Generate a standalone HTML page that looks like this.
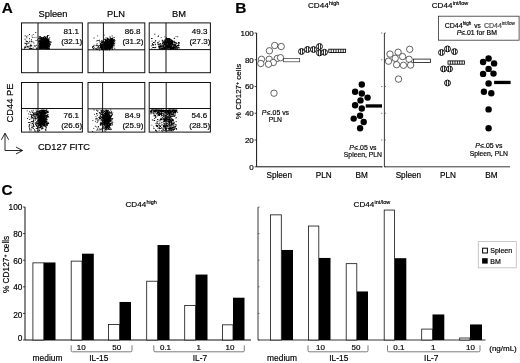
<!DOCTYPE html>
<html><head><meta charset="utf-8"><title>Figure</title>
<style>html,body{margin:0;padding:0;background:#fff;}body{width:520px;height:363px;overflow:hidden;font-family:"Liberation Sans",sans-serif;}svg text{font-family:"Liberation Sans",sans-serif;stroke:#000;stroke-width:0.18px;}</style>
</head><body><svg width="520" height="363" viewBox="0 0 520 363" font-family="Liberation Sans, sans-serif" style="display:block;filter:blur(0.3px)"><text x="1.80" y="12.70" font-size="15.3" text-anchor="start" font-weight="bold" fill="#000" >A</text>
<text x="53.00" y="17.00" font-size="9.3" text-anchor="middle" font-weight="normal" fill="#000" >Spleen</text>
<text x="116.00" y="17.00" font-size="9.3" text-anchor="middle" font-weight="normal" fill="#000" >PLN</text>
<text x="179.00" y="17.00" font-size="9.3" text-anchor="middle" font-weight="normal" fill="#000" >BM</text>
<path d="M42.9 44.7h0.9v0.9h-0.9zM43.0 42.3h0.9v0.9h-0.9zM41.2 42.6h0.9v0.9h-0.9zM46.5 44.5h0.9v0.9h-0.9zM46.3 43.9h0.9v0.9h-0.9zM44.6 43.8h0.9v0.9h-0.9zM39.3 45.8h0.9v0.9h-0.9zM44.9 44.7h0.9v0.9h-0.9zM39.2 38.0h0.9v0.9h-0.9zM41.3 41.8h0.9v0.9h-0.9zM44.4 43.1h0.9v0.9h-0.9zM45.0 41.3h0.9v0.9h-0.9zM44.4 44.4h0.9v0.9h-0.9zM41.9 48.4h0.9v0.9h-0.9zM45.0 46.8h0.9v0.9h-0.9zM42.0 41.0h0.9v0.9h-0.9zM42.7 42.9h0.9v0.9h-0.9zM45.2 43.9h0.9v0.9h-0.9zM42.4 40.3h0.9v0.9h-0.9zM42.2 46.9h0.9v0.9h-0.9zM41.5 43.9h0.9v0.9h-0.9zM44.7 38.7h0.9v0.9h-0.9zM43.7 47.1h0.9v0.9h-0.9zM43.3 40.7h0.9v0.9h-0.9zM44.9 43.0h0.9v0.9h-0.9zM39.8 45.7h0.9v0.9h-0.9zM45.3 46.0h0.9v0.9h-0.9zM47.3 44.3h0.9v0.9h-0.9zM43.9 39.3h0.9v0.9h-0.9zM45.2 41.4h0.9v0.9h-0.9zM42.4 39.4h0.9v0.9h-0.9zM41.1 41.6h0.9v0.9h-0.9zM47.0 37.1h0.9v0.9h-0.9zM39.8 43.9h0.9v0.9h-0.9zM47.4 44.9h0.9v0.9h-0.9zM44.5 41.0h0.9v0.9h-0.9zM40.7 46.1h0.9v0.9h-0.9zM46.5 43.7h0.9v0.9h-0.9zM44.2 44.5h0.9v0.9h-0.9zM47.7 45.1h0.9v0.9h-0.9zM44.9 44.8h0.9v0.9h-0.9zM39.5 47.0h0.9v0.9h-0.9zM46.1 44.8h0.9v0.9h-0.9zM45.8 37.8h0.9v0.9h-0.9zM43.1 46.3h0.9v0.9h-0.9zM40.2 48.0h0.9v0.9h-0.9zM45.0 42.7h0.9v0.9h-0.9zM44.4 45.1h0.9v0.9h-0.9zM43.9 46.6h0.9v0.9h-0.9zM41.9 42.0h0.9v0.9h-0.9zM46.3 43.3h0.9v0.9h-0.9zM41.3 46.0h0.9v0.9h-0.9zM47.4 41.9h0.9v0.9h-0.9zM40.0 42.8h0.9v0.9h-0.9zM43.2 42.3h0.9v0.9h-0.9zM47.3 40.1h0.9v0.9h-0.9zM46.9 39.4h0.9v0.9h-0.9zM41.6 45.1h0.9v0.9h-0.9zM46.5 45.8h0.9v0.9h-0.9zM44.5 43.6h0.9v0.9h-0.9zM44.0 44.9h0.9v0.9h-0.9zM43.1 44.0h0.9v0.9h-0.9zM45.1 43.2h0.9v0.9h-0.9zM45.6 44.9h0.9v0.9h-0.9zM48.8 44.2h0.9v0.9h-0.9zM42.5 42.1h0.9v0.9h-0.9zM43.6 46.0h0.9v0.9h-0.9zM42.7 44.4h0.9v0.9h-0.9zM40.7 43.9h0.9v0.9h-0.9zM44.6 43.9h0.9v0.9h-0.9zM42.5 45.2h0.9v0.9h-0.9zM44.3 41.6h0.9v0.9h-0.9zM49.9 44.3h0.9v0.9h-0.9zM42.2 42.9h0.9v0.9h-0.9zM43.0 43.0h0.9v0.9h-0.9zM46.2 39.7h0.9v0.9h-0.9zM43.4 46.1h0.9v0.9h-0.9zM45.8 47.7h0.9v0.9h-0.9zM39.2 42.1h0.9v0.9h-0.9zM42.7 45.1h0.9v0.9h-0.9zM46.4 38.9h0.9v0.9h-0.9zM45.4 38.7h0.9v0.9h-0.9zM44.1 46.8h0.9v0.9h-0.9zM43.2 43.8h0.9v0.9h-0.9zM45.7 43.6h0.9v0.9h-0.9zM43.4 47.8h0.9v0.9h-0.9zM46.3 42.3h0.9v0.9h-0.9zM46.0 42.4h0.9v0.9h-0.9zM43.9 45.3h0.9v0.9h-0.9zM44.2 45.1h0.9v0.9h-0.9zM39.6 38.7h0.9v0.9h-0.9zM45.2 40.3h0.9v0.9h-0.9zM40.9 38.8h0.9v0.9h-0.9zM46.9 45.4h0.9v0.9h-0.9zM47.4 40.4h0.9v0.9h-0.9zM43.6 39.8h0.9v0.9h-0.9zM45.6 48.0h0.9v0.9h-0.9zM41.3 47.9h0.9v0.9h-0.9zM46.2 42.7h0.9v0.9h-0.9zM43.3 41.4h0.9v0.9h-0.9zM44.6 44.4h0.9v0.9h-0.9zM47.5 40.1h0.9v0.9h-0.9zM46.6 47.7h0.9v0.9h-0.9zM47.4 42.7h0.9v0.9h-0.9zM41.7 46.3h0.9v0.9h-0.9zM43.9 43.6h0.9v0.9h-0.9zM47.3 42.4h0.9v0.9h-0.9zM38.8 45.7h0.9v0.9h-0.9zM44.4 41.4h0.9v0.9h-0.9zM43.6 45.7h0.9v0.9h-0.9zM43.8 47.2h0.9v0.9h-0.9zM43.4 46.3h0.9v0.9h-0.9zM47.5 48.0h0.9v0.9h-0.9zM41.9 45.8h0.9v0.9h-0.9zM38.7 39.9h0.9v0.9h-0.9zM40.4 43.2h0.9v0.9h-0.9zM43.1 43.1h0.9v0.9h-0.9zM42.1 43.9h0.9v0.9h-0.9zM48.3 43.3h0.9v0.9h-0.9zM45.0 46.2h0.9v0.9h-0.9zM43.1 39.4h0.9v0.9h-0.9zM42.2 46.4h0.9v0.9h-0.9zM39.3 41.4h0.9v0.9h-0.9zM46.2 45.6h0.9v0.9h-0.9zM43.6 45.6h0.9v0.9h-0.9zM44.0 39.7h0.9v0.9h-0.9zM39.5 41.3h0.9v0.9h-0.9zM46.0 41.5h0.9v0.9h-0.9zM41.3 40.9h0.9v0.9h-0.9zM39.6 42.8h0.9v0.9h-0.9zM40.5 44.3h0.9v0.9h-0.9zM41.9 37.4h0.9v0.9h-0.9zM45.5 42.4h0.9v0.9h-0.9zM44.4 41.8h0.9v0.9h-0.9zM45.6 45.4h0.9v0.9h-0.9zM45.3 44.2h0.9v0.9h-0.9zM47.1 45.2h0.9v0.9h-0.9zM44.8 36.9h0.9v0.9h-0.9zM45.9 47.1h0.9v0.9h-0.9zM42.8 41.8h0.9v0.9h-0.9zM48.6 37.9h0.9v0.9h-0.9zM41.2 45.3h0.9v0.9h-0.9zM48.5 42.8h0.9v0.9h-0.9zM45.1 45.9h0.9v0.9h-0.9zM41.2 42.9h0.9v0.9h-0.9zM44.4 45.7h0.9v0.9h-0.9zM43.5 42.6h0.9v0.9h-0.9zM41.0 42.1h0.9v0.9h-0.9zM45.9 43.5h0.9v0.9h-0.9zM41.4 40.7h0.9v0.9h-0.9zM45.2 44.6h0.9v0.9h-0.9zM48.0 44.5h0.9v0.9h-0.9zM43.4 44.8h0.9v0.9h-0.9zM44.4 41.1h0.9v0.9h-0.9zM47.0 48.6h0.9v0.9h-0.9zM40.0 41.2h0.9v0.9h-0.9zM44.4 43.8h0.9v0.9h-0.9zM42.6 40.3h0.9v0.9h-0.9zM49.1 46.3h0.9v0.9h-0.9zM40.5 39.2h0.9v0.9h-0.9zM48.0 46.2h0.9v0.9h-0.9zM48.3 45.6h0.9v0.9h-0.9zM41.3 44.0h0.9v0.9h-0.9zM43.4 44.8h0.9v0.9h-0.9zM41.7 42.8h0.9v0.9h-0.9zM44.8 44.3h0.9v0.9h-0.9zM45.3 43.8h0.9v0.9h-0.9zM42.8 45.6h0.9v0.9h-0.9zM43.7 40.7h0.9v0.9h-0.9zM42.0 43.2h0.9v0.9h-0.9zM43.3 43.7h0.9v0.9h-0.9zM43.6 43.7h0.9v0.9h-0.9zM43.3 39.4h0.9v0.9h-0.9zM44.7 46.4h0.9v0.9h-0.9zM44.7 42.6h0.9v0.9h-0.9zM44.8 40.3h0.9v0.9h-0.9zM38.7 43.4h0.9v0.9h-0.9zM41.2 45.4h0.9v0.9h-0.9zM40.9 47.9h0.9v0.9h-0.9zM42.6 39.1h0.9v0.9h-0.9zM41.6 44.8h0.9v0.9h-0.9zM44.9 43.7h0.9v0.9h-0.9zM47.5 45.3h0.9v0.9h-0.9zM43.5 45.0h0.9v0.9h-0.9zM47.9 46.1h0.9v0.9h-0.9zM46.3 40.0h0.9v0.9h-0.9zM43.2 45.4h0.9v0.9h-0.9zM42.8 46.4h0.9v0.9h-0.9zM45.2 45.9h0.9v0.9h-0.9zM46.8 42.6h0.9v0.9h-0.9zM42.7 45.8h0.9v0.9h-0.9zM46.1 43.2h0.9v0.9h-0.9zM40.6 43.8h0.9v0.9h-0.9zM44.5 46.6h0.9v0.9h-0.9zM45.6 43.3h0.9v0.9h-0.9zM45.8 44.8h0.9v0.9h-0.9zM44.1 43.4h0.9v0.9h-0.9zM43.0 45.3h0.9v0.9h-0.9zM40.9 41.3h0.9v0.9h-0.9zM43.6 38.8h0.9v0.9h-0.9zM42.5 37.2h0.9v0.9h-0.9zM41.8 44.9h0.9v0.9h-0.9zM45.1 43.0h0.9v0.9h-0.9zM43.0 38.9h0.9v0.9h-0.9zM48.4 44.7h0.9v0.9h-0.9zM46.4 40.6h0.9v0.9h-0.9zM43.1 37.7h0.9v0.9h-0.9zM45.6 46.0h0.9v0.9h-0.9zM38.7 43.0h0.9v0.9h-0.9zM45.2 37.9h0.9v0.9h-0.9zM38.9 40.0h0.9v0.9h-0.9zM42.0 39.0h0.9v0.9h-0.9zM43.7 43.9h0.9v0.9h-0.9zM45.2 45.3h0.9v0.9h-0.9zM47.5 46.7h0.9v0.9h-0.9zM40.2 41.7h0.9v0.9h-0.9zM40.8 40.0h0.9v0.9h-0.9zM43.4 43.2h0.9v0.9h-0.9zM44.9 38.4h0.9v0.9h-0.9zM40.4 43.1h0.9v0.9h-0.9zM43.1 42.3h0.9v0.9h-0.9zM43.4 40.9h0.9v0.9h-0.9zM45.4 44.3h0.9v0.9h-0.9zM43.4 41.2h0.9v0.9h-0.9zM41.0 43.3h0.9v0.9h-0.9zM39.7 43.8h0.9v0.9h-0.9zM44.0 39.1h0.9v0.9h-0.9zM42.9 42.3h0.9v0.9h-0.9zM44.8 45.0h0.9v0.9h-0.9zM43.5 40.6h0.9v0.9h-0.9zM43.2 43.0h0.9v0.9h-0.9zM45.5 44.1h0.9v0.9h-0.9zM41.7 39.1h0.9v0.9h-0.9zM42.6 41.0h0.9v0.9h-0.9zM40.7 42.9h0.9v0.9h-0.9zM42.3 43.5h0.9v0.9h-0.9zM45.0 42.0h0.9v0.9h-0.9zM49.6 42.2h0.9v0.9h-0.9zM46.5 43.6h0.9v0.9h-0.9zM46.5 36.1h0.9v0.9h-0.9zM41.6 43.9h0.9v0.9h-0.9zM44.4 47.0h0.9v0.9h-0.9zM45.6 46.0h0.9v0.9h-0.9zM44.9 42.7h0.9v0.9h-0.9zM44.9 40.0h0.9v0.9h-0.9zM46.7 40.1h0.9v0.9h-0.9zM43.0 43.3h0.9v0.9h-0.9zM46.6 43.3h0.9v0.9h-0.9zM41.5 44.0h0.9v0.9h-0.9zM45.1 45.3h0.9v0.9h-0.9zM41.6 48.5h0.9v0.9h-0.9zM47.9 43.3h0.9v0.9h-0.9zM44.3 41.9h0.9v0.9h-0.9zM47.3 41.1h0.9v0.9h-0.9zM45.4 41.8h0.9v0.9h-0.9zM41.8 45.4h0.9v0.9h-0.9zM47.1 43.2h0.9v0.9h-0.9zM41.8 45.6h0.9v0.9h-0.9zM43.5 44.1h0.9v0.9h-0.9zM47.6 46.6h0.9v0.9h-0.9zM43.6 45.6h0.9v0.9h-0.9zM41.9 43.1h0.9v0.9h-0.9zM39.1 48.6h0.9v0.9h-0.9zM47.2 39.6h0.9v0.9h-0.9zM39.7 38.3h0.9v0.9h-0.9zM46.7 41.8h0.9v0.9h-0.9zM43.4 42.3h0.9v0.9h-0.9zM43.3 39.9h0.9v0.9h-0.9zM43.7 38.9h0.9v0.9h-0.9zM43.4 44.1h0.9v0.9h-0.9zM44.8 42.5h0.9v0.9h-0.9zM41.3 43.7h0.9v0.9h-0.9zM42.3 47.9h0.9v0.9h-0.9zM45.6 42.9h0.9v0.9h-0.9zM42.4 41.1h0.9v0.9h-0.9zM41.2 42.1h0.9v0.9h-0.9zM44.4 44.7h0.9v0.9h-0.9zM41.8 43.2h0.9v0.9h-0.9zM42.2 43.7h0.9v0.9h-0.9zM44.0 44.4h0.9v0.9h-0.9zM43.0 44.3h0.9v0.9h-0.9zM43.7 45.5h0.9v0.9h-0.9zM38.7 40.5h0.9v0.9h-0.9zM43.6 40.1h0.9v0.9h-0.9zM40.9 45.1h0.9v0.9h-0.9zM41.9 45.1h0.9v0.9h-0.9zM45.5 44.1h0.9v0.9h-0.9zM44.9 42.9h0.9v0.9h-0.9zM39.9 43.1h0.9v0.9h-0.9zM44.8 41.6h0.9v0.9h-0.9zM43.3 45.4h0.9v0.9h-0.9zM41.3 45.1h0.9v0.9h-0.9zM48.4 41.5h0.9v0.9h-0.9zM44.0 42.7h0.9v0.9h-0.9zM47.6 44.1h0.9v0.9h-0.9zM45.9 41.1h0.9v0.9h-0.9zM43.6 43.2h0.9v0.9h-0.9zM39.0 47.5h0.9v0.9h-0.9zM45.9 38.0h0.9v0.9h-0.9zM45.5 42.8h0.9v0.9h-0.9zM44.8 44.3h0.9v0.9h-0.9zM39.7 42.6h0.9v0.9h-0.9zM47.5 41.5h0.9v0.9h-0.9zM40.9 39.1h0.9v0.9h-0.9zM40.4 44.2h0.9v0.9h-0.9zM48.0 44.5h0.9v0.9h-0.9zM42.2 41.2h0.9v0.9h-0.9zM45.0 44.8h0.9v0.9h-0.9zM41.0 39.7h0.9v0.9h-0.9zM44.4 43.9h0.9v0.9h-0.9zM40.2 42.6h0.9v0.9h-0.9zM42.2 44.6h0.9v0.9h-0.9zM43.3 42.9h0.9v0.9h-0.9zM42.7 46.4h0.9v0.9h-0.9zM47.2 42.1h0.9v0.9h-0.9zM45.8 40.9h0.9v0.9h-0.9zM43.8 45.4h0.9v0.9h-0.9zM47.5 42.1h0.9v0.9h-0.9zM43.4 43.8h0.9v0.9h-0.9zM39.7 43.2h0.9v0.9h-0.9zM41.8 44.3h0.9v0.9h-0.9zM40.7 37.3h0.9v0.9h-0.9zM43.7 44.0h0.9v0.9h-0.9zM42.2 45.9h0.9v0.9h-0.9zM42.9 41.4h0.9v0.9h-0.9zM44.8 38.5h0.9v0.9h-0.9zM41.8 43.1h0.9v0.9h-0.9zM45.8 42.7h0.9v0.9h-0.9zM44.4 41.2h0.9v0.9h-0.9zM44.4 48.2h0.9v0.9h-0.9zM41.9 43.3h0.9v0.9h-0.9zM44.1 46.3h0.9v0.9h-0.9zM40.4 36.9h0.9v0.9h-0.9zM45.2 45.6h0.9v0.9h-0.9zM44.1 44.0h0.9v0.9h-0.9zM46.0 44.3h0.9v0.9h-0.9zM47.9 39.5h0.9v0.9h-0.9zM45.7 42.1h0.9v0.9h-0.9zM43.6 42.4h0.9v0.9h-0.9zM42.3 40.7h0.9v0.9h-0.9zM42.0 45.1h0.9v0.9h-0.9zM43.7 43.4h0.9v0.9h-0.9zM43.1 45.9h0.9v0.9h-0.9zM44.9 42.8h0.9v0.9h-0.9zM45.3 42.7h0.9v0.9h-0.9zM40.6 47.6h0.9v0.9h-0.9zM44.8 40.3h0.9v0.9h-0.9zM46.4 44.2h0.9v0.9h-0.9zM39.5 48.0h0.9v0.9h-0.9zM44.5 45.9h0.9v0.9h-0.9zM44.1 42.8h0.9v0.9h-0.9zM39.6 46.1h0.9v0.9h-0.9zM43.7 42.3h0.9v0.9h-0.9zM44.5 43.4h0.9v0.9h-0.9zM45.4 42.1h0.9v0.9h-0.9zM43.5 36.8h0.9v0.9h-0.9zM42.5 45.2h0.9v0.9h-0.9zM47.1 42.1h0.9v0.9h-0.9zM43.3 48.0h0.9v0.9h-0.9zM42.8 45.4h0.9v0.9h-0.9zM48.0 43.3h0.9v0.9h-0.9zM46.8 41.1h0.9v0.9h-0.9zM44.1 43.0h0.9v0.9h-0.9zM43.9 46.6h0.9v0.9h-0.9zM49.8 41.2h0.9v0.9h-0.9zM42.1 44.7h0.9v0.9h-0.9zM40.9 44.7h0.9v0.9h-0.9zM45.1 42.4h0.9v0.9h-0.9zM45.0 38.6h0.9v0.9h-0.9zM45.6 38.6h0.9v0.9h-0.9zM41.8 41.5h0.9v0.9h-0.9zM42.6 45.8h0.9v0.9h-0.9zM43.8 42.0h0.9v0.9h-0.9zM45.0 47.9h0.9v0.9h-0.9zM43.6 44.3h0.9v0.9h-0.9zM46.8 44.0h0.9v0.9h-0.9zM49.3 37.2h0.9v0.9h-0.9zM43.5 44.5h0.9v0.9h-0.9zM46.1 45.2h0.9v0.9h-0.9zM42.9 40.0h0.9v0.9h-0.9zM43.9 46.3h0.9v0.9h-0.9zM40.8 40.1h0.9v0.9h-0.9zM43.5 37.4h0.9v0.9h-0.9zM42.9 41.9h0.9v0.9h-0.9zM44.8 41.1h0.9v0.9h-0.9zM41.3 42.0h0.9v0.9h-0.9zM43.5 41.2h0.9v0.9h-0.9zM43.6 45.5h0.9v0.9h-0.9zM46.7 48.3h0.9v0.9h-0.9zM41.6 41.9h0.9v0.9h-0.9zM41.7 43.1h0.9v0.9h-0.9zM45.0 39.1h0.9v0.9h-0.9zM44.8 43.1h0.9v0.9h-0.9zM38.9 44.1h0.9v0.9h-0.9zM46.7 37.6h0.9v0.9h-0.9zM45.7 43.8h0.9v0.9h-0.9zM44.8 44.5h0.9v0.9h-0.9zM47.0 42.5h0.9v0.9h-0.9zM45.9 42.0h0.9v0.9h-0.9zM45.5 40.8h0.9v0.9h-0.9zM43.3 48.4h0.9v0.9h-0.9zM44.8 42.7h0.9v0.9h-0.9zM40.6 40.8h0.9v0.9h-0.9zM44.1 46.0h0.9v0.9h-0.9zM44.7 44.8h0.9v0.9h-0.9zM43.5 47.3h0.9v0.9h-0.9zM42.6 41.6h0.9v0.9h-0.9zM45.9 43.4h0.9v0.9h-0.9zM42.9 41.5h0.9v0.9h-0.9zM42.9 45.1h0.9v0.9h-0.9zM44.5 39.6h0.9v0.9h-0.9zM44.7 43.7h0.9v0.9h-0.9zM41.0 45.5h0.9v0.9h-0.9zM42.9 42.2h0.9v0.9h-0.9zM45.7 47.2h0.9v0.9h-0.9zM41.8 44.5h0.9v0.9h-0.9zM42.3 46.8h0.9v0.9h-0.9zM41.9 45.6h0.9v0.9h-0.9zM42.5 44.7h0.9v0.9h-0.9zM43.4 41.2h0.9v0.9h-0.9zM49.2 43.4h0.9v0.9h-0.9zM39.3 45.8h0.9v0.9h-0.9zM39.1 46.7h0.9v0.9h-0.9zM42.1 43.6h0.9v0.9h-0.9zM46.9 43.6h0.9v0.9h-0.9zM40.0 38.1h0.9v0.9h-0.9zM46.7 45.4h0.9v0.9h-0.9zM41.5 45.8h0.9v0.9h-0.9zM44.9 45.1h0.9v0.9h-0.9zM45.9 45.4h0.9v0.9h-0.9zM44.0 44.7h0.9v0.9h-0.9zM42.7 43.3h0.9v0.9h-0.9zM45.9 41.9h0.9v0.9h-0.9zM46.6 40.8h0.9v0.9h-0.9zM44.3 41.6h0.9v0.9h-0.9zM44.0 41.1h0.9v0.9h-0.9zM39.4 46.5h0.9v0.9h-0.9zM44.4 41.5h0.9v0.9h-0.9zM44.1 46.2h0.9v0.9h-0.9zM41.1 42.9h0.9v0.9h-0.9zM45.0 44.8h0.9v0.9h-0.9zM42.7 36.9h0.9v0.9h-0.9zM46.8 44.2h0.9v0.9h-0.9zM43.6 42.4h0.9v0.9h-0.9zM44.3 41.9h0.9v0.9h-0.9zM40.9 41.0h0.9v0.9h-0.9zM42.0 41.4h0.9v0.9h-0.9zM40.6 45.1h0.9v0.9h-0.9zM40.2 45.2h0.9v0.9h-0.9zM41.0 44.3h0.9v0.9h-0.9zM47.2 43.8h0.9v0.9h-0.9zM41.7 43.3h0.9v0.9h-0.9zM44.0 38.0h0.9v0.9h-0.9zM42.0 43.7h0.9v0.9h-0.9zM42.4 43.4h0.9v0.9h-0.9zM45.5 45.5h0.9v0.9h-0.9zM46.0 45.0h0.9v0.9h-0.9zM42.9 43.1h0.9v0.9h-0.9zM42.9 42.3h0.9v0.9h-0.9zM43.1 38.0h0.9v0.9h-0.9zM42.7 43.1h0.9v0.9h-0.9zM41.1 43.1h0.9v0.9h-0.9zM44.9 42.7h0.9v0.9h-0.9zM43.1 37.7h0.9v0.9h-0.9zM44.9 42.3h0.9v0.9h-0.9zM45.0 36.5h0.9v0.9h-0.9zM45.8 44.3h0.9v0.9h-0.9zM43.7 41.4h0.9v0.9h-0.9zM45.3 41.7h0.9v0.9h-0.9zM44.2 41.7h0.9v0.9h-0.9zM44.1 45.5h0.9v0.9h-0.9zM41.3 43.1h0.9v0.9h-0.9zM45.2 43.6h0.9v0.9h-0.9zM41.2 37.4h0.9v0.9h-0.9zM45.8 47.8h0.9v0.9h-0.9zM46.0 45.6h0.9v0.9h-0.9zM42.0 41.1h0.9v0.9h-0.9zM45.9 40.5h0.9v0.9h-0.9zM38.9 40.2h0.9v0.9h-0.9zM41.8 41.0h0.9v0.9h-0.9zM44.2 41.0h0.9v0.9h-0.9zM47.0 43.0h0.9v0.9h-0.9zM40.8 47.1h0.9v0.9h-0.9zM42.1 43.9h0.9v0.9h-0.9zM43.6 42.3h0.9v0.9h-0.9zM44.4 41.1h0.9v0.9h-0.9zM38.8 36.6h0.9v0.9h-0.9zM40.3 40.9h0.9v0.9h-0.9zM43.5 43.4h0.9v0.9h-0.9zM45.0 43.6h0.9v0.9h-0.9zM41.5 41.1h0.9v0.9h-0.9zM44.9 44.8h0.9v0.9h-0.9zM43.3 42.7h0.9v0.9h-0.9zM46.0 43.2h0.9v0.9h-0.9zM45.5 44.9h0.9v0.9h-0.9zM44.2 47.1h0.9v0.9h-0.9zM42.1 42.1h0.9v0.9h-0.9zM41.5 40.8h0.9v0.9h-0.9zM47.6 48.5h0.9v0.9h-0.9zM43.7 44.9h0.9v0.9h-0.9zM46.7 45.6h0.9v0.9h-0.9zM46.7 39.4h0.9v0.9h-0.9zM41.9 44.6h0.9v0.9h-0.9zM47.3 43.5h0.9v0.9h-0.9zM41.4 42.1h0.9v0.9h-0.9zM41.9 40.6h0.9v0.9h-0.9zM47.5 41.3h0.9v0.9h-0.9zM46.7 44.2h0.9v0.9h-0.9zM42.0 44.4h0.9v0.9h-0.9zM47.8 45.1h0.9v0.9h-0.9zM46.9 43.5h0.9v0.9h-0.9zM44.9 42.6h0.9v0.9h-0.9zM44.7 47.1h0.9v0.9h-0.9zM39.9 43.0h0.9v0.9h-0.9zM44.2 41.5h0.9v0.9h-0.9zM42.8 45.6h0.9v0.9h-0.9zM48.8 45.1h0.9v0.9h-0.9zM44.4 38.5h0.9v0.9h-0.9zM48.6 43.4h0.9v0.9h-0.9zM43.5 39.8h0.9v0.9h-0.9zM43.5 39.9h0.9v0.9h-0.9zM43.8 44.6h0.9v0.9h-0.9zM43.7 44.0h0.9v0.9h-0.9zM41.4 47.5h0.9v0.9h-0.9zM41.9 37.7h0.9v0.9h-0.9zM43.1 40.9h0.9v0.9h-0.9zM41.0 42.1h0.9v0.9h-0.9zM44.4 39.7h0.9v0.9h-0.9zM43.2 47.5h0.9v0.9h-0.9zM45.4 42.7h0.9v0.9h-0.9zM43.9 42.8h0.9v0.9h-0.9zM43.5 45.4h0.9v0.9h-0.9zM43.5 40.5h0.9v0.9h-0.9zM45.3 41.4h0.9v0.9h-0.9zM40.9 39.8h0.9v0.9h-0.9zM39.9 36.0h0.9v0.9h-0.9zM38.7 44.3h0.9v0.9h-0.9zM41.9 37.6h0.9v0.9h-0.9zM39.7 45.1h0.9v0.9h-0.9zM41.6 42.1h0.9v0.9h-0.9zM44.5 47.3h0.9v0.9h-0.9zM48.6 46.3h0.9v0.9h-0.9zM44.0 43.8h0.9v0.9h-0.9zM48.3 47.5h0.9v0.9h-0.9zM42.8 44.6h0.9v0.9h-0.9zM44.3 43.4h0.9v0.9h-0.9zM42.3 39.2h0.9v0.9h-0.9zM42.2 38.6h0.9v0.9h-0.9zM46.8 44.8h0.9v0.9h-0.9zM40.5 47.4h0.9v0.9h-0.9zM45.9 37.5h0.9v0.9h-0.9zM48.4 45.6h0.9v0.9h-0.9zM49.0 39.5h0.9v0.9h-0.9zM45.0 44.5h0.9v0.9h-0.9zM44.1 43.7h0.9v0.9h-0.9zM46.3 38.7h0.9v0.9h-0.9zM40.4 39.0h0.9v0.9h-0.9zM42.2 41.4h0.9v0.9h-0.9zM44.6 44.0h0.9v0.9h-0.9zM43.7 41.2h0.9v0.9h-0.9zM42.5 46.1h0.9v0.9h-0.9zM45.6 43.5h0.9v0.9h-0.9zM42.8 47.9h0.9v0.9h-0.9zM42.1 45.1h0.9v0.9h-0.9zM46.6 42.4h0.9v0.9h-0.9zM45.7 39.9h0.9v0.9h-0.9zM46.2 43.8h0.9v0.9h-0.9zM39.5 45.2h0.9v0.9h-0.9zM41.3 47.0h0.9v0.9h-0.9zM41.8 42.7h0.9v0.9h-0.9zM44.3 42.2h0.9v0.9h-0.9zM44.3 41.5h0.9v0.9h-0.9zM45.3 43.2h0.9v0.9h-0.9zM46.6 43.3h0.9v0.9h-0.9zM39.0 43.5h0.9v0.9h-0.9zM44.8 46.4h0.9v0.9h-0.9zM40.8 47.8h0.9v0.9h-0.9zM43.2 45.2h0.9v0.9h-0.9zM42.6 39.9h0.9v0.9h-0.9zM46.5 45.9h0.9v0.9h-0.9zM47.6 45.8h0.9v0.9h-0.9zM42.1 38.2h0.9v0.9h-0.9zM41.9 41.2h0.9v0.9h-0.9zM41.5 44.9h0.9v0.9h-0.9zM44.5 42.4h0.9v0.9h-0.9zM44.0 42.8h0.9v0.9h-0.9zM44.2 45.5h0.9v0.9h-0.9zM46.1 41.1h0.9v0.9h-0.9zM39.7 47.5h0.9v0.9h-0.9zM43.9 46.5h0.9v0.9h-0.9zM39.3 42.2h0.9v0.9h-0.9zM43.7 38.9h0.9v0.9h-0.9zM42.3 45.4h0.9v0.9h-0.9zM46.4 48.0h0.9v0.9h-0.9zM41.4 39.0h0.9v0.9h-0.9zM45.0 46.0h0.9v0.9h-0.9zM44.1 39.3h0.9v0.9h-0.9zM45.6 45.6h0.9v0.9h-0.9zM45.0 41.7h0.9v0.9h-0.9zM44.4 45.6h0.9v0.9h-0.9zM42.1 37.7h0.9v0.9h-0.9zM44.5 44.6h0.9v0.9h-0.9zM43.6 45.9h0.9v0.9h-0.9zM42.1 43.0h0.9v0.9h-0.9zM42.8 44.9h0.9v0.9h-0.9zM47.7 42.4h0.9v0.9h-0.9zM48.9 47.8h0.9v0.9h-0.9zM45.7 45.0h0.9v0.9h-0.9zM48.2 42.7h0.9v0.9h-0.9zM43.3 40.0h0.9v0.9h-0.9zM44.8 47.2h0.9v0.9h-0.9zM45.0 44.5h0.9v0.9h-0.9zM43.1 43.7h0.9v0.9h-0.9zM39.9 46.3h0.9v0.9h-0.9zM42.5 39.9h0.9v0.9h-0.9zM41.6 40.7h0.9v0.9h-0.9zM45.8 46.4h0.9v0.9h-0.9zM40.1 46.0h0.9v0.9h-0.9zM45.9 41.5h0.9v0.9h-0.9zM39.7 41.0h0.9v0.9h-0.9zM42.0 44.2h0.9v0.9h-0.9zM42.7 37.1h0.9v0.9h-0.9zM44.2 38.6h0.9v0.9h-0.9zM46.0 39.6h0.9v0.9h-0.9zM41.8 40.6h0.9v0.9h-0.9zM42.2 47.1h0.9v0.9h-0.9zM45.8 45.0h0.9v0.9h-0.9zM44.4 38.6h0.9v0.9h-0.9zM42.2 41.5h0.9v0.9h-0.9zM41.1 44.7h0.9v0.9h-0.9zM41.7 41.1h0.9v0.9h-0.9zM40.9 37.0h0.9v0.9h-0.9zM45.1 47.2h0.9v0.9h-0.9zM44.1 40.3h0.9v0.9h-0.9zM46.8 44.1h0.9v0.9h-0.9zM46.0 47.6h0.9v0.9h-0.9zM46.5 41.9h0.9v0.9h-0.9zM46.3 45.5h0.9v0.9h-0.9zM39.6 42.0h0.9v0.9h-0.9zM39.9 42.9h0.9v0.9h-0.9zM45.1 40.0h0.9v0.9h-0.9zM44.6 47.6h0.9v0.9h-0.9zM40.2 46.4h0.9v0.9h-0.9zM43.1 44.0h0.9v0.9h-0.9zM43.2 46.2h0.9v0.9h-0.9zM46.3 43.5h0.9v0.9h-0.9zM40.1 45.4h0.9v0.9h-0.9zM42.4 45.1h0.9v0.9h-0.9zM44.3 48.1h0.9v0.9h-0.9zM46.6 41.8h0.9v0.9h-0.9zM44.5 48.5h0.9v0.9h-0.9zM42.2 44.5h0.9v0.9h-0.9zM46.7 47.0h0.9v0.9h-0.9zM44.9 39.2h0.9v0.9h-0.9zM40.3 43.9h0.9v0.9h-0.9zM41.4 46.6h0.9v0.9h-0.9zM45.6 38.2h0.9v0.9h-0.9zM41.5 43.7h0.9v0.9h-0.9zM42.3 42.7h0.9v0.9h-0.9zM44.8 40.8h0.9v0.9h-0.9zM44.8 41.3h0.9v0.9h-0.9zM42.2 44.8h0.9v0.9h-0.9zM42.1 44.1h0.9v0.9h-0.9zM47.8 43.3h0.9v0.9h-0.9zM43.2 45.4h0.9v0.9h-0.9zM42.6 46.4h0.9v0.9h-0.9zM40.3 45.1h0.9v0.9h-0.9zM42.3 40.8h0.9v0.9h-0.9zM48.2 40.6h0.9v0.9h-0.9zM48.2 45.2h0.9v0.9h-0.9zM47.4 40.3h0.9v0.9h-0.9zM46.7 47.6h0.9v0.9h-0.9zM43.3 42.8h0.9v0.9h-0.9zM50.0 43.7h0.9v0.9h-0.9zM42.5 41.3h0.9v0.9h-0.9zM44.8 44.2h0.9v0.9h-0.9zM44.1 48.4h0.9v0.9h-0.9zM42.7 44.6h0.9v0.9h-0.9zM47.4 40.2h0.9v0.9h-0.9zM46.3 48.7h0.9v0.9h-0.9zM40.1 39.9h0.9v0.9h-0.9zM40.9 37.7h0.9v0.9h-0.9zM44.8 37.6h0.9v0.9h-0.9zM44.9 47.6h0.9v0.9h-0.9zM39.4 42.3h0.9v0.9h-0.9zM38.6 45.5h0.9v0.9h-0.9zM41.7 42.4h0.9v0.9h-0.9zM43.7 44.8h0.9v0.9h-0.9zM42.7 43.2h0.9v0.9h-0.9zM42.2 43.5h0.9v0.9h-0.9zM40.6 43.4h0.9v0.9h-0.9zM48.6 43.4h0.9v0.9h-0.9zM40.3 44.0h0.9v0.9h-0.9zM41.1 38.2h0.9v0.9h-0.9zM41.7 45.4h0.9v0.9h-0.9zM44.6 42.9h0.9v0.9h-0.9zM41.2 40.0h0.9v0.9h-0.9zM47.1 43.9h0.9v0.9h-0.9zM41.1 36.9h0.9v0.9h-0.9zM40.6 43.0h0.9v0.9h-0.9zM44.1 42.7h0.9v0.9h-0.9zM42.9 39.1h0.9v0.9h-0.9zM40.9 48.3h0.9v0.9h-0.9zM41.6 45.7h0.9v0.9h-0.9zM39.2 42.4h0.9v0.9h-0.9zM44.3 46.3h0.9v0.9h-0.9zM40.7 45.0h0.9v0.9h-0.9zM44.6 41.0h0.9v0.9h-0.9zM44.8 40.5h0.9v0.9h-0.9zM41.5 43.1h0.9v0.9h-0.9zM41.0 38.8h0.9v0.9h-0.9zM42.5 45.5h0.9v0.9h-0.9zM42.5 47.0h0.9v0.9h-0.9zM40.6 39.3h0.9v0.9h-0.9zM47.6 44.4h0.9v0.9h-0.9zM46.1 40.7h0.9v0.9h-0.9zM45.7 44.0h0.9v0.9h-0.9zM45.3 43.3h0.9v0.9h-0.9zM46.7 41.3h0.9v0.9h-0.9zM41.1 38.8h0.9v0.9h-0.9zM46.6 41.0h0.9v0.9h-0.9zM40.9 40.4h0.9v0.9h-0.9zM42.4 39.4h0.9v0.9h-0.9zM42.8 41.3h0.9v0.9h-0.9zM42.2 40.3h0.9v0.9h-0.9zM43.7 41.8h0.9v0.9h-0.9zM43.9 43.9h0.9v0.9h-0.9zM44.5 36.6h0.9v0.9h-0.9zM42.2 40.8h0.9v0.9h-0.9zM45.6 38.5h0.9v0.9h-0.9zM41.7 42.3h0.9v0.9h-0.9zM42.7 46.2h0.9v0.9h-0.9zM42.4 46.1h0.9v0.9h-0.9zM39.8 37.8h0.9v0.9h-0.9zM46.8 44.5h0.9v0.9h-0.9zM44.9 43.6h0.9v0.9h-0.9zM44.9 39.6h0.9v0.9h-0.9zM46.1 41.6h0.9v0.9h-0.9zM46.2 43.5h0.9v0.9h-0.9zM46.5 42.8h0.9v0.9h-0.9zM42.6 43.9h0.9v0.9h-0.9zM42.5 41.6h0.9v0.9h-0.9zM43.9 43.6h0.9v0.9h-0.9zM47.5 43.3h0.9v0.9h-0.9zM48.5 48.6h0.9v0.9h-0.9zM48.1 46.4h0.9v0.9h-0.9zM43.9 43.6h0.9v0.9h-0.9zM43.2 41.0h0.9v0.9h-0.9zM43.4 41.3h0.9v0.9h-0.9zM47.9 44.8h0.9v0.9h-0.9zM42.4 37.5h0.9v0.9h-0.9zM43.5 42.0h0.9v0.9h-0.9zM40.8 39.8h0.9v0.9h-0.9zM43.5 42.8h0.9v0.9h-0.9zM47.4 43.6h0.9v0.9h-0.9zM44.0 42.1h0.9v0.9h-0.9zM42.0 47.7h0.9v0.9h-0.9zM46.2 48.3h0.9v0.9h-0.9zM42.7 43.3h0.9v0.9h-0.9zM41.3 46.1h0.9v0.9h-0.9zM40.0 44.9h0.9v0.9h-0.9zM46.4 47.4h0.9v0.9h-0.9zM41.2 46.5h0.9v0.9h-0.9zM41.7 40.9h0.9v0.9h-0.9zM40.2 46.7h0.9v0.9h-0.9zM47.9 41.4h0.9v0.9h-0.9zM41.6 42.2h0.9v0.9h-0.9zM42.2 37.8h0.9v0.9h-0.9zM41.9 46.8h0.9v0.9h-0.9zM48.5 42.4h0.9v0.9h-0.9zM41.8 41.7h0.9v0.9h-0.9zM38.7 45.9h0.9v0.9h-0.9zM40.8 46.4h0.9v0.9h-0.9zM39.2 39.4h0.9v0.9h-0.9zM44.3 40.9h0.9v0.9h-0.9zM45.6 43.2h0.9v0.9h-0.9zM40.5 45.1h0.9v0.9h-0.9zM45.8 37.5h0.9v0.9h-0.9zM48.3 44.7h0.9v0.9h-0.9zM45.6 37.6h0.9v0.9h-0.9zM41.7 42.2h0.9v0.9h-0.9zM46.4 38.8h0.9v0.9h-0.9zM41.3 37.1h0.9v0.9h-0.9zM43.0 44.2h0.9v0.9h-0.9zM39.2 41.4h0.9v0.9h-0.9zM44.9 48.0h0.9v0.9h-0.9zM45.3 42.3h0.9v0.9h-0.9zM40.5 40.4h0.9v0.9h-0.9zM41.9 43.6h0.9v0.9h-0.9zM43.5 48.2h0.9v0.9h-0.9zM44.3 40.0h0.9v0.9h-0.9zM47.6 46.0h0.9v0.9h-0.9zM43.9 41.0h0.9v0.9h-0.9zM38.7 40.1h0.9v0.9h-0.9zM46.0 40.8h0.9v0.9h-0.9zM40.2 43.8h0.9v0.9h-0.9zM44.2 45.0h0.9v0.9h-0.9zM45.3 47.4h0.9v0.9h-0.9zM41.4 46.1h0.9v0.9h-0.9zM41.0 45.3h0.9v0.9h-0.9zM44.1 43.9h0.9v0.9h-0.9zM46.1 43.1h0.9v0.9h-0.9zM46.5 45.8h0.9v0.9h-0.9zM44.0 41.5h0.9v0.9h-0.9zM41.6 41.6h0.9v0.9h-0.9zM43.1 43.1h0.9v0.9h-0.9zM45.6 40.6h0.9v0.9h-0.9zM41.8 42.2h0.9v0.9h-0.9zM44.1 40.1h0.9v0.9h-0.9zM47.8 41.5h0.9v0.9h-0.9zM46.4 36.2h0.9v0.9h-0.9zM43.6 44.0h0.9v0.9h-0.9zM44.1 45.0h0.9v0.9h-0.9zM44.3 43.7h0.9v0.9h-0.9zM38.7 41.1h0.9v0.9h-0.9zM44.4 42.6h0.9v0.9h-0.9zM41.5 41.5h0.9v0.9h-0.9zM48.4 48.4h0.9v0.9h-0.9zM43.4 47.1h0.9v0.9h-0.9zM39.5 37.4h0.9v0.9h-0.9zM42.3 40.6h0.9v0.9h-0.9zM42.1 43.8h0.9v0.9h-0.9zM43.7 44.0h0.9v0.9h-0.9zM43.5 46.0h0.9v0.9h-0.9zM48.2 39.5h0.9v0.9h-0.9zM44.0 42.4h0.9v0.9h-0.9zM44.5 38.6h0.9v0.9h-0.9zM39.0 36.3h0.9v0.9h-0.9zM45.0 43.8h0.9v0.9h-0.9zM43.8 36.1h0.9v0.9h-0.9zM42.6 40.9h0.9v0.9h-0.9zM39.9 40.5h0.9v0.9h-0.9zM45.4 44.8h0.9v0.9h-0.9zM43.5 44.7h0.9v0.9h-0.9zM42.0 43.4h0.9v0.9h-0.9zM43.7 44.9h0.9v0.9h-0.9zM43.4 42.8h0.9v0.9h-0.9zM43.2 41.3h0.9v0.9h-0.9zM49.4 44.7h0.9v0.9h-0.9zM47.2 38.5h0.9v0.9h-0.9zM45.4 45.7h0.9v0.9h-0.9zM48.5 47.1h0.9v0.9h-0.9zM45.6 39.7h0.9v0.9h-0.9zM41.3 44.0h0.9v0.9h-0.9zM44.9 40.1h0.9v0.9h-0.9zM42.6 42.0h0.9v0.9h-0.9zM43.8 44.2h0.9v0.9h-0.9zM42.9 39.5h0.9v0.9h-0.9zM46.8 48.0h0.9v0.9h-0.9zM43.3 46.3h0.9v0.9h-0.9zM44.8 45.2h0.9v0.9h-0.9zM44.9 40.9h0.9v0.9h-0.9zM45.1 46.2h0.9v0.9h-0.9zM49.0 48.7h0.9v0.9h-0.9zM48.8 45.4h0.9v0.9h-0.9zM42.7 41.4h0.9v0.9h-0.9zM41.5 43.5h0.9v0.9h-0.9zM43.5 45.2h0.9v0.9h-0.9zM49.5 43.1h0.9v0.9h-0.9zM45.4 44.6h0.9v0.9h-0.9zM44.3 42.6h0.9v0.9h-0.9zM43.3 40.7h0.9v0.9h-0.9zM44.1 43.1h0.9v0.9h-0.9zM44.4 40.6h0.9v0.9h-0.9zM43.7 43.3h0.9v0.9h-0.9zM45.2 40.0h0.9v0.9h-0.9zM44.7 46.1h0.9v0.9h-0.9zM45.2 42.1h0.9v0.9h-0.9zM42.3 42.5h0.9v0.9h-0.9zM45.5 47.9h0.9v0.9h-0.9zM43.2 41.3h0.9v0.9h-0.9zM44.6 43.8h0.9v0.9h-0.9zM41.2 41.0h0.9v0.9h-0.9zM43.3 45.2h0.9v0.9h-0.9zM40.5 40.1h0.9v0.9h-0.9zM44.9 39.5h0.9v0.9h-0.9zM43.9 44.3h0.9v0.9h-0.9zM43.3 40.1h0.9v0.9h-0.9zM43.4 42.2h0.9v0.9h-0.9zM44.5 40.7h0.9v0.9h-0.9zM46.4 38.2h0.9v0.9h-0.9zM43.1 43.2h0.9v0.9h-0.9zM46.1 41.4h0.9v0.9h-0.9zM45.0 41.5h0.9v0.9h-0.9zM45.5 48.4h0.9v0.9h-0.9zM42.6 44.5h0.9v0.9h-0.9zM41.2 46.1h0.9v0.9h-0.9zM46.7 43.3h0.9v0.9h-0.9zM40.6 44.4h0.9v0.9h-0.9zM46.6 46.5h0.9v0.9h-0.9zM45.7 37.7h0.9v0.9h-0.9zM41.8 47.5h0.9v0.9h-0.9zM40.4 46.6h0.9v0.9h-0.9zM48.5 45.5h0.9v0.9h-0.9zM46.5 42.2h0.9v0.9h-0.9zM40.4 42.9h0.9v0.9h-0.9zM43.1 43.1h0.9v0.9h-0.9zM45.4 42.8h0.9v0.9h-0.9zM44.1 44.5h0.9v0.9h-0.9zM44.8 43.5h0.9v0.9h-0.9zM43.2 40.6h0.9v0.9h-0.9zM49.4 43.6h0.9v0.9h-0.9zM39.7 40.9h0.9v0.9h-0.9zM43.5 41.3h0.9v0.9h-0.9zM48.3 38.6h0.9v0.9h-0.9zM46.0 43.5h0.9v0.9h-0.9zM39.3 43.2h0.9v0.9h-0.9zM43.6 44.9h0.9v0.9h-0.9zM42.2 44.2h0.9v0.9h-0.9zM37.3 38.9h0.9v0.9h-0.9zM47.1 47.0h0.9v0.9h-0.9zM43.9 40.7h0.9v0.9h-0.9zM48.3 35.1h0.9v0.9h-0.9zM40.8 45.6h0.9v0.9h-0.9zM46.6 39.1h0.9v0.9h-0.9zM36.5 48.5h0.9v0.9h-0.9zM44.6 39.6h0.9v0.9h-0.9zM44.2 46.4h0.9v0.9h-0.9zM47.0 35.1h0.9v0.9h-0.9zM47.1 36.2h0.9v0.9h-0.9zM48.6 44.5h0.9v0.9h-0.9zM44.0 47.0h0.9v0.9h-0.9zM41.4 40.3h0.9v0.9h-0.9zM42.5 42.7h0.9v0.9h-0.9zM39.7 44.8h0.9v0.9h-0.9zM46.2 43.3h0.9v0.9h-0.9zM50.8 41.8h0.9v0.9h-0.9zM49.2 40.9h0.9v0.9h-0.9zM47.0 35.6h0.9v0.9h-0.9zM44.8 42.3h0.9v0.9h-0.9zM42.0 40.7h0.9v0.9h-0.9zM42.6 40.3h0.9v0.9h-0.9zM41.8 41.0h0.9v0.9h-0.9zM39.8 42.5h0.9v0.9h-0.9zM47.1 42.0h0.9v0.9h-0.9zM42.0 48.2h0.9v0.9h-0.9zM47.9 46.5h0.9v0.9h-0.9zM48.6 41.8h0.9v0.9h-0.9zM43.5 47.2h0.9v0.9h-0.9zM41.8 42.5h0.9v0.9h-0.9zM45.5 44.4h0.9v0.9h-0.9zM42.9 46.7h0.9v0.9h-0.9zM43.3 45.8h0.9v0.9h-0.9zM48.3 45.5h0.9v0.9h-0.9zM46.9 38.6h0.9v0.9h-0.9zM38.8 40.6h0.9v0.9h-0.9zM39.1 44.2h0.9v0.9h-0.9zM40.6 40.2h0.9v0.9h-0.9zM42.9 45.6h0.9v0.9h-0.9zM44.9 47.5h0.9v0.9h-0.9zM40.1 46.4h0.9v0.9h-0.9zM47.7 43.3h0.9v0.9h-0.9zM45.9 40.9h0.9v0.9h-0.9zM39.6 41.5h0.9v0.9h-0.9zM44.8 44.2h0.9v0.9h-0.9zM47.0 40.0h0.9v0.9h-0.9zM47.7 44.4h0.9v0.9h-0.9zM37.9 45.3h0.9v0.9h-0.9zM46.2 44.7h0.9v0.9h-0.9zM50.3 41.4h0.9v0.9h-0.9zM46.0 45.8h0.9v0.9h-0.9zM40.4 47.6h0.9v0.9h-0.9zM38.2 38.1h0.9v0.9h-0.9zM46.1 38.9h0.9v0.9h-0.9zM43.5 36.7h0.9v0.9h-0.9zM44.3 38.7h0.9v0.9h-0.9zM45.4 37.2h0.9v0.9h-0.9zM45.8 42.0h0.9v0.9h-0.9zM44.3 42.7h0.9v0.9h-0.9zM44.5 38.0h0.9v0.9h-0.9zM31.0 48.0h0.9v0.9h-0.9zM30.4 43.8h0.9v0.9h-0.9zM29.5 40.8h0.9v0.9h-0.9zM31.0 38.9h0.9v0.9h-0.9zM28.9 47.8h0.9v0.9h-0.9zM36.3 48.1h0.9v0.9h-0.9zM35.6 40.1h0.9v0.9h-0.9zM37.9 46.7h0.9v0.9h-0.9zM32.8 41.7h0.9v0.9h-0.9zM37.9 42.3h0.9v0.9h-0.9zM29.8 44.9h0.9v0.9h-0.9zM27.7 42.4h0.9v0.9h-0.9zM38.0 41.2h0.9v0.9h-0.9zM31.3 45.6h0.9v0.9h-0.9zM35.3 32.1h0.9v0.9h-0.9zM25.4 47.0h0.9v0.9h-0.9zM24.8 46.8h0.9v0.9h-0.9zM30.8 45.0h0.9v0.9h-0.9zM26.4 37.3h0.9v0.9h-0.9zM25.6 40.4h0.9v0.9h-0.9zM35.6 37.2h0.9v0.9h-0.9zM24.5 42.8h0.9v0.9h-0.9zM26.2 43.5h0.9v0.9h-0.9zM27.8 45.8h0.9v0.9h-0.9zM30.2 45.8h0.9v0.9h-0.9zM29.3 48.0h0.9v0.9h-0.9zM37.3 39.9h0.9v0.9h-0.9zM27.7 46.9h0.9v0.9h-0.9zM27.0 46.4h0.9v0.9h-0.9zM31.2 40.6h0.9v0.9h-0.9zM28.5 42.7h0.9v0.9h-0.9zM25.9 35.9h0.9v0.9h-0.9zM33.5 42.7h0.9v0.9h-0.9zM27.5 46.0h0.9v0.9h-0.9zM32.8 34.2h0.9v0.9h-0.9zM26.5 45.9h0.9v0.9h-0.9zM33.6 37.2h0.9v0.9h-0.9zM35.7 44.7h0.9v0.9h-0.9zM24.6 46.1h0.9v0.9h-0.9zM24.7 35.3h0.9v0.9h-0.9zM29.9 47.5h0.9v0.9h-0.9zM34.3 45.7h0.9v0.9h-0.9zM25.8 44.5h0.9v0.9h-0.9zM33.8 45.3h0.9v0.9h-0.9zM31.6 48.2h0.9v0.9h-0.9zM31.6 35.4h0.9v0.9h-0.9zM29.0 38.3h0.9v0.9h-0.9zM26.0 41.0h0.9v0.9h-0.9zM26.4 42.8h0.9v0.9h-0.9zM26.8 43.4h0.9v0.9h-0.9zM29.1 34.0h0.9v0.9h-0.9zM24.2 48.6h0.9v0.9h-0.9zM24.1 47.3h0.9v0.9h-0.9zM32.8 47.6h0.9v0.9h-0.9zM27.5 35.4h0.9v0.9h-0.9zM35.8 47.4h0.9v0.9h-0.9zM35.0 45.7h0.9v0.9h-0.9zM29.2 45.7h0.9v0.9h-0.9zM25.1 43.2h0.9v0.9h-0.9zM30.2 48.2h0.9v0.9h-0.9zM24.6 38.8h0.9v0.9h-0.9zM36.0 44.9h0.9v0.9h-0.9zM28.0 42.7h0.9v0.9h-0.9zM31.9 37.2h0.9v0.9h-0.9zM37.6 47.1h0.9v0.9h-0.9zM37.6 48.0h0.9v0.9h-0.9zM29.2 41.3h0.9v0.9h-0.9zM31.4 41.0h0.9v0.9h-0.9zM27.2 41.1h0.9v0.9h-0.9zM31.2 41.4h0.9v0.9h-0.9z" fill="#000" fill-opacity="1"/>
<path d="M106.3 45.7h0.9v0.9h-0.9zM101.7 47.6h0.9v0.9h-0.9zM106.3 43.6h0.9v0.9h-0.9zM111.7 40.1h0.9v0.9h-0.9zM113.2 42.5h0.9v0.9h-0.9zM106.1 46.4h0.9v0.9h-0.9zM110.3 40.7h0.9v0.9h-0.9zM106.4 43.3h0.9v0.9h-0.9zM106.7 43.8h0.9v0.9h-0.9zM108.7 46.0h0.9v0.9h-0.9zM111.2 41.2h0.9v0.9h-0.9zM108.8 45.4h0.9v0.9h-0.9zM104.6 43.5h0.9v0.9h-0.9zM108.8 40.1h0.9v0.9h-0.9zM108.3 40.5h0.9v0.9h-0.9zM110.8 38.1h0.9v0.9h-0.9zM111.6 44.8h0.9v0.9h-0.9zM106.4 49.4h0.9v0.9h-0.9zM102.1 43.7h0.9v0.9h-0.9zM110.1 43.8h0.9v0.9h-0.9zM102.7 40.8h0.9v0.9h-0.9zM106.4 44.1h0.9v0.9h-0.9zM105.5 45.0h0.9v0.9h-0.9zM101.0 48.1h0.9v0.9h-0.9zM114.4 42.5h0.9v0.9h-0.9zM104.9 44.2h0.9v0.9h-0.9zM109.7 45.3h0.9v0.9h-0.9zM107.4 40.7h0.9v0.9h-0.9zM107.7 44.3h0.9v0.9h-0.9zM112.9 42.8h0.9v0.9h-0.9zM110.3 45.2h0.9v0.9h-0.9zM108.1 48.1h0.9v0.9h-0.9zM106.3 46.2h0.9v0.9h-0.9zM108.3 40.7h0.9v0.9h-0.9zM102.4 43.4h0.9v0.9h-0.9zM107.4 44.0h0.9v0.9h-0.9zM106.8 46.2h0.9v0.9h-0.9zM106.9 43.8h0.9v0.9h-0.9zM111.8 45.4h0.9v0.9h-0.9zM104.3 44.1h0.9v0.9h-0.9zM105.4 46.2h0.9v0.9h-0.9zM107.4 41.6h0.9v0.9h-0.9zM108.4 40.3h0.9v0.9h-0.9zM110.0 43.1h0.9v0.9h-0.9zM111.5 46.9h0.9v0.9h-0.9zM106.0 44.9h0.9v0.9h-0.9zM109.6 44.7h0.9v0.9h-0.9zM103.5 48.3h0.9v0.9h-0.9zM105.8 47.4h0.9v0.9h-0.9zM111.0 41.1h0.9v0.9h-0.9zM107.0 45.1h0.9v0.9h-0.9zM108.9 43.4h0.9v0.9h-0.9zM104.8 44.3h0.9v0.9h-0.9zM108.2 47.0h0.9v0.9h-0.9zM108.7 47.0h0.9v0.9h-0.9zM107.8 43.8h0.9v0.9h-0.9zM101.2 47.6h0.9v0.9h-0.9zM108.7 39.2h0.9v0.9h-0.9zM102.5 45.2h0.9v0.9h-0.9zM106.3 47.0h0.9v0.9h-0.9zM105.8 39.6h0.9v0.9h-0.9zM110.4 39.8h0.9v0.9h-0.9zM107.7 48.8h0.9v0.9h-0.9zM105.0 42.6h0.9v0.9h-0.9zM104.1 44.9h0.9v0.9h-0.9zM103.6 46.5h0.9v0.9h-0.9zM110.0 42.9h0.9v0.9h-0.9zM104.3 47.2h0.9v0.9h-0.9zM108.2 45.7h0.9v0.9h-0.9zM106.7 46.1h0.9v0.9h-0.9zM113.2 39.3h0.9v0.9h-0.9zM104.4 47.8h0.9v0.9h-0.9zM104.1 45.9h0.9v0.9h-0.9zM108.0 44.6h0.9v0.9h-0.9zM107.4 46.6h0.9v0.9h-0.9zM104.5 42.8h0.9v0.9h-0.9zM109.0 41.7h0.9v0.9h-0.9zM109.5 40.3h0.9v0.9h-0.9zM109.1 43.6h0.9v0.9h-0.9zM110.9 42.6h0.9v0.9h-0.9zM108.2 42.0h0.9v0.9h-0.9zM107.3 44.9h0.9v0.9h-0.9zM109.2 44.6h0.9v0.9h-0.9zM105.4 43.9h0.9v0.9h-0.9zM106.0 46.6h0.9v0.9h-0.9zM100.4 46.6h0.9v0.9h-0.9zM105.0 44.6h0.9v0.9h-0.9zM102.3 40.8h0.9v0.9h-0.9zM105.7 44.9h0.9v0.9h-0.9zM106.4 39.2h0.9v0.9h-0.9zM106.8 46.1h0.9v0.9h-0.9zM110.2 45.2h0.9v0.9h-0.9zM108.5 40.1h0.9v0.9h-0.9zM108.4 42.3h0.9v0.9h-0.9zM106.9 49.1h0.9v0.9h-0.9zM103.9 44.7h0.9v0.9h-0.9zM104.6 44.1h0.9v0.9h-0.9zM110.5 42.6h0.9v0.9h-0.9zM111.6 41.6h0.9v0.9h-0.9zM106.7 47.8h0.9v0.9h-0.9zM104.4 45.4h0.9v0.9h-0.9zM106.6 45.0h0.9v0.9h-0.9zM109.6 40.5h0.9v0.9h-0.9zM108.0 43.6h0.9v0.9h-0.9zM101.8 45.9h0.9v0.9h-0.9zM107.0 45.7h0.9v0.9h-0.9zM108.6 44.5h0.9v0.9h-0.9zM106.5 43.6h0.9v0.9h-0.9zM106.8 41.7h0.9v0.9h-0.9zM102.6 47.4h0.9v0.9h-0.9zM102.1 47.3h0.9v0.9h-0.9zM104.0 45.5h0.9v0.9h-0.9zM105.7 43.3h0.9v0.9h-0.9zM103.3 42.7h0.9v0.9h-0.9zM106.1 42.7h0.9v0.9h-0.9zM104.0 38.8h0.9v0.9h-0.9zM105.0 46.9h0.9v0.9h-0.9zM107.4 44.4h0.9v0.9h-0.9zM103.0 48.7h0.9v0.9h-0.9zM106.0 42.5h0.9v0.9h-0.9zM109.1 42.5h0.9v0.9h-0.9zM106.4 43.7h0.9v0.9h-0.9zM108.7 43.3h0.9v0.9h-0.9zM111.0 42.4h0.9v0.9h-0.9zM104.9 45.7h0.9v0.9h-0.9zM109.1 41.6h0.9v0.9h-0.9zM108.9 44.4h0.9v0.9h-0.9zM103.1 41.1h0.9v0.9h-0.9zM107.7 44.5h0.9v0.9h-0.9zM106.3 42.9h0.9v0.9h-0.9zM110.3 41.2h0.9v0.9h-0.9zM104.1 44.9h0.9v0.9h-0.9zM106.4 41.8h0.9v0.9h-0.9zM112.4 42.9h0.9v0.9h-0.9zM111.8 42.0h0.9v0.9h-0.9zM111.3 42.2h0.9v0.9h-0.9zM110.3 40.2h0.9v0.9h-0.9zM108.5 45.5h0.9v0.9h-0.9zM108.4 46.6h0.9v0.9h-0.9zM108.3 45.5h0.9v0.9h-0.9zM105.1 41.8h0.9v0.9h-0.9zM109.7 46.0h0.9v0.9h-0.9zM112.8 44.5h0.9v0.9h-0.9zM107.7 42.1h0.9v0.9h-0.9zM104.2 41.2h0.9v0.9h-0.9zM107.8 46.5h0.9v0.9h-0.9zM111.4 44.6h0.9v0.9h-0.9zM103.3 45.8h0.9v0.9h-0.9zM100.0 47.6h0.9v0.9h-0.9zM111.6 46.6h0.9v0.9h-0.9zM107.5 42.6h0.9v0.9h-0.9zM107.1 45.0h0.9v0.9h-0.9zM113.8 38.9h0.9v0.9h-0.9zM111.9 44.3h0.9v0.9h-0.9zM109.0 43.8h0.9v0.9h-0.9zM105.9 44.3h0.9v0.9h-0.9zM102.6 42.1h0.9v0.9h-0.9zM107.7 43.8h0.9v0.9h-0.9zM110.2 47.1h0.9v0.9h-0.9zM106.3 44.3h0.9v0.9h-0.9zM104.8 46.4h0.9v0.9h-0.9zM106.0 46.0h0.9v0.9h-0.9zM110.7 43.7h0.9v0.9h-0.9zM110.3 44.0h0.9v0.9h-0.9zM111.1 45.1h0.9v0.9h-0.9zM111.9 44.2h0.9v0.9h-0.9zM105.5 45.8h0.9v0.9h-0.9zM106.3 48.0h0.9v0.9h-0.9zM108.7 41.6h0.9v0.9h-0.9zM112.6 47.4h0.9v0.9h-0.9zM109.0 39.4h0.9v0.9h-0.9zM107.7 45.8h0.9v0.9h-0.9zM107.5 45.2h0.9v0.9h-0.9zM110.9 42.0h0.9v0.9h-0.9zM104.8 48.5h0.9v0.9h-0.9zM106.9 44.9h0.9v0.9h-0.9zM103.3 43.6h0.9v0.9h-0.9zM102.8 47.1h0.9v0.9h-0.9zM99.9 42.7h0.9v0.9h-0.9zM108.6 39.6h0.9v0.9h-0.9zM105.7 47.3h0.9v0.9h-0.9zM105.7 47.6h0.9v0.9h-0.9zM106.0 46.3h0.9v0.9h-0.9zM107.3 44.2h0.9v0.9h-0.9zM99.5 46.7h0.9v0.9h-0.9zM109.0 47.0h0.9v0.9h-0.9zM106.2 46.8h0.9v0.9h-0.9zM108.2 44.9h0.9v0.9h-0.9zM107.7 39.4h0.9v0.9h-0.9zM107.5 43.5h0.9v0.9h-0.9zM104.8 43.9h0.9v0.9h-0.9zM103.2 44.8h0.9v0.9h-0.9zM112.0 40.1h0.9v0.9h-0.9zM107.7 40.9h0.9v0.9h-0.9zM109.5 46.6h0.9v0.9h-0.9zM105.4 42.9h0.9v0.9h-0.9zM104.8 43.4h0.9v0.9h-0.9zM102.6 47.7h0.9v0.9h-0.9zM104.6 44.2h0.9v0.9h-0.9zM103.0 45.2h0.9v0.9h-0.9zM109.8 46.2h0.9v0.9h-0.9zM109.7 48.8h0.9v0.9h-0.9zM102.7 49.1h0.9v0.9h-0.9zM103.4 47.2h0.9v0.9h-0.9zM108.1 45.2h0.9v0.9h-0.9zM109.5 40.7h0.9v0.9h-0.9zM103.1 47.4h0.9v0.9h-0.9zM106.8 42.6h0.9v0.9h-0.9zM112.1 45.0h0.9v0.9h-0.9zM103.4 48.8h0.9v0.9h-0.9zM107.1 38.6h0.9v0.9h-0.9zM107.3 43.6h0.9v0.9h-0.9zM106.9 43.1h0.9v0.9h-0.9zM109.3 44.4h0.9v0.9h-0.9zM110.1 43.5h0.9v0.9h-0.9zM106.5 41.5h0.9v0.9h-0.9zM106.0 45.8h0.9v0.9h-0.9zM104.3 43.7h0.9v0.9h-0.9zM106.2 43.4h0.9v0.9h-0.9zM104.5 44.1h0.9v0.9h-0.9zM104.7 46.3h0.9v0.9h-0.9zM106.1 47.3h0.9v0.9h-0.9zM106.8 45.1h0.9v0.9h-0.9zM110.1 45.6h0.9v0.9h-0.9zM109.1 43.3h0.9v0.9h-0.9zM105.3 43.6h0.9v0.9h-0.9zM107.0 46.5h0.9v0.9h-0.9zM107.1 43.3h0.9v0.9h-0.9zM100.8 45.3h0.9v0.9h-0.9zM109.5 45.4h0.9v0.9h-0.9zM106.1 41.2h0.9v0.9h-0.9zM106.7 45.4h0.9v0.9h-0.9zM104.8 47.4h0.9v0.9h-0.9zM105.2 43.6h0.9v0.9h-0.9zM104.6 49.1h0.9v0.9h-0.9zM106.7 42.1h0.9v0.9h-0.9zM105.3 48.6h0.9v0.9h-0.9zM108.3 42.5h0.9v0.9h-0.9zM111.2 39.9h0.9v0.9h-0.9zM105.5 49.1h0.9v0.9h-0.9zM107.0 45.6h0.9v0.9h-0.9zM105.6 42.7h0.9v0.9h-0.9zM103.2 47.2h0.9v0.9h-0.9zM109.6 39.2h0.9v0.9h-0.9zM111.3 41.4h0.9v0.9h-0.9zM104.1 47.8h0.9v0.9h-0.9zM107.3 41.5h0.9v0.9h-0.9zM104.4 48.1h0.9v0.9h-0.9zM101.2 49.2h0.9v0.9h-0.9zM102.4 44.1h0.9v0.9h-0.9zM106.5 45.4h0.9v0.9h-0.9zM103.6 43.9h0.9v0.9h-0.9zM105.0 41.0h0.9v0.9h-0.9zM109.3 44.0h0.9v0.9h-0.9zM113.2 41.7h0.9v0.9h-0.9zM108.4 44.0h0.9v0.9h-0.9zM105.1 42.2h0.9v0.9h-0.9zM112.1 41.6h0.9v0.9h-0.9zM104.5 43.3h0.9v0.9h-0.9zM112.1 41.6h0.9v0.9h-0.9zM104.5 48.7h0.9v0.9h-0.9zM112.5 39.6h0.9v0.9h-0.9zM107.6 42.8h0.9v0.9h-0.9zM106.7 47.9h0.9v0.9h-0.9zM107.8 46.2h0.9v0.9h-0.9zM107.2 46.5h0.9v0.9h-0.9zM107.9 40.7h0.9v0.9h-0.9zM103.8 47.1h0.9v0.9h-0.9zM109.8 42.8h0.9v0.9h-0.9zM108.6 39.0h0.9v0.9h-0.9zM107.5 42.2h0.9v0.9h-0.9zM107.8 44.8h0.9v0.9h-0.9zM103.8 46.6h0.9v0.9h-0.9zM104.0 47.9h0.9v0.9h-0.9zM103.8 45.8h0.9v0.9h-0.9zM106.7 42.8h0.9v0.9h-0.9zM109.4 40.5h0.9v0.9h-0.9zM109.9 42.8h0.9v0.9h-0.9zM103.7 46.8h0.9v0.9h-0.9zM104.0 46.0h0.9v0.9h-0.9zM108.9 48.2h0.9v0.9h-0.9zM108.1 48.2h0.9v0.9h-0.9zM106.4 41.2h0.9v0.9h-0.9zM110.6 42.5h0.9v0.9h-0.9zM106.0 44.6h0.9v0.9h-0.9zM107.3 43.3h0.9v0.9h-0.9zM104.9 45.2h0.9v0.9h-0.9zM109.5 40.5h0.9v0.9h-0.9zM106.4 41.6h0.9v0.9h-0.9zM102.9 44.0h0.9v0.9h-0.9zM107.4 46.1h0.9v0.9h-0.9zM107.2 42.9h0.9v0.9h-0.9zM108.3 42.4h0.9v0.9h-0.9zM108.5 44.0h0.9v0.9h-0.9zM104.9 39.0h0.9v0.9h-0.9zM104.3 49.1h0.9v0.9h-0.9zM110.0 48.5h0.9v0.9h-0.9zM105.5 44.2h0.9v0.9h-0.9zM112.2 41.6h0.9v0.9h-0.9zM113.3 40.5h0.9v0.9h-0.9zM107.5 46.2h0.9v0.9h-0.9zM104.1 45.8h0.9v0.9h-0.9zM105.1 45.5h0.9v0.9h-0.9zM108.6 41.7h0.9v0.9h-0.9zM107.2 42.8h0.9v0.9h-0.9zM105.5 37.6h0.9v0.9h-0.9zM106.6 45.3h0.9v0.9h-0.9zM105.3 48.9h0.9v0.9h-0.9zM109.5 46.1h0.9v0.9h-0.9zM110.7 43.1h0.9v0.9h-0.9zM105.0 43.1h0.9v0.9h-0.9zM105.7 44.3h0.9v0.9h-0.9zM107.0 43.1h0.9v0.9h-0.9zM109.7 40.7h0.9v0.9h-0.9zM107.7 46.7h0.9v0.9h-0.9zM105.2 42.5h0.9v0.9h-0.9zM107.9 43.1h0.9v0.9h-0.9zM102.8 45.9h0.9v0.9h-0.9zM108.8 43.8h0.9v0.9h-0.9zM109.3 48.9h0.9v0.9h-0.9zM107.3 42.4h0.9v0.9h-0.9zM107.5 43.7h0.9v0.9h-0.9zM98.3 47.5h0.9v0.9h-0.9zM106.1 44.5h0.9v0.9h-0.9zM106.8 47.6h0.9v0.9h-0.9zM109.6 47.3h0.9v0.9h-0.9zM111.7 45.2h0.9v0.9h-0.9zM107.2 45.4h0.9v0.9h-0.9zM105.5 45.3h0.9v0.9h-0.9zM101.1 47.9h0.9v0.9h-0.9zM103.3 45.8h0.9v0.9h-0.9zM110.9 41.8h0.9v0.9h-0.9zM111.8 42.8h0.9v0.9h-0.9zM111.1 43.8h0.9v0.9h-0.9zM106.4 47.4h0.9v0.9h-0.9zM105.3 44.4h0.9v0.9h-0.9zM113.6 45.1h0.9v0.9h-0.9zM108.2 41.0h0.9v0.9h-0.9zM108.3 44.4h0.9v0.9h-0.9zM107.6 43.0h0.9v0.9h-0.9zM103.3 47.8h0.9v0.9h-0.9zM110.6 43.6h0.9v0.9h-0.9zM110.5 44.7h0.9v0.9h-0.9zM104.1 46.9h0.9v0.9h-0.9zM109.4 45.3h0.9v0.9h-0.9zM108.2 45.0h0.9v0.9h-0.9zM110.5 47.7h0.9v0.9h-0.9zM101.9 49.4h0.9v0.9h-0.9zM101.9 47.0h0.9v0.9h-0.9zM110.2 46.8h0.9v0.9h-0.9zM109.3 44.4h0.9v0.9h-0.9zM110.2 42.2h0.9v0.9h-0.9zM104.4 46.5h0.9v0.9h-0.9zM107.6 43.2h0.9v0.9h-0.9zM104.5 45.6h0.9v0.9h-0.9zM101.2 46.6h0.9v0.9h-0.9zM106.2 44.1h0.9v0.9h-0.9zM109.2 46.7h0.9v0.9h-0.9zM107.8 43.7h0.9v0.9h-0.9zM102.0 45.7h0.9v0.9h-0.9zM106.8 42.1h0.9v0.9h-0.9zM106.7 41.6h0.9v0.9h-0.9zM107.3 44.0h0.9v0.9h-0.9zM109.3 41.3h0.9v0.9h-0.9zM106.3 45.9h0.9v0.9h-0.9zM109.6 47.2h0.9v0.9h-0.9zM105.5 44.3h0.9v0.9h-0.9zM106.8 46.1h0.9v0.9h-0.9zM108.7 45.1h0.9v0.9h-0.9zM112.3 39.8h0.9v0.9h-0.9zM103.7 47.8h0.9v0.9h-0.9zM104.9 39.7h0.9v0.9h-0.9zM104.9 42.0h0.9v0.9h-0.9zM110.3 45.6h0.9v0.9h-0.9zM107.8 39.4h0.9v0.9h-0.9zM112.3 42.5h0.9v0.9h-0.9zM106.7 46.3h0.9v0.9h-0.9zM110.9 40.1h0.9v0.9h-0.9zM106.1 43.6h0.9v0.9h-0.9zM107.2 38.0h0.9v0.9h-0.9zM109.7 39.3h0.9v0.9h-0.9zM107.3 39.4h0.9v0.9h-0.9zM103.4 45.9h0.9v0.9h-0.9zM107.0 39.7h0.9v0.9h-0.9zM107.8 41.9h0.9v0.9h-0.9zM110.1 40.8h0.9v0.9h-0.9zM108.2 43.0h0.9v0.9h-0.9zM111.7 39.3h0.9v0.9h-0.9zM109.8 47.9h0.9v0.9h-0.9zM108.2 45.4h0.9v0.9h-0.9zM105.2 46.7h0.9v0.9h-0.9zM102.9 43.6h0.9v0.9h-0.9zM106.0 40.9h0.9v0.9h-0.9zM111.2 38.7h0.9v0.9h-0.9zM106.3 45.8h0.9v0.9h-0.9zM101.3 44.7h0.9v0.9h-0.9zM106.6 48.4h0.9v0.9h-0.9zM107.4 39.5h0.9v0.9h-0.9zM110.5 41.5h0.9v0.9h-0.9zM108.5 43.3h0.9v0.9h-0.9zM106.7 41.8h0.9v0.9h-0.9zM103.3 45.6h0.9v0.9h-0.9zM106.8 46.5h0.9v0.9h-0.9zM104.3 45.1h0.9v0.9h-0.9zM109.7 43.4h0.9v0.9h-0.9zM104.5 43.6h0.9v0.9h-0.9zM101.8 44.4h0.9v0.9h-0.9zM111.9 43.4h0.9v0.9h-0.9zM113.1 40.6h0.9v0.9h-0.9zM109.1 44.9h0.9v0.9h-0.9zM109.4 41.7h0.9v0.9h-0.9zM111.2 47.2h0.9v0.9h-0.9zM100.0 46.5h0.9v0.9h-0.9zM105.3 48.2h0.9v0.9h-0.9zM109.9 40.9h0.9v0.9h-0.9zM108.9 42.7h0.9v0.9h-0.9zM107.1 42.8h0.9v0.9h-0.9zM106.9 44.6h0.9v0.9h-0.9zM113.5 45.3h0.9v0.9h-0.9zM108.4 46.1h0.9v0.9h-0.9zM111.2 43.1h0.9v0.9h-0.9zM108.0 40.9h0.9v0.9h-0.9zM109.1 39.8h0.9v0.9h-0.9zM111.7 42.3h0.9v0.9h-0.9zM105.8 48.9h0.9v0.9h-0.9zM103.9 45.0h0.9v0.9h-0.9zM102.2 48.1h0.9v0.9h-0.9zM109.0 40.8h0.9v0.9h-0.9zM113.4 41.0h0.9v0.9h-0.9zM103.7 43.8h0.9v0.9h-0.9zM109.2 39.4h0.9v0.9h-0.9zM106.6 44.0h0.9v0.9h-0.9zM107.0 46.0h0.9v0.9h-0.9zM112.1 38.1h0.9v0.9h-0.9zM111.1 44.2h0.9v0.9h-0.9zM106.0 45.0h0.9v0.9h-0.9zM104.5 44.8h0.9v0.9h-0.9zM105.9 42.9h0.9v0.9h-0.9zM103.5 46.7h0.9v0.9h-0.9zM111.0 40.4h0.9v0.9h-0.9zM106.4 40.7h0.9v0.9h-0.9zM103.6 42.9h0.9v0.9h-0.9zM107.6 45.8h0.9v0.9h-0.9zM100.7 47.4h0.9v0.9h-0.9zM106.4 42.3h0.9v0.9h-0.9zM110.7 44.1h0.9v0.9h-0.9zM107.7 42.7h0.9v0.9h-0.9zM105.9 43.6h0.9v0.9h-0.9zM107.1 45.4h0.9v0.9h-0.9zM107.6 46.9h0.9v0.9h-0.9zM113.7 37.0h0.9v0.9h-0.9zM109.2 45.0h0.9v0.9h-0.9zM108.5 42.5h0.9v0.9h-0.9zM107.1 47.4h0.9v0.9h-0.9zM109.6 43.8h0.9v0.9h-0.9zM105.6 47.6h0.9v0.9h-0.9zM109.0 42.2h0.9v0.9h-0.9zM112.1 46.5h0.9v0.9h-0.9zM101.6 45.2h0.9v0.9h-0.9zM107.1 46.0h0.9v0.9h-0.9zM105.4 42.4h0.9v0.9h-0.9zM102.0 47.2h0.9v0.9h-0.9zM105.8 43.1h0.9v0.9h-0.9zM104.3 46.4h0.9v0.9h-0.9zM104.5 44.9h0.9v0.9h-0.9zM106.7 43.9h0.9v0.9h-0.9zM107.1 40.9h0.9v0.9h-0.9zM107.9 46.0h0.9v0.9h-0.9zM111.2 42.4h0.9v0.9h-0.9zM104.8 41.8h0.9v0.9h-0.9zM109.8 43.7h0.9v0.9h-0.9zM99.0 45.2h0.9v0.9h-0.9zM102.2 45.2h0.9v0.9h-0.9zM106.0 42.4h0.9v0.9h-0.9zM110.7 39.4h0.9v0.9h-0.9zM106.6 47.4h0.9v0.9h-0.9zM106.6 42.2h0.9v0.9h-0.9zM112.2 45.6h0.9v0.9h-0.9zM103.1 47.2h0.9v0.9h-0.9zM101.0 44.0h0.9v0.9h-0.9zM109.9 44.1h0.9v0.9h-0.9zM110.5 42.7h0.9v0.9h-0.9zM103.3 44.2h0.9v0.9h-0.9zM104.9 48.6h0.9v0.9h-0.9zM109.0 48.6h0.9v0.9h-0.9zM105.6 40.1h0.9v0.9h-0.9zM111.5 44.3h0.9v0.9h-0.9zM105.3 42.4h0.9v0.9h-0.9zM110.2 37.8h0.9v0.9h-0.9zM103.9 41.5h0.9v0.9h-0.9zM100.8 44.9h0.9v0.9h-0.9zM111.9 43.7h0.9v0.9h-0.9zM103.8 43.3h0.9v0.9h-0.9zM107.4 45.3h0.9v0.9h-0.9zM100.8 46.5h0.9v0.9h-0.9zM107.7 45.9h0.9v0.9h-0.9zM107.9 45.1h0.9v0.9h-0.9zM99.7 43.5h0.9v0.9h-0.9zM106.6 42.2h0.9v0.9h-0.9zM106.1 44.2h0.9v0.9h-0.9zM107.3 42.0h0.9v0.9h-0.9zM111.3 40.8h0.9v0.9h-0.9zM109.5 44.2h0.9v0.9h-0.9zM110.6 42.5h0.9v0.9h-0.9zM100.9 47.9h0.9v0.9h-0.9zM113.2 40.5h0.9v0.9h-0.9zM109.3 43.8h0.9v0.9h-0.9zM104.1 45.0h0.9v0.9h-0.9zM106.8 48.1h0.9v0.9h-0.9zM110.7 46.6h0.9v0.9h-0.9zM111.3 46.4h0.9v0.9h-0.9zM106.6 41.3h0.9v0.9h-0.9zM112.6 40.6h0.9v0.9h-0.9zM110.8 41.8h0.9v0.9h-0.9zM106.3 45.6h0.9v0.9h-0.9zM101.9 45.4h0.9v0.9h-0.9zM103.6 45.9h0.9v0.9h-0.9zM102.8 47.8h0.9v0.9h-0.9zM110.9 47.2h0.9v0.9h-0.9zM112.4 39.7h0.9v0.9h-0.9zM109.3 41.8h0.9v0.9h-0.9zM108.1 43.4h0.9v0.9h-0.9zM105.5 46.0h0.9v0.9h-0.9zM103.3 49.1h0.9v0.9h-0.9zM104.5 43.4h0.9v0.9h-0.9zM106.8 46.4h0.9v0.9h-0.9zM105.7 47.1h0.9v0.9h-0.9zM111.0 45.7h0.9v0.9h-0.9zM103.6 47.1h0.9v0.9h-0.9zM110.8 45.7h0.9v0.9h-0.9zM108.9 45.1h0.9v0.9h-0.9zM101.8 47.3h0.9v0.9h-0.9zM111.5 39.7h0.9v0.9h-0.9zM112.3 37.6h0.9v0.9h-0.9zM103.8 42.5h0.9v0.9h-0.9zM109.3 43.3h0.9v0.9h-0.9zM113.2 39.5h0.9v0.9h-0.9zM104.2 42.8h0.9v0.9h-0.9zM108.2 46.3h0.9v0.9h-0.9zM111.0 44.7h0.9v0.9h-0.9zM109.5 42.2h0.9v0.9h-0.9zM109.1 43.2h0.9v0.9h-0.9zM106.5 41.7h0.9v0.9h-0.9zM108.6 44.0h0.9v0.9h-0.9zM112.1 44.4h0.9v0.9h-0.9zM110.1 38.9h0.9v0.9h-0.9zM108.5 44.2h0.9v0.9h-0.9zM103.0 46.6h0.9v0.9h-0.9zM108.7 45.3h0.9v0.9h-0.9zM114.0 39.3h0.9v0.9h-0.9zM101.7 42.0h0.9v0.9h-0.9zM110.0 41.5h0.9v0.9h-0.9zM105.2 43.1h0.9v0.9h-0.9zM106.5 39.5h0.9v0.9h-0.9zM107.5 44.4h0.9v0.9h-0.9zM109.9 46.0h0.9v0.9h-0.9zM106.8 44.9h0.9v0.9h-0.9zM107.2 39.6h0.9v0.9h-0.9zM106.2 45.4h0.9v0.9h-0.9zM108.6 40.6h0.9v0.9h-0.9zM110.0 43.1h0.9v0.9h-0.9zM100.3 45.9h0.9v0.9h-0.9zM102.9 48.5h0.9v0.9h-0.9zM108.7 45.2h0.9v0.9h-0.9zM108.6 41.4h0.9v0.9h-0.9zM111.4 43.1h0.9v0.9h-0.9zM109.1 44.1h0.9v0.9h-0.9zM103.7 48.5h0.9v0.9h-0.9zM102.1 45.2h0.9v0.9h-0.9zM106.2 45.7h0.9v0.9h-0.9zM106.3 44.1h0.9v0.9h-0.9zM104.3 47.4h0.9v0.9h-0.9zM102.7 44.0h0.9v0.9h-0.9zM109.5 46.8h0.9v0.9h-0.9zM104.2 43.7h0.9v0.9h-0.9zM113.7 43.8h0.9v0.9h-0.9zM105.8 44.9h0.9v0.9h-0.9zM112.1 49.0h0.9v0.9h-0.9zM108.9 45.9h0.9v0.9h-0.9zM105.6 40.2h0.9v0.9h-0.9zM101.8 45.3h0.9v0.9h-0.9zM108.5 43.5h0.9v0.9h-0.9zM111.9 39.3h0.9v0.9h-0.9zM108.0 43.8h0.9v0.9h-0.9zM110.9 48.1h0.9v0.9h-0.9zM110.1 46.3h0.9v0.9h-0.9zM110.0 40.0h0.9v0.9h-0.9zM108.5 42.0h0.9v0.9h-0.9zM107.6 44.5h0.9v0.9h-0.9zM106.4 43.6h0.9v0.9h-0.9zM111.3 40.0h0.9v0.9h-0.9zM111.6 45.5h0.9v0.9h-0.9zM110.4 44.6h0.9v0.9h-0.9zM112.8 42.7h0.9v0.9h-0.9zM110.0 37.5h0.9v0.9h-0.9zM112.9 39.4h0.9v0.9h-0.9zM100.8 48.0h0.9v0.9h-0.9zM102.8 48.1h0.9v0.9h-0.9zM101.0 46.7h0.9v0.9h-0.9zM108.1 44.0h0.9v0.9h-0.9zM104.3 46.2h0.9v0.9h-0.9zM106.8 44.9h0.9v0.9h-0.9zM106.6 44.1h0.9v0.9h-0.9zM107.2 39.4h0.9v0.9h-0.9zM105.7 46.0h0.9v0.9h-0.9zM105.0 44.6h0.9v0.9h-0.9zM106.0 46.0h0.9v0.9h-0.9zM110.5 40.9h0.9v0.9h-0.9zM106.7 45.8h0.9v0.9h-0.9zM103.3 41.8h0.9v0.9h-0.9zM107.2 43.1h0.9v0.9h-0.9zM106.2 47.1h0.9v0.9h-0.9zM106.3 43.4h0.9v0.9h-0.9zM106.9 44.3h0.9v0.9h-0.9zM108.7 43.7h0.9v0.9h-0.9zM103.6 43.6h0.9v0.9h-0.9zM103.5 47.1h0.9v0.9h-0.9zM104.7 48.8h0.9v0.9h-0.9zM100.3 44.9h0.9v0.9h-0.9zM103.7 41.9h0.9v0.9h-0.9zM110.4 38.5h0.9v0.9h-0.9zM106.5 44.2h0.9v0.9h-0.9zM101.9 43.6h0.9v0.9h-0.9zM113.4 45.5h0.9v0.9h-0.9zM103.5 49.3h0.9v0.9h-0.9zM108.2 46.0h0.9v0.9h-0.9zM106.5 47.1h0.9v0.9h-0.9zM110.6 43.2h0.9v0.9h-0.9zM111.1 40.4h0.9v0.9h-0.9zM110.6 39.2h0.9v0.9h-0.9zM105.8 43.1h0.9v0.9h-0.9zM108.6 46.3h0.9v0.9h-0.9zM109.3 42.8h0.9v0.9h-0.9zM109.9 37.5h0.9v0.9h-0.9zM106.8 49.3h0.9v0.9h-0.9zM104.8 40.0h0.9v0.9h-0.9zM106.2 41.6h0.9v0.9h-0.9zM113.2 42.6h0.9v0.9h-0.9zM107.3 48.2h0.9v0.9h-0.9zM105.9 48.3h0.9v0.9h-0.9zM108.5 42.8h0.9v0.9h-0.9zM102.3 47.8h0.9v0.9h-0.9zM100.4 42.8h0.9v0.9h-0.9zM109.3 43.6h0.9v0.9h-0.9zM108.7 49.5h0.9v0.9h-0.9zM109.4 42.6h0.9v0.9h-0.9zM100.6 41.1h0.9v0.9h-0.9zM109.9 44.9h0.9v0.9h-0.9zM103.1 43.6h0.9v0.9h-0.9zM104.3 41.7h0.9v0.9h-0.9zM108.2 45.8h0.9v0.9h-0.9zM111.9 41.0h0.9v0.9h-0.9zM108.7 45.3h0.9v0.9h-0.9zM110.7 40.3h0.9v0.9h-0.9zM102.1 46.4h0.9v0.9h-0.9zM101.9 46.3h0.9v0.9h-0.9zM107.2 45.4h0.9v0.9h-0.9zM107.6 44.2h0.9v0.9h-0.9zM106.6 46.2h0.9v0.9h-0.9zM110.8 43.5h0.9v0.9h-0.9zM111.1 40.0h0.9v0.9h-0.9zM108.8 48.1h0.9v0.9h-0.9zM108.2 44.7h0.9v0.9h-0.9zM107.5 47.1h0.9v0.9h-0.9zM104.3 43.8h0.9v0.9h-0.9zM106.1 43.9h0.9v0.9h-0.9zM108.9 41.6h0.9v0.9h-0.9zM107.0 43.8h0.9v0.9h-0.9zM107.1 42.5h0.9v0.9h-0.9zM108.2 39.1h0.9v0.9h-0.9zM104.8 44.3h0.9v0.9h-0.9zM109.0 42.9h0.9v0.9h-0.9zM108.0 42.7h0.9v0.9h-0.9zM103.1 44.5h0.9v0.9h-0.9zM105.2 44.5h0.9v0.9h-0.9zM108.4 44.4h0.9v0.9h-0.9zM109.8 41.7h0.9v0.9h-0.9zM103.1 44.6h0.9v0.9h-0.9zM107.7 45.0h0.9v0.9h-0.9zM113.1 39.7h0.9v0.9h-0.9zM105.7 49.4h0.9v0.9h-0.9zM112.5 43.8h0.9v0.9h-0.9zM108.4 46.2h0.9v0.9h-0.9zM105.4 45.6h0.9v0.9h-0.9zM109.8 47.5h0.9v0.9h-0.9zM107.8 46.7h0.9v0.9h-0.9zM106.1 43.1h0.9v0.9h-0.9zM108.7 45.0h0.9v0.9h-0.9zM105.8 47.5h0.9v0.9h-0.9zM103.5 44.9h0.9v0.9h-0.9zM107.3 43.5h0.9v0.9h-0.9zM101.6 44.3h0.9v0.9h-0.9zM107.4 44.9h0.9v0.9h-0.9zM105.9 46.0h0.9v0.9h-0.9zM103.0 49.2h0.9v0.9h-0.9zM108.7 43.9h0.9v0.9h-0.9zM105.3 46.3h0.9v0.9h-0.9zM109.0 46.0h0.9v0.9h-0.9zM108.2 44.2h0.9v0.9h-0.9zM106.1 47.9h0.9v0.9h-0.9zM109.8 40.6h0.9v0.9h-0.9zM109.4 43.3h0.9v0.9h-0.9zM104.9 42.4h0.9v0.9h-0.9zM109.5 36.6h0.9v0.9h-0.9zM107.3 43.1h0.9v0.9h-0.9zM109.8 40.8h0.9v0.9h-0.9zM108.0 45.5h0.9v0.9h-0.9zM107.6 42.4h0.9v0.9h-0.9zM109.6 43.4h0.9v0.9h-0.9zM109.2 41.0h0.9v0.9h-0.9zM106.3 43.9h0.9v0.9h-0.9zM104.9 47.1h0.9v0.9h-0.9zM110.4 45.9h0.9v0.9h-0.9zM106.6 46.0h0.9v0.9h-0.9zM110.3 41.3h0.9v0.9h-0.9zM107.4 44.6h0.9v0.9h-0.9zM103.4 44.6h0.9v0.9h-0.9zM110.6 41.9h0.9v0.9h-0.9zM104.9 42.6h0.9v0.9h-0.9zM109.1 46.2h0.9v0.9h-0.9zM102.2 46.0h0.9v0.9h-0.9zM112.5 44.0h0.9v0.9h-0.9zM110.8 39.5h0.9v0.9h-0.9zM107.7 41.6h0.9v0.9h-0.9zM108.0 42.5h0.9v0.9h-0.9zM109.6 46.3h0.9v0.9h-0.9zM107.6 43.2h0.9v0.9h-0.9zM107.6 44.8h0.9v0.9h-0.9zM105.8 46.2h0.9v0.9h-0.9zM111.1 45.6h0.9v0.9h-0.9zM99.0 47.9h0.9v0.9h-0.9zM104.6 49.3h0.9v0.9h-0.9zM109.1 46.1h0.9v0.9h-0.9zM104.7 45.0h0.9v0.9h-0.9zM107.1 42.6h0.9v0.9h-0.9zM110.3 41.6h0.9v0.9h-0.9zM112.0 47.9h0.9v0.9h-0.9zM107.1 47.3h0.9v0.9h-0.9zM106.4 48.8h0.9v0.9h-0.9zM110.1 42.2h0.9v0.9h-0.9zM112.4 44.7h0.9v0.9h-0.9zM111.1 40.9h0.9v0.9h-0.9zM108.5 46.5h0.9v0.9h-0.9zM101.7 47.3h0.9v0.9h-0.9zM109.3 44.2h0.9v0.9h-0.9zM108.6 44.4h0.9v0.9h-0.9zM102.8 47.6h0.9v0.9h-0.9zM107.4 43.4h0.9v0.9h-0.9zM108.1 45.4h0.9v0.9h-0.9zM103.3 46.0h0.9v0.9h-0.9zM101.3 44.3h0.9v0.9h-0.9zM109.0 42.1h0.9v0.9h-0.9zM109.3 41.3h0.9v0.9h-0.9zM114.4 40.2h0.9v0.9h-0.9zM107.6 44.3h0.9v0.9h-0.9zM107.6 46.4h0.9v0.9h-0.9zM112.3 38.6h0.9v0.9h-0.9zM104.7 48.4h0.9v0.9h-0.9zM107.9 39.2h0.9v0.9h-0.9zM103.4 44.6h0.9v0.9h-0.9zM109.4 43.9h0.9v0.9h-0.9zM103.1 44.5h0.9v0.9h-0.9zM105.9 39.2h0.9v0.9h-0.9zM108.7 42.6h0.9v0.9h-0.9zM114.2 41.2h0.9v0.9h-0.9zM104.9 45.5h0.9v0.9h-0.9zM105.1 44.0h0.9v0.9h-0.9zM108.7 45.9h0.9v0.9h-0.9zM102.2 48.0h0.9v0.9h-0.9zM112.5 41.9h0.9v0.9h-0.9zM103.4 45.2h0.9v0.9h-0.9zM102.1 44.0h0.9v0.9h-0.9zM110.5 41.6h0.9v0.9h-0.9zM102.8 43.9h0.9v0.9h-0.9zM105.1 44.6h0.9v0.9h-0.9zM111.4 39.2h0.9v0.9h-0.9zM108.9 46.0h0.9v0.9h-0.9zM108.7 42.5h0.9v0.9h-0.9zM108.1 42.2h0.9v0.9h-0.9zM105.3 43.1h0.9v0.9h-0.9zM102.1 44.3h0.9v0.9h-0.9zM109.3 44.1h0.9v0.9h-0.9zM108.7 45.4h0.9v0.9h-0.9zM108.8 43.3h0.9v0.9h-0.9zM105.3 47.8h0.9v0.9h-0.9zM111.4 42.5h0.9v0.9h-0.9zM110.0 40.5h0.9v0.9h-0.9zM106.0 49.2h0.9v0.9h-0.9zM105.6 46.4h0.9v0.9h-0.9zM106.5 45.0h0.9v0.9h-0.9zM105.4 44.3h0.9v0.9h-0.9zM104.7 40.7h0.9v0.9h-0.9zM102.6 44.9h0.9v0.9h-0.9zM101.0 42.1h0.9v0.9h-0.9zM111.1 45.8h0.9v0.9h-0.9zM107.4 46.4h0.9v0.9h-0.9zM106.9 40.8h0.9v0.9h-0.9zM108.1 38.5h0.9v0.9h-0.9zM104.8 45.4h0.9v0.9h-0.9zM110.9 41.5h0.9v0.9h-0.9zM105.4 43.5h0.9v0.9h-0.9zM107.3 44.3h0.9v0.9h-0.9zM111.2 45.0h0.9v0.9h-0.9zM109.2 42.6h0.9v0.9h-0.9zM108.9 47.6h0.9v0.9h-0.9zM107.6 44.0h0.9v0.9h-0.9zM108.5 42.8h0.9v0.9h-0.9zM106.7 47.9h0.9v0.9h-0.9zM107.1 47.3h0.9v0.9h-0.9zM104.9 46.7h0.9v0.9h-0.9zM108.4 43.7h0.9v0.9h-0.9zM108.3 44.5h0.9v0.9h-0.9zM102.0 45.5h0.9v0.9h-0.9zM109.2 47.9h0.9v0.9h-0.9zM105.3 43.3h0.9v0.9h-0.9zM105.1 46.3h0.9v0.9h-0.9zM109.6 40.5h0.9v0.9h-0.9zM108.9 43.4h0.9v0.9h-0.9zM104.6 43.8h0.9v0.9h-0.9zM105.5 43.7h0.9v0.9h-0.9zM106.0 40.1h0.9v0.9h-0.9zM111.4 42.9h0.9v0.9h-0.9zM110.9 45.5h0.9v0.9h-0.9zM106.2 40.1h0.9v0.9h-0.9zM107.8 45.1h0.9v0.9h-0.9zM103.3 44.4h0.9v0.9h-0.9zM109.0 44.2h0.9v0.9h-0.9zM105.4 45.2h0.9v0.9h-0.9zM104.7 44.8h0.9v0.9h-0.9zM108.4 46.5h0.9v0.9h-0.9zM101.8 48.1h0.9v0.9h-0.9zM112.2 40.9h0.9v0.9h-0.9zM108.7 45.5h0.9v0.9h-0.9zM102.3 45.0h0.9v0.9h-0.9zM100.0 46.3h0.9v0.9h-0.9zM109.0 45.3h0.9v0.9h-0.9zM104.8 44.4h0.9v0.9h-0.9zM109.1 44.5h0.9v0.9h-0.9zM104.9 40.6h0.9v0.9h-0.9zM101.7 41.6h0.9v0.9h-0.9zM106.5 42.4h0.9v0.9h-0.9zM107.3 48.7h0.9v0.9h-0.9zM111.6 41.9h0.9v0.9h-0.9zM108.1 44.1h0.9v0.9h-0.9zM105.2 45.9h0.9v0.9h-0.9zM111.3 38.1h0.9v0.9h-0.9zM105.3 46.5h0.9v0.9h-0.9zM110.8 43.6h0.9v0.9h-0.9zM104.0 46.8h0.9v0.9h-0.9zM104.4 43.1h0.9v0.9h-0.9zM105.3 43.6h0.9v0.9h-0.9zM110.3 43.1h0.9v0.9h-0.9zM103.3 47.7h0.9v0.9h-0.9zM103.4 44.7h0.9v0.9h-0.9zM106.4 49.1h0.9v0.9h-0.9zM101.0 42.3h0.9v0.9h-0.9zM104.8 49.4h0.9v0.9h-0.9zM111.7 35.6h0.9v0.9h-0.9zM104.0 45.4h0.9v0.9h-0.9zM106.4 45.8h0.9v0.9h-0.9zM113.6 37.2h0.9v0.9h-0.9zM110.6 44.4h0.9v0.9h-0.9zM102.5 45.7h0.9v0.9h-0.9zM113.2 41.7h0.9v0.9h-0.9zM104.3 42.0h0.9v0.9h-0.9zM110.3 43.4h0.9v0.9h-0.9zM109.5 43.0h0.9v0.9h-0.9zM105.1 43.5h0.9v0.9h-0.9zM107.6 44.6h0.9v0.9h-0.9zM110.6 45.5h0.9v0.9h-0.9zM106.0 42.7h0.9v0.9h-0.9zM112.1 46.0h0.9v0.9h-0.9zM103.8 48.7h0.9v0.9h-0.9zM109.1 44.5h0.9v0.9h-0.9zM107.7 43.2h0.9v0.9h-0.9zM109.1 49.3h0.9v0.9h-0.9zM109.5 36.2h0.9v0.9h-0.9zM102.5 46.0h0.9v0.9h-0.9zM104.7 43.9h0.9v0.9h-0.9zM114.3 47.8h0.9v0.9h-0.9zM113.8 43.0h0.9v0.9h-0.9zM105.8 47.9h0.9v0.9h-0.9zM108.2 47.8h0.9v0.9h-0.9zM108.1 43.1h0.9v0.9h-0.9zM106.5 41.6h0.9v0.9h-0.9zM112.0 46.0h0.9v0.9h-0.9zM105.8 47.5h0.9v0.9h-0.9zM107.1 39.8h0.9v0.9h-0.9zM112.6 39.7h0.9v0.9h-0.9zM96.9 47.3h0.9v0.9h-0.9zM108.6 41.6h0.9v0.9h-0.9zM106.9 37.8h0.9v0.9h-0.9zM107.6 47.6h0.9v0.9h-0.9zM104.9 48.8h0.9v0.9h-0.9zM105.4 47.0h0.9v0.9h-0.9zM111.8 49.2h0.9v0.9h-0.9zM108.5 38.2h0.9v0.9h-0.9zM103.8 34.7h0.9v0.9h-0.9zM101.6 41.8h0.9v0.9h-0.9zM105.6 42.3h0.9v0.9h-0.9zM102.2 44.8h0.9v0.9h-0.9zM106.1 43.0h0.9v0.9h-0.9zM102.2 47.4h0.9v0.9h-0.9zM105.7 41.7h0.9v0.9h-0.9zM106.7 37.6h0.9v0.9h-0.9zM106.7 42.8h0.9v0.9h-0.9zM110.4 38.5h0.9v0.9h-0.9zM100.8 44.0h0.9v0.9h-0.9zM114.5 40.1h0.9v0.9h-0.9zM101.4 47.7h0.9v0.9h-0.9zM92.3 46.3h0.9v0.9h-0.9zM100.8 48.8h0.9v0.9h-0.9zM99.0 47.9h0.9v0.9h-0.9zM101.9 45.4h0.9v0.9h-0.9zM101.6 42.9h0.9v0.9h-0.9zM98.5 46.9h0.9v0.9h-0.9zM96.0 48.9h0.9v0.9h-0.9zM93.4 48.2h0.9v0.9h-0.9zM101.0 46.2h0.9v0.9h-0.9zM95.6 45.3h0.9v0.9h-0.9zM98.2 46.3h0.9v0.9h-0.9zM97.6 48.5h0.9v0.9h-0.9zM96.7 43.3h0.9v0.9h-0.9zM97.2 35.4h0.9v0.9h-0.9zM92.6 48.6h0.9v0.9h-0.9zM99.0 49.5h0.9v0.9h-0.9zM96.8 49.1h0.9v0.9h-0.9zM102.4 41.3h0.9v0.9h-0.9zM95.9 44.7h0.9v0.9h-0.9zM93.7 47.4h0.9v0.9h-0.9zM92.1 47.2h0.9v0.9h-0.9zM96.4 40.7h0.9v0.9h-0.9zM101.4 46.3h0.9v0.9h-0.9zM98.0 40.2h0.9v0.9h-0.9zM93.3 47.9h0.9v0.9h-0.9zM99.0 41.4h0.9v0.9h-0.9zM96.0 48.2h0.9v0.9h-0.9zM93.8 44.7h0.9v0.9h-0.9zM93.6 37.5h0.9v0.9h-0.9zM102.0 48.7h0.9v0.9h-0.9zM101.4 40.0h0.9v0.9h-0.9zM101.6 45.7h0.9v0.9h-0.9zM96.8 40.1h0.9v0.9h-0.9zM96.2 44.7h0.9v0.9h-0.9zM100.8 46.2h0.9v0.9h-0.9zM92.1 46.4h0.9v0.9h-0.9zM102.2 43.5h0.9v0.9h-0.9zM102.9 44.7h0.9v0.9h-0.9zM93.7 47.3h0.9v0.9h-0.9zM95.0 48.3h0.9v0.9h-0.9zM102.2 45.7h0.9v0.9h-0.9zM93.0 46.0h0.9v0.9h-0.9zM96.9 45.3h0.9v0.9h-0.9zM100.0 44.1h0.9v0.9h-0.9zM97.4 45.2h0.9v0.9h-0.9zM96.4 48.7h0.9v0.9h-0.9zM93.3 45.6h0.9v0.9h-0.9zM98.0 45.5h0.9v0.9h-0.9zM99.0 39.8h0.9v0.9h-0.9zM99.9 45.3h0.9v0.9h-0.9z" fill="#000" fill-opacity="1"/>
<path d="M169.3 48.4h0.9v0.9h-0.9zM168.9 39.3h0.9v0.9h-0.9zM164.9 43.0h0.9v0.9h-0.9zM171.0 48.2h0.9v0.9h-0.9zM164.7 40.6h0.9v0.9h-0.9zM166.0 44.2h0.9v0.9h-0.9zM169.2 43.3h0.9v0.9h-0.9zM171.9 44.6h0.9v0.9h-0.9zM162.3 48.8h0.9v0.9h-0.9zM169.1 38.3h0.9v0.9h-0.9zM176.1 48.6h0.9v0.9h-0.9zM172.0 42.1h0.9v0.9h-0.9zM165.6 47.7h0.9v0.9h-0.9zM169.9 38.7h0.9v0.9h-0.9zM168.3 43.7h0.9v0.9h-0.9zM159.9 49.1h0.9v0.9h-0.9zM169.5 46.0h0.9v0.9h-0.9zM168.0 48.9h0.9v0.9h-0.9zM170.2 41.0h0.9v0.9h-0.9zM163.1 48.8h0.9v0.9h-0.9zM161.6 49.1h0.9v0.9h-0.9zM163.1 46.1h0.9v0.9h-0.9zM169.8 42.0h0.9v0.9h-0.9zM167.1 39.8h0.9v0.9h-0.9zM168.8 44.6h0.9v0.9h-0.9zM165.7 44.4h0.9v0.9h-0.9zM167.5 42.6h0.9v0.9h-0.9zM167.8 42.7h0.9v0.9h-0.9zM168.5 46.5h0.9v0.9h-0.9zM165.3 42.3h0.9v0.9h-0.9zM160.2 43.1h0.9v0.9h-0.9zM167.9 40.0h0.9v0.9h-0.9zM169.2 42.7h0.9v0.9h-0.9zM170.6 43.7h0.9v0.9h-0.9zM167.2 41.4h0.9v0.9h-0.9zM166.4 48.2h0.9v0.9h-0.9zM166.6 38.5h0.9v0.9h-0.9zM166.1 47.5h0.9v0.9h-0.9zM171.7 43.7h0.9v0.9h-0.9zM161.9 45.5h0.9v0.9h-0.9zM171.4 48.1h0.9v0.9h-0.9zM166.8 40.5h0.9v0.9h-0.9zM167.6 41.8h0.9v0.9h-0.9zM168.7 42.8h0.9v0.9h-0.9zM169.9 49.1h0.9v0.9h-0.9zM166.1 39.1h0.9v0.9h-0.9zM167.9 45.5h0.9v0.9h-0.9zM164.8 47.1h0.9v0.9h-0.9zM176.0 43.3h0.9v0.9h-0.9zM167.5 38.5h0.9v0.9h-0.9zM163.1 41.6h0.9v0.9h-0.9zM167.4 44.5h0.9v0.9h-0.9zM170.7 41.1h0.9v0.9h-0.9zM165.9 47.7h0.9v0.9h-0.9zM165.9 46.0h0.9v0.9h-0.9zM167.9 42.3h0.9v0.9h-0.9zM162.4 49.2h0.9v0.9h-0.9zM166.9 44.3h0.9v0.9h-0.9zM164.6 43.8h0.9v0.9h-0.9zM168.4 43.7h0.9v0.9h-0.9zM167.3 45.9h0.9v0.9h-0.9zM168.1 43.8h0.9v0.9h-0.9zM175.0 42.2h0.9v0.9h-0.9zM166.5 42.5h0.9v0.9h-0.9zM159.4 46.2h0.9v0.9h-0.9zM166.2 43.1h0.9v0.9h-0.9zM171.3 46.5h0.9v0.9h-0.9zM175.9 45.6h0.9v0.9h-0.9zM167.8 45.8h0.9v0.9h-0.9zM162.7 40.6h0.9v0.9h-0.9zM163.3 42.1h0.9v0.9h-0.9zM168.9 40.1h0.9v0.9h-0.9zM172.5 41.1h0.9v0.9h-0.9zM163.0 47.5h0.9v0.9h-0.9zM170.0 42.8h0.9v0.9h-0.9zM164.4 42.9h0.9v0.9h-0.9zM168.3 45.0h0.9v0.9h-0.9zM168.8 44.8h0.9v0.9h-0.9zM170.9 40.2h0.9v0.9h-0.9zM160.9 44.6h0.9v0.9h-0.9zM168.8 44.7h0.9v0.9h-0.9zM168.4 39.4h0.9v0.9h-0.9zM169.2 43.4h0.9v0.9h-0.9zM171.5 46.7h0.9v0.9h-0.9zM162.5 47.0h0.9v0.9h-0.9zM169.0 40.4h0.9v0.9h-0.9zM168.0 42.1h0.9v0.9h-0.9zM166.6 43.7h0.9v0.9h-0.9zM177.2 49.0h0.9v0.9h-0.9zM165.9 42.0h0.9v0.9h-0.9zM171.1 41.2h0.9v0.9h-0.9zM166.0 48.7h0.9v0.9h-0.9zM169.4 44.0h0.9v0.9h-0.9zM169.4 41.7h0.9v0.9h-0.9zM163.5 48.7h0.9v0.9h-0.9zM172.3 43.0h0.9v0.9h-0.9zM165.6 43.6h0.9v0.9h-0.9zM168.5 45.2h0.9v0.9h-0.9zM166.6 41.5h0.9v0.9h-0.9zM167.3 44.9h0.9v0.9h-0.9zM162.3 46.7h0.9v0.9h-0.9zM171.3 46.4h0.9v0.9h-0.9zM169.2 40.0h0.9v0.9h-0.9zM162.0 48.0h0.9v0.9h-0.9zM165.5 47.3h0.9v0.9h-0.9zM170.6 41.8h0.9v0.9h-0.9zM168.8 39.4h0.9v0.9h-0.9zM172.1 48.3h0.9v0.9h-0.9zM173.9 47.7h0.9v0.9h-0.9zM167.6 47.1h0.9v0.9h-0.9zM163.9 48.4h0.9v0.9h-0.9zM169.5 44.9h0.9v0.9h-0.9zM170.8 43.1h0.9v0.9h-0.9zM168.1 47.3h0.9v0.9h-0.9zM171.5 40.5h0.9v0.9h-0.9zM163.2 48.7h0.9v0.9h-0.9zM171.3 46.3h0.9v0.9h-0.9zM163.5 45.4h0.9v0.9h-0.9zM171.9 48.3h0.9v0.9h-0.9zM172.3 42.2h0.9v0.9h-0.9zM163.6 44.2h0.9v0.9h-0.9zM163.8 46.7h0.9v0.9h-0.9zM169.9 47.7h0.9v0.9h-0.9zM169.0 48.7h0.9v0.9h-0.9zM169.6 43.7h0.9v0.9h-0.9zM169.5 40.5h0.9v0.9h-0.9zM165.4 40.1h0.9v0.9h-0.9zM168.8 38.2h0.9v0.9h-0.9zM166.6 46.6h0.9v0.9h-0.9zM169.4 44.0h0.9v0.9h-0.9zM176.2 46.1h0.9v0.9h-0.9zM165.7 44.4h0.9v0.9h-0.9zM171.3 45.7h0.9v0.9h-0.9zM172.0 47.7h0.9v0.9h-0.9zM168.6 40.8h0.9v0.9h-0.9zM168.0 43.5h0.9v0.9h-0.9zM170.6 46.1h0.9v0.9h-0.9zM169.3 41.7h0.9v0.9h-0.9zM170.9 45.8h0.9v0.9h-0.9zM170.9 42.6h0.9v0.9h-0.9zM170.1 47.3h0.9v0.9h-0.9zM164.4 40.0h0.9v0.9h-0.9zM173.2 45.4h0.9v0.9h-0.9zM165.7 43.2h0.9v0.9h-0.9zM166.1 47.7h0.9v0.9h-0.9zM174.1 42.1h0.9v0.9h-0.9zM159.9 45.0h0.9v0.9h-0.9zM165.2 47.4h0.9v0.9h-0.9zM168.5 46.0h0.9v0.9h-0.9zM165.9 41.6h0.9v0.9h-0.9zM165.6 45.5h0.9v0.9h-0.9zM165.8 46.9h0.9v0.9h-0.9zM167.7 42.1h0.9v0.9h-0.9zM164.7 42.4h0.9v0.9h-0.9zM168.0 43.9h0.9v0.9h-0.9zM163.2 48.8h0.9v0.9h-0.9zM172.3 48.9h0.9v0.9h-0.9zM170.2 45.2h0.9v0.9h-0.9zM165.8 41.1h0.9v0.9h-0.9zM165.3 38.5h0.9v0.9h-0.9zM169.8 41.1h0.9v0.9h-0.9zM173.8 48.5h0.9v0.9h-0.9zM165.7 40.7h0.9v0.9h-0.9zM164.4 41.4h0.9v0.9h-0.9zM163.3 48.4h0.9v0.9h-0.9zM167.9 41.4h0.9v0.9h-0.9zM168.5 38.2h0.9v0.9h-0.9zM168.9 39.0h0.9v0.9h-0.9zM172.6 43.8h0.9v0.9h-0.9zM171.4 40.8h0.9v0.9h-0.9zM176.5 47.4h0.9v0.9h-0.9zM170.8 48.6h0.9v0.9h-0.9zM169.3 44.7h0.9v0.9h-0.9zM166.4 45.8h0.9v0.9h-0.9zM167.0 46.1h0.9v0.9h-0.9zM171.9 42.9h0.9v0.9h-0.9zM167.0 44.6h0.9v0.9h-0.9zM168.2 43.6h0.9v0.9h-0.9zM162.5 42.2h0.9v0.9h-0.9zM174.7 49.0h0.9v0.9h-0.9zM172.4 49.1h0.9v0.9h-0.9zM166.9 44.9h0.9v0.9h-0.9zM161.3 49.2h0.9v0.9h-0.9zM167.8 40.0h0.9v0.9h-0.9zM166.2 45.3h0.9v0.9h-0.9zM175.8 42.8h0.9v0.9h-0.9zM167.6 45.8h0.9v0.9h-0.9zM162.2 44.4h0.9v0.9h-0.9zM163.0 49.1h0.9v0.9h-0.9zM168.5 47.4h0.9v0.9h-0.9zM177.7 48.5h0.9v0.9h-0.9zM166.9 47.8h0.9v0.9h-0.9zM172.8 41.5h0.9v0.9h-0.9zM173.5 46.9h0.9v0.9h-0.9zM164.7 39.9h0.9v0.9h-0.9zM168.9 44.4h0.9v0.9h-0.9zM166.0 41.4h0.9v0.9h-0.9zM171.4 42.4h0.9v0.9h-0.9zM175.8 42.2h0.9v0.9h-0.9zM168.0 40.8h0.9v0.9h-0.9zM164.9 40.8h0.9v0.9h-0.9zM167.1 47.1h0.9v0.9h-0.9zM168.9 44.2h0.9v0.9h-0.9zM166.7 41.0h0.9v0.9h-0.9zM162.6 45.0h0.9v0.9h-0.9zM170.9 48.3h0.9v0.9h-0.9zM161.0 48.4h0.9v0.9h-0.9zM174.0 45.2h0.9v0.9h-0.9zM169.1 48.5h0.9v0.9h-0.9zM162.7 46.5h0.9v0.9h-0.9zM165.7 39.2h0.9v0.9h-0.9zM169.4 39.4h0.9v0.9h-0.9zM169.3 43.0h0.9v0.9h-0.9zM159.8 48.9h0.9v0.9h-0.9zM171.3 42.6h0.9v0.9h-0.9zM164.7 40.7h0.9v0.9h-0.9zM163.9 43.5h0.9v0.9h-0.9zM169.6 49.2h0.9v0.9h-0.9zM169.4 39.1h0.9v0.9h-0.9zM160.9 47.4h0.9v0.9h-0.9zM172.0 44.5h0.9v0.9h-0.9zM168.3 45.0h0.9v0.9h-0.9zM164.8 44.1h0.9v0.9h-0.9zM165.9 47.0h0.9v0.9h-0.9zM177.8 46.5h0.9v0.9h-0.9zM171.2 47.3h0.9v0.9h-0.9zM166.6 42.2h0.9v0.9h-0.9zM164.7 46.5h0.9v0.9h-0.9zM164.5 48.4h0.9v0.9h-0.9zM166.5 44.2h0.9v0.9h-0.9zM158.7 43.4h0.9v0.9h-0.9zM165.4 44.0h0.9v0.9h-0.9zM166.7 47.0h0.9v0.9h-0.9zM168.7 42.3h0.9v0.9h-0.9zM174.5 44.8h0.9v0.9h-0.9zM164.8 42.3h0.9v0.9h-0.9zM172.6 48.5h0.9v0.9h-0.9zM168.5 48.5h0.9v0.9h-0.9zM169.1 38.7h0.9v0.9h-0.9zM170.6 44.5h0.9v0.9h-0.9zM165.1 47.0h0.9v0.9h-0.9zM167.9 47.2h0.9v0.9h-0.9zM169.6 48.5h0.9v0.9h-0.9zM164.3 47.7h0.9v0.9h-0.9zM171.2 41.7h0.9v0.9h-0.9zM159.1 45.7h0.9v0.9h-0.9zM164.0 47.5h0.9v0.9h-0.9zM166.7 44.1h0.9v0.9h-0.9zM171.1 47.6h0.9v0.9h-0.9zM165.8 45.5h0.9v0.9h-0.9zM168.4 46.7h0.9v0.9h-0.9zM168.8 43.2h0.9v0.9h-0.9zM171.0 39.8h0.9v0.9h-0.9zM171.4 45.5h0.9v0.9h-0.9zM165.5 40.8h0.9v0.9h-0.9zM162.0 43.0h0.9v0.9h-0.9zM177.0 46.8h0.9v0.9h-0.9zM171.2 45.8h0.9v0.9h-0.9zM171.2 45.2h0.9v0.9h-0.9zM174.4 42.3h0.9v0.9h-0.9zM167.9 40.9h0.9v0.9h-0.9zM170.3 46.6h0.9v0.9h-0.9zM171.8 42.8h0.9v0.9h-0.9zM167.6 47.4h0.9v0.9h-0.9zM173.8 48.3h0.9v0.9h-0.9zM165.8 41.4h0.9v0.9h-0.9zM161.0 47.2h0.9v0.9h-0.9zM174.6 46.4h0.9v0.9h-0.9zM166.6 45.1h0.9v0.9h-0.9zM169.3 43.8h0.9v0.9h-0.9zM171.5 43.0h0.9v0.9h-0.9zM167.6 42.7h0.9v0.9h-0.9zM161.8 48.5h0.9v0.9h-0.9zM166.4 40.8h0.9v0.9h-0.9zM158.4 43.5h0.9v0.9h-0.9zM170.0 40.3h0.9v0.9h-0.9zM163.9 42.9h0.9v0.9h-0.9zM172.1 41.4h0.9v0.9h-0.9zM166.4 44.2h0.9v0.9h-0.9zM165.9 43.5h0.9v0.9h-0.9zM165.2 46.3h0.9v0.9h-0.9zM166.7 40.6h0.9v0.9h-0.9zM165.6 44.7h0.9v0.9h-0.9zM161.7 45.5h0.9v0.9h-0.9zM167.2 41.7h0.9v0.9h-0.9zM173.8 47.4h0.9v0.9h-0.9zM168.4 46.8h0.9v0.9h-0.9zM168.5 41.4h0.9v0.9h-0.9zM175.4 46.1h0.9v0.9h-0.9zM169.2 41.5h0.9v0.9h-0.9zM176.4 46.5h0.9v0.9h-0.9zM167.2 38.0h0.9v0.9h-0.9zM168.6 45.5h0.9v0.9h-0.9zM161.1 46.2h0.9v0.9h-0.9zM167.4 40.2h0.9v0.9h-0.9zM170.1 44.5h0.9v0.9h-0.9zM174.0 46.2h0.9v0.9h-0.9zM169.9 39.1h0.9v0.9h-0.9zM166.3 48.7h0.9v0.9h-0.9zM167.2 41.7h0.9v0.9h-0.9zM171.4 48.1h0.9v0.9h-0.9zM168.4 41.0h0.9v0.9h-0.9zM167.4 39.3h0.9v0.9h-0.9zM173.5 46.1h0.9v0.9h-0.9zM169.9 48.3h0.9v0.9h-0.9zM164.5 41.7h0.9v0.9h-0.9zM166.0 47.9h0.9v0.9h-0.9zM166.4 47.9h0.9v0.9h-0.9zM171.6 41.9h0.9v0.9h-0.9zM170.2 45.5h0.9v0.9h-0.9zM176.0 49.0h0.9v0.9h-0.9zM171.7 46.0h0.9v0.9h-0.9zM165.6 47.6h0.9v0.9h-0.9zM164.8 41.8h0.9v0.9h-0.9zM159.4 48.7h0.9v0.9h-0.9zM176.5 48.5h0.9v0.9h-0.9zM174.4 46.4h0.9v0.9h-0.9zM167.4 46.1h0.9v0.9h-0.9zM161.5 45.7h0.9v0.9h-0.9zM173.2 48.5h0.9v0.9h-0.9zM158.7 47.0h0.9v0.9h-0.9zM169.3 44.1h0.9v0.9h-0.9zM170.4 48.6h0.9v0.9h-0.9zM167.5 46.1h0.9v0.9h-0.9zM165.4 47.1h0.9v0.9h-0.9zM168.9 38.3h0.9v0.9h-0.9zM170.5 45.4h0.9v0.9h-0.9zM164.2 39.5h0.9v0.9h-0.9zM172.1 42.7h0.9v0.9h-0.9zM176.1 47.4h0.9v0.9h-0.9zM175.2 47.0h0.9v0.9h-0.9zM171.8 41.0h0.9v0.9h-0.9zM164.1 43.7h0.9v0.9h-0.9zM168.2 49.1h0.9v0.9h-0.9zM168.5 41.5h0.9v0.9h-0.9zM175.2 42.7h0.9v0.9h-0.9zM170.7 47.8h0.9v0.9h-0.9zM168.2 46.2h0.9v0.9h-0.9zM168.4 44.7h0.9v0.9h-0.9zM164.8 47.2h0.9v0.9h-0.9zM171.1 49.0h0.9v0.9h-0.9zM170.2 46.1h0.9v0.9h-0.9zM169.0 45.3h0.9v0.9h-0.9zM161.2 48.3h0.9v0.9h-0.9zM163.6 45.3h0.9v0.9h-0.9zM165.5 44.4h0.9v0.9h-0.9zM164.9 42.8h0.9v0.9h-0.9zM169.5 42.1h0.9v0.9h-0.9zM161.9 42.8h0.9v0.9h-0.9zM164.0 42.4h0.9v0.9h-0.9zM169.0 40.7h0.9v0.9h-0.9zM172.2 47.8h0.9v0.9h-0.9zM167.1 41.6h0.9v0.9h-0.9zM170.2 48.0h0.9v0.9h-0.9zM165.0 45.8h0.9v0.9h-0.9zM170.6 47.7h0.9v0.9h-0.9zM162.4 43.1h0.9v0.9h-0.9zM166.3 45.5h0.9v0.9h-0.9zM175.1 48.0h0.9v0.9h-0.9zM165.7 44.6h0.9v0.9h-0.9zM171.5 40.8h0.9v0.9h-0.9zM166.4 40.6h0.9v0.9h-0.9zM174.5 41.7h0.9v0.9h-0.9zM164.5 44.8h0.9v0.9h-0.9zM164.7 42.6h0.9v0.9h-0.9zM166.7 38.4h0.9v0.9h-0.9zM169.6 44.3h0.9v0.9h-0.9zM172.3 48.1h0.9v0.9h-0.9zM167.2 39.7h0.9v0.9h-0.9zM169.7 42.9h0.9v0.9h-0.9zM167.4 39.5h0.9v0.9h-0.9zM164.2 41.7h0.9v0.9h-0.9zM171.7 43.3h0.9v0.9h-0.9zM166.5 43.9h0.9v0.9h-0.9zM167.0 42.0h0.9v0.9h-0.9zM165.7 40.3h0.9v0.9h-0.9zM166.5 41.8h0.9v0.9h-0.9zM162.6 46.0h0.9v0.9h-0.9zM170.7 44.2h0.9v0.9h-0.9zM167.5 40.8h0.9v0.9h-0.9zM172.0 46.9h0.9v0.9h-0.9zM173.1 45.8h0.9v0.9h-0.9zM166.7 38.5h0.9v0.9h-0.9zM166.9 42.8h0.9v0.9h-0.9zM168.1 49.0h0.9v0.9h-0.9zM162.4 49.0h0.9v0.9h-0.9zM173.8 47.5h0.9v0.9h-0.9zM173.5 48.0h0.9v0.9h-0.9zM175.5 45.2h0.9v0.9h-0.9zM170.4 40.8h0.9v0.9h-0.9zM165.1 45.0h0.9v0.9h-0.9zM162.5 47.8h0.9v0.9h-0.9zM166.4 48.0h0.9v0.9h-0.9zM168.1 38.2h0.9v0.9h-0.9zM165.4 39.6h0.9v0.9h-0.9zM173.5 45.7h0.9v0.9h-0.9zM171.1 42.6h0.9v0.9h-0.9zM167.0 45.4h0.9v0.9h-0.9zM169.6 42.5h0.9v0.9h-0.9zM164.3 42.3h0.9v0.9h-0.9zM165.9 47.0h0.9v0.9h-0.9zM163.9 46.6h0.9v0.9h-0.9zM165.7 46.8h0.9v0.9h-0.9zM165.1 41.6h0.9v0.9h-0.9zM171.2 45.9h0.9v0.9h-0.9zM171.3 46.9h0.9v0.9h-0.9zM165.0 46.5h0.9v0.9h-0.9zM174.0 47.9h0.9v0.9h-0.9zM160.4 45.8h0.9v0.9h-0.9zM172.5 44.2h0.9v0.9h-0.9zM171.4 41.1h0.9v0.9h-0.9zM166.1 38.9h0.9v0.9h-0.9zM169.7 43.9h0.9v0.9h-0.9zM163.8 44.0h0.9v0.9h-0.9zM171.9 48.3h0.9v0.9h-0.9zM173.0 46.4h0.9v0.9h-0.9zM162.8 47.5h0.9v0.9h-0.9zM166.8 41.8h0.9v0.9h-0.9zM170.2 45.3h0.9v0.9h-0.9zM168.6 44.4h0.9v0.9h-0.9zM168.7 47.4h0.9v0.9h-0.9zM166.3 43.0h0.9v0.9h-0.9zM175.7 48.9h0.9v0.9h-0.9zM168.9 46.1h0.9v0.9h-0.9zM167.0 41.9h0.9v0.9h-0.9zM167.6 40.5h0.9v0.9h-0.9zM165.8 45.7h0.9v0.9h-0.9zM165.2 43.3h0.9v0.9h-0.9zM168.6 43.2h0.9v0.9h-0.9zM159.7 47.1h0.9v0.9h-0.9zM170.8 39.2h0.9v0.9h-0.9zM165.7 42.0h0.9v0.9h-0.9zM173.9 47.5h0.9v0.9h-0.9zM165.7 48.2h0.9v0.9h-0.9zM172.5 48.8h0.9v0.9h-0.9zM174.1 47.2h0.9v0.9h-0.9zM170.9 49.0h0.9v0.9h-0.9zM173.8 40.8h0.9v0.9h-0.9zM169.5 44.3h0.9v0.9h-0.9zM165.4 38.2h0.9v0.9h-0.9zM171.6 42.1h0.9v0.9h-0.9zM167.1 40.7h0.9v0.9h-0.9zM159.9 48.3h0.9v0.9h-0.9zM166.5 45.8h0.9v0.9h-0.9zM170.8 49.2h0.9v0.9h-0.9zM158.2 44.0h0.9v0.9h-0.9zM174.1 43.8h0.9v0.9h-0.9zM167.0 47.4h0.9v0.9h-0.9zM173.5 44.4h0.9v0.9h-0.9zM171.8 40.1h0.9v0.9h-0.9zM167.7 44.6h0.9v0.9h-0.9zM168.2 46.0h0.9v0.9h-0.9zM164.2 40.0h0.9v0.9h-0.9zM164.2 46.4h0.9v0.9h-0.9zM166.2 42.8h0.9v0.9h-0.9zM170.8 44.6h0.9v0.9h-0.9zM167.6 45.8h0.9v0.9h-0.9zM161.8 40.5h0.9v0.9h-0.9zM171.0 41.5h0.9v0.9h-0.9zM165.5 39.8h0.9v0.9h-0.9zM172.6 46.9h0.9v0.9h-0.9zM166.4 45.5h0.9v0.9h-0.9zM169.9 46.5h0.9v0.9h-0.9zM166.1 43.3h0.9v0.9h-0.9zM165.3 40.1h0.9v0.9h-0.9zM178.1 44.2h0.9v0.9h-0.9zM162.5 41.7h0.9v0.9h-0.9zM167.8 45.1h0.9v0.9h-0.9zM163.4 49.2h0.9v0.9h-0.9zM160.1 48.5h0.9v0.9h-0.9zM169.2 40.3h0.9v0.9h-0.9zM172.8 49.0h0.9v0.9h-0.9zM169.7 46.3h0.9v0.9h-0.9zM167.8 48.4h0.9v0.9h-0.9zM166.2 38.3h0.9v0.9h-0.9zM166.7 47.6h0.9v0.9h-0.9zM162.8 48.8h0.9v0.9h-0.9zM171.2 43.6h0.9v0.9h-0.9zM164.2 41.3h0.9v0.9h-0.9zM162.1 46.7h0.9v0.9h-0.9zM170.9 48.3h0.9v0.9h-0.9zM167.2 46.2h0.9v0.9h-0.9zM165.2 47.3h0.9v0.9h-0.9zM170.8 44.0h0.9v0.9h-0.9zM169.7 48.1h0.9v0.9h-0.9zM169.3 47.1h0.9v0.9h-0.9zM168.6 46.9h0.9v0.9h-0.9zM168.6 47.4h0.9v0.9h-0.9zM168.7 43.8h0.9v0.9h-0.9zM173.5 41.6h0.9v0.9h-0.9zM159.0 49.0h0.9v0.9h-0.9zM172.8 47.9h0.9v0.9h-0.9zM167.4 47.5h0.9v0.9h-0.9zM162.8 44.4h0.9v0.9h-0.9zM167.7 39.1h0.9v0.9h-0.9zM170.3 46.0h0.9v0.9h-0.9zM174.6 44.9h0.9v0.9h-0.9zM165.5 44.3h0.9v0.9h-0.9zM170.7 47.7h0.9v0.9h-0.9zM170.2 48.4h0.9v0.9h-0.9zM169.0 38.7h0.9v0.9h-0.9zM159.6 44.0h0.9v0.9h-0.9zM169.1 45.1h0.9v0.9h-0.9zM168.1 46.9h0.9v0.9h-0.9zM168.4 39.3h0.9v0.9h-0.9zM167.9 38.1h0.9v0.9h-0.9zM169.2 38.0h0.9v0.9h-0.9zM166.9 40.7h0.9v0.9h-0.9zM170.6 41.6h0.9v0.9h-0.9zM167.5 47.4h0.9v0.9h-0.9zM170.6 44.3h0.9v0.9h-0.9zM170.7 45.5h0.9v0.9h-0.9zM166.8 44.9h0.9v0.9h-0.9zM169.4 47.4h0.9v0.9h-0.9zM176.7 48.1h0.9v0.9h-0.9zM170.3 41.9h0.9v0.9h-0.9zM172.4 47.6h0.9v0.9h-0.9zM164.7 40.9h0.9v0.9h-0.9zM165.9 42.3h0.9v0.9h-0.9zM169.1 46.9h0.9v0.9h-0.9zM168.9 43.0h0.9v0.9h-0.9zM174.9 44.9h0.9v0.9h-0.9zM175.8 43.3h0.9v0.9h-0.9zM157.1 42.2h0.9v0.9h-0.9zM157.7 42.1h0.9v0.9h-0.9zM160.5 48.3h0.9v0.9h-0.9zM178.7 45.2h0.9v0.9h-0.9zM178.2 45.1h0.9v0.9h-0.9zM166.9 39.6h0.9v0.9h-0.9zM164.9 48.2h0.9v0.9h-0.9zM165.9 37.3h0.9v0.9h-0.9zM165.8 38.7h0.9v0.9h-0.9zM174.2 37.8h0.9v0.9h-0.9zM152.9 44.8h0.9v0.9h-0.9zM154.3 47.3h0.9v0.9h-0.9zM164.4 36.4h0.9v0.9h-0.9zM175.1 48.4h0.9v0.9h-0.9zM152.4 47.0h0.9v0.9h-0.9zM154.9 44.4h0.9v0.9h-0.9zM176.8 48.9h0.9v0.9h-0.9zM161.9 39.7h0.9v0.9h-0.9zM171.8 47.6h0.9v0.9h-0.9zM165.2 48.6h0.9v0.9h-0.9zM165.5 45.5h0.9v0.9h-0.9zM158.8 48.9h0.9v0.9h-0.9zM162.9 47.9h0.9v0.9h-0.9zM175.6 35.9h0.9v0.9h-0.9zM153.7 42.0h0.9v0.9h-0.9zM160.2 46.3h0.9v0.9h-0.9zM154.4 33.8h0.9v0.9h-0.9zM178.1 46.9h0.9v0.9h-0.9zM173.2 45.1h0.9v0.9h-0.9zM178.9 42.3h0.9v0.9h-0.9zM168.5 46.8h0.9v0.9h-0.9zM151.3 48.7h0.9v0.9h-0.9zM158.4 46.9h0.9v0.9h-0.9zM173.2 47.4h0.9v0.9h-0.9zM168.2 45.3h0.9v0.9h-0.9zM173.3 41.4h0.9v0.9h-0.9zM178.0 42.0h0.9v0.9h-0.9zM166.8 46.7h0.9v0.9h-0.9zM151.6 40.7h0.9v0.9h-0.9zM167.8 46.1h0.9v0.9h-0.9zM165.3 41.2h0.9v0.9h-0.9zM172.4 40.6h0.9v0.9h-0.9zM177.3 36.3h0.9v0.9h-0.9zM173.0 43.7h0.9v0.9h-0.9zM151.9 43.0h0.9v0.9h-0.9zM164.1 40.9h0.9v0.9h-0.9zM164.0 48.1h0.9v0.9h-0.9zM151.1 38.1h0.9v0.9h-0.9zM177.0 45.1h0.9v0.9h-0.9zM151.9 44.1h0.9v0.9h-0.9zM169.3 40.6h0.9v0.9h-0.9zM163.6 46.4h0.9v0.9h-0.9zM176.9 46.9h0.9v0.9h-0.9zM173.7 37.9h0.9v0.9h-0.9zM175.2 44.1h0.9v0.9h-0.9zM168.3 47.1h0.9v0.9h-0.9zM155.2 40.0h0.9v0.9h-0.9zM166.2 48.1h0.9v0.9h-0.9zM153.3 44.1h0.9v0.9h-0.9zM170.9 39.9h0.9v0.9h-0.9zM162.8 44.3h0.9v0.9h-0.9zM158.5 45.3h0.9v0.9h-0.9zM151.6 38.0h0.9v0.9h-0.9zM178.9 47.6h0.9v0.9h-0.9zM155.4 46.7h0.9v0.9h-0.9zM153.2 47.1h0.9v0.9h-0.9zM166.0 40.6h0.9v0.9h-0.9zM157.2 43.5h0.9v0.9h-0.9zM158.7 40.8h0.9v0.9h-0.9zM177.8 45.1h0.9v0.9h-0.9zM158.7 48.0h0.9v0.9h-0.9zM174.7 46.7h0.9v0.9h-0.9zM177.6 43.1h0.9v0.9h-0.9zM162.9 42.5h0.9v0.9h-0.9zM175.3 47.4h0.9v0.9h-0.9zM151.2 45.4h0.9v0.9h-0.9zM175.0 45.4h0.9v0.9h-0.9zM165.9 42.8h0.9v0.9h-0.9zM163.9 48.5h0.9v0.9h-0.9zM165.7 40.2h0.9v0.9h-0.9zM154.9 47.2h0.9v0.9h-0.9zM162.8 45.0h0.9v0.9h-0.9zM158.9 48.4h0.9v0.9h-0.9zM154.7 41.4h0.9v0.9h-0.9zM161.2 47.9h0.9v0.9h-0.9zM158.9 43.5h0.9v0.9h-0.9zM166.6 44.4h0.9v0.9h-0.9zM157.6 36.2h0.9v0.9h-0.9zM155.0 43.7h0.9v0.9h-0.9zM158.0 45.9h0.9v0.9h-0.9zM158.1 35.6h0.9v0.9h-0.9zM178.3 47.0h0.9v0.9h-0.9zM155.1 41.4h0.9v0.9h-0.9zM154.4 47.0h0.9v0.9h-0.9zM158.8 46.3h0.9v0.9h-0.9zM169.1 41.5h0.9v0.9h-0.9zM159.6 45.8h0.9v0.9h-0.9zM170.8 40.5h0.9v0.9h-0.9zM164.2 48.2h0.9v0.9h-0.9zM152.2 47.2h0.9v0.9h-0.9zM160.7 36.9h0.9v0.9h-0.9zM177.1 46.5h0.9v0.9h-0.9zM167.9 41.5h0.9v0.9h-0.9zM151.9 44.6h0.9v0.9h-0.9zM178.8 43.4h0.9v0.9h-0.9zM151.4 48.5h0.9v0.9h-0.9zM153.1 42.0h0.9v0.9h-0.9z" fill="#000" fill-opacity="1"/>
<path d="M43.3 116.6h0.9v0.9h-0.9zM40.4 114.9h0.9v0.9h-0.9zM38.5 114.6h0.9v0.9h-0.9zM35.6 115.4h0.9v0.9h-0.9zM45.4 121.4h0.9v0.9h-0.9zM37.9 114.3h0.9v0.9h-0.9zM40.8 128.5h0.9v0.9h-0.9zM38.1 121.8h0.9v0.9h-0.9zM41.2 120.8h0.9v0.9h-0.9zM38.3 122.3h0.9v0.9h-0.9zM37.9 112.7h0.9v0.9h-0.9zM42.8 119.6h0.9v0.9h-0.9zM40.6 118.3h0.9v0.9h-0.9zM42.1 115.3h0.9v0.9h-0.9zM42.3 118.7h0.9v0.9h-0.9zM41.0 120.1h0.9v0.9h-0.9zM40.7 123.1h0.9v0.9h-0.9zM45.4 115.2h0.9v0.9h-0.9zM39.5 112.3h0.9v0.9h-0.9zM40.1 123.1h0.9v0.9h-0.9zM41.0 112.1h0.9v0.9h-0.9zM41.3 111.0h0.9v0.9h-0.9zM44.2 123.4h0.9v0.9h-0.9zM44.7 125.1h0.9v0.9h-0.9zM40.0 113.0h0.9v0.9h-0.9zM41.3 119.3h0.9v0.9h-0.9zM40.6 119.6h0.9v0.9h-0.9zM40.7 117.5h0.9v0.9h-0.9zM42.7 119.3h0.9v0.9h-0.9zM44.3 109.5h0.9v0.9h-0.9zM41.6 113.5h0.9v0.9h-0.9zM42.7 120.8h0.9v0.9h-0.9zM40.0 114.4h0.9v0.9h-0.9zM42.9 109.7h0.9v0.9h-0.9zM42.5 112.7h0.9v0.9h-0.9zM45.0 116.7h0.9v0.9h-0.9zM42.0 121.5h0.9v0.9h-0.9zM40.1 118.0h0.9v0.9h-0.9zM42.9 118.3h0.9v0.9h-0.9zM43.5 121.1h0.9v0.9h-0.9zM39.4 121.3h0.9v0.9h-0.9zM42.6 114.4h0.9v0.9h-0.9zM41.9 113.7h0.9v0.9h-0.9zM47.5 114.1h0.9v0.9h-0.9zM42.7 115.5h0.9v0.9h-0.9zM41.2 110.3h0.9v0.9h-0.9zM41.5 122.9h0.9v0.9h-0.9zM43.8 114.5h0.9v0.9h-0.9zM46.2 109.3h0.9v0.9h-0.9zM38.1 115.0h0.9v0.9h-0.9zM40.9 120.6h0.9v0.9h-0.9zM45.9 118.2h0.9v0.9h-0.9zM41.1 114.0h0.9v0.9h-0.9zM43.1 109.8h0.9v0.9h-0.9zM40.4 117.9h0.9v0.9h-0.9zM39.8 113.9h0.9v0.9h-0.9zM40.2 111.4h0.9v0.9h-0.9zM42.5 116.0h0.9v0.9h-0.9zM40.6 119.1h0.9v0.9h-0.9zM40.6 113.7h0.9v0.9h-0.9zM46.8 122.3h0.9v0.9h-0.9zM41.8 118.8h0.9v0.9h-0.9zM41.8 120.7h0.9v0.9h-0.9zM41.5 125.8h0.9v0.9h-0.9zM43.0 121.9h0.9v0.9h-0.9zM45.8 120.1h0.9v0.9h-0.9zM42.1 116.2h0.9v0.9h-0.9zM42.9 113.0h0.9v0.9h-0.9zM42.4 117.1h0.9v0.9h-0.9zM38.9 126.9h0.9v0.9h-0.9zM40.9 122.8h0.9v0.9h-0.9zM47.3 122.6h0.9v0.9h-0.9zM39.9 114.5h0.9v0.9h-0.9zM41.7 116.0h0.9v0.9h-0.9zM43.7 119.8h0.9v0.9h-0.9zM45.5 113.6h0.9v0.9h-0.9zM39.8 125.8h0.9v0.9h-0.9zM44.7 110.4h0.9v0.9h-0.9zM41.8 118.1h0.9v0.9h-0.9zM46.2 110.9h0.9v0.9h-0.9zM44.4 115.1h0.9v0.9h-0.9zM41.3 114.9h0.9v0.9h-0.9zM46.3 124.5h0.9v0.9h-0.9zM42.4 109.9h0.9v0.9h-0.9zM40.8 114.8h0.9v0.9h-0.9zM42.7 122.9h0.9v0.9h-0.9zM43.4 117.1h0.9v0.9h-0.9zM45.6 117.3h0.9v0.9h-0.9zM43.8 118.7h0.9v0.9h-0.9zM47.7 110.8h0.9v0.9h-0.9zM46.2 117.1h0.9v0.9h-0.9zM39.9 116.9h0.9v0.9h-0.9zM41.9 123.9h0.9v0.9h-0.9zM40.4 122.1h0.9v0.9h-0.9zM44.1 110.1h0.9v0.9h-0.9zM42.1 114.8h0.9v0.9h-0.9zM47.7 116.1h0.9v0.9h-0.9zM41.3 121.8h0.9v0.9h-0.9zM36.9 114.9h0.9v0.9h-0.9zM46.0 124.1h0.9v0.9h-0.9zM37.7 126.1h0.9v0.9h-0.9zM44.2 117.6h0.9v0.9h-0.9zM46.9 115.3h0.9v0.9h-0.9zM39.2 124.9h0.9v0.9h-0.9zM39.2 130.1h0.9v0.9h-0.9zM41.8 110.2h0.9v0.9h-0.9zM40.0 115.1h0.9v0.9h-0.9zM39.6 111.5h0.9v0.9h-0.9zM42.0 118.3h0.9v0.9h-0.9zM44.1 122.9h0.9v0.9h-0.9zM37.7 115.0h0.9v0.9h-0.9zM38.1 111.0h0.9v0.9h-0.9zM41.8 117.2h0.9v0.9h-0.9zM44.5 119.0h0.9v0.9h-0.9zM44.9 120.9h0.9v0.9h-0.9zM43.0 118.1h0.9v0.9h-0.9zM41.4 120.2h0.9v0.9h-0.9zM37.4 120.1h0.9v0.9h-0.9zM40.5 121.9h0.9v0.9h-0.9zM44.0 110.2h0.9v0.9h-0.9zM40.9 117.9h0.9v0.9h-0.9zM42.2 117.3h0.9v0.9h-0.9zM43.3 119.2h0.9v0.9h-0.9zM40.2 124.8h0.9v0.9h-0.9zM40.9 120.3h0.9v0.9h-0.9zM46.0 115.0h0.9v0.9h-0.9zM45.0 125.9h0.9v0.9h-0.9zM44.3 119.0h0.9v0.9h-0.9zM38.5 115.8h0.9v0.9h-0.9zM39.7 120.6h0.9v0.9h-0.9zM43.7 117.1h0.9v0.9h-0.9zM38.5 120.0h0.9v0.9h-0.9zM43.5 116.7h0.9v0.9h-0.9zM42.1 122.8h0.9v0.9h-0.9zM42.8 124.5h0.9v0.9h-0.9zM46.2 123.2h0.9v0.9h-0.9zM45.2 118.7h0.9v0.9h-0.9zM39.8 113.8h0.9v0.9h-0.9zM40.2 121.3h0.9v0.9h-0.9zM41.7 121.6h0.9v0.9h-0.9zM41.4 113.7h0.9v0.9h-0.9zM43.1 111.5h0.9v0.9h-0.9zM37.4 116.3h0.9v0.9h-0.9zM40.4 125.5h0.9v0.9h-0.9zM41.8 122.8h0.9v0.9h-0.9zM44.3 119.4h0.9v0.9h-0.9zM37.4 116.7h0.9v0.9h-0.9zM41.1 113.6h0.9v0.9h-0.9zM42.3 113.6h0.9v0.9h-0.9zM40.3 111.5h0.9v0.9h-0.9zM39.0 116.7h0.9v0.9h-0.9zM44.1 118.5h0.9v0.9h-0.9zM43.2 124.1h0.9v0.9h-0.9zM37.1 120.8h0.9v0.9h-0.9zM43.8 125.7h0.9v0.9h-0.9zM40.9 116.9h0.9v0.9h-0.9zM42.9 117.5h0.9v0.9h-0.9zM45.2 121.3h0.9v0.9h-0.9zM42.2 110.0h0.9v0.9h-0.9zM42.7 118.9h0.9v0.9h-0.9zM43.1 116.4h0.9v0.9h-0.9zM43.0 119.2h0.9v0.9h-0.9zM42.9 120.7h0.9v0.9h-0.9zM36.7 126.2h0.9v0.9h-0.9zM43.3 121.5h0.9v0.9h-0.9zM38.7 114.6h0.9v0.9h-0.9zM46.8 118.8h0.9v0.9h-0.9zM42.4 120.9h0.9v0.9h-0.9zM41.5 124.7h0.9v0.9h-0.9zM39.7 119.6h0.9v0.9h-0.9zM42.3 115.8h0.9v0.9h-0.9zM40.8 113.7h0.9v0.9h-0.9zM38.5 118.2h0.9v0.9h-0.9zM45.1 119.9h0.9v0.9h-0.9zM47.3 112.3h0.9v0.9h-0.9zM39.0 116.2h0.9v0.9h-0.9zM41.3 124.1h0.9v0.9h-0.9zM38.9 110.8h0.9v0.9h-0.9zM42.2 113.6h0.9v0.9h-0.9zM41.6 114.1h0.9v0.9h-0.9zM41.8 123.6h0.9v0.9h-0.9zM42.1 123.0h0.9v0.9h-0.9zM38.9 119.0h0.9v0.9h-0.9zM45.1 111.8h0.9v0.9h-0.9zM40.2 111.7h0.9v0.9h-0.9zM42.8 113.6h0.9v0.9h-0.9zM41.5 116.4h0.9v0.9h-0.9zM40.8 117.3h0.9v0.9h-0.9zM44.3 114.0h0.9v0.9h-0.9zM44.5 112.7h0.9v0.9h-0.9zM39.4 114.0h0.9v0.9h-0.9zM36.2 121.3h0.9v0.9h-0.9zM45.2 122.2h0.9v0.9h-0.9zM41.3 124.0h0.9v0.9h-0.9zM38.6 116.3h0.9v0.9h-0.9zM43.4 119.3h0.9v0.9h-0.9zM39.4 114.2h0.9v0.9h-0.9zM44.4 116.1h0.9v0.9h-0.9zM36.3 124.9h0.9v0.9h-0.9zM39.7 119.7h0.9v0.9h-0.9zM44.3 120.8h0.9v0.9h-0.9zM42.1 115.8h0.9v0.9h-0.9zM43.4 114.9h0.9v0.9h-0.9zM42.2 114.6h0.9v0.9h-0.9zM39.7 117.6h0.9v0.9h-0.9zM46.1 117.0h0.9v0.9h-0.9zM42.5 121.9h0.9v0.9h-0.9zM38.2 120.5h0.9v0.9h-0.9zM40.4 116.8h0.9v0.9h-0.9zM46.2 125.4h0.9v0.9h-0.9zM47.6 113.9h0.9v0.9h-0.9zM39.2 121.4h0.9v0.9h-0.9zM45.5 121.6h0.9v0.9h-0.9zM44.9 129.3h0.9v0.9h-0.9zM45.4 117.3h0.9v0.9h-0.9zM37.1 117.5h0.9v0.9h-0.9zM40.3 117.6h0.9v0.9h-0.9zM42.8 115.5h0.9v0.9h-0.9zM41.6 118.7h0.9v0.9h-0.9zM43.5 125.2h0.9v0.9h-0.9zM39.7 114.5h0.9v0.9h-0.9zM43.3 110.9h0.9v0.9h-0.9zM45.3 124.7h0.9v0.9h-0.9zM40.7 116.7h0.9v0.9h-0.9zM42.7 124.0h0.9v0.9h-0.9zM41.8 118.8h0.9v0.9h-0.9zM44.1 119.8h0.9v0.9h-0.9zM47.1 116.7h0.9v0.9h-0.9zM40.5 117.3h0.9v0.9h-0.9zM41.2 113.7h0.9v0.9h-0.9zM42.4 118.2h0.9v0.9h-0.9zM37.7 116.2h0.9v0.9h-0.9zM40.4 124.4h0.9v0.9h-0.9zM43.0 117.3h0.9v0.9h-0.9zM41.7 123.1h0.9v0.9h-0.9zM37.1 113.6h0.9v0.9h-0.9zM44.5 110.9h0.9v0.9h-0.9zM37.0 113.9h0.9v0.9h-0.9zM39.4 118.2h0.9v0.9h-0.9zM38.9 123.7h0.9v0.9h-0.9zM42.7 113.6h0.9v0.9h-0.9zM43.3 114.7h0.9v0.9h-0.9zM43.2 114.4h0.9v0.9h-0.9zM46.1 121.7h0.9v0.9h-0.9zM40.0 119.0h0.9v0.9h-0.9zM41.6 118.5h0.9v0.9h-0.9zM39.4 123.8h0.9v0.9h-0.9zM48.0 111.9h0.9v0.9h-0.9zM39.5 116.1h0.9v0.9h-0.9zM43.1 112.9h0.9v0.9h-0.9zM40.8 123.2h0.9v0.9h-0.9zM39.5 117.7h0.9v0.9h-0.9zM38.5 117.5h0.9v0.9h-0.9zM40.6 124.1h0.9v0.9h-0.9zM41.9 114.8h0.9v0.9h-0.9zM41.0 124.1h0.9v0.9h-0.9zM44.3 116.4h0.9v0.9h-0.9zM38.0 117.3h0.9v0.9h-0.9zM45.1 118.3h0.9v0.9h-0.9zM38.2 119.3h0.9v0.9h-0.9zM41.4 117.6h0.9v0.9h-0.9zM41.6 113.1h0.9v0.9h-0.9zM39.6 122.2h0.9v0.9h-0.9zM43.3 112.5h0.9v0.9h-0.9zM37.3 122.8h0.9v0.9h-0.9zM43.5 118.2h0.9v0.9h-0.9zM40.7 126.7h0.9v0.9h-0.9zM38.0 115.6h0.9v0.9h-0.9zM43.5 119.7h0.9v0.9h-0.9zM43.5 110.7h0.9v0.9h-0.9zM44.1 123.4h0.9v0.9h-0.9zM40.7 122.5h0.9v0.9h-0.9zM41.2 117.5h0.9v0.9h-0.9zM42.0 116.6h0.9v0.9h-0.9zM42.3 123.6h0.9v0.9h-0.9zM45.6 120.7h0.9v0.9h-0.9zM43.5 111.5h0.9v0.9h-0.9zM41.5 119.9h0.9v0.9h-0.9zM42.2 115.2h0.9v0.9h-0.9zM39.5 122.3h0.9v0.9h-0.9zM42.5 123.1h0.9v0.9h-0.9zM43.5 125.9h0.9v0.9h-0.9zM40.9 122.2h0.9v0.9h-0.9zM47.8 115.7h0.9v0.9h-0.9zM38.5 117.3h0.9v0.9h-0.9zM44.9 112.7h0.9v0.9h-0.9zM41.6 115.5h0.9v0.9h-0.9zM45.8 112.7h0.9v0.9h-0.9zM43.9 117.7h0.9v0.9h-0.9zM37.1 117.1h0.9v0.9h-0.9zM39.4 116.7h0.9v0.9h-0.9zM40.2 116.8h0.9v0.9h-0.9zM41.7 118.6h0.9v0.9h-0.9zM43.6 112.6h0.9v0.9h-0.9zM45.5 127.6h0.9v0.9h-0.9zM42.7 127.8h0.9v0.9h-0.9zM45.6 124.1h0.9v0.9h-0.9zM40.8 123.9h0.9v0.9h-0.9zM43.7 126.0h0.9v0.9h-0.9zM43.0 112.3h0.9v0.9h-0.9zM38.3 118.7h0.9v0.9h-0.9zM42.9 110.7h0.9v0.9h-0.9zM41.5 116.3h0.9v0.9h-0.9zM39.1 117.3h0.9v0.9h-0.9zM47.0 124.7h0.9v0.9h-0.9zM41.0 112.7h0.9v0.9h-0.9zM43.0 115.0h0.9v0.9h-0.9zM42.3 121.1h0.9v0.9h-0.9zM43.0 122.5h0.9v0.9h-0.9zM47.1 110.9h0.9v0.9h-0.9zM39.8 123.8h0.9v0.9h-0.9zM39.4 114.0h0.9v0.9h-0.9zM42.6 113.5h0.9v0.9h-0.9zM41.1 118.2h0.9v0.9h-0.9zM41.3 114.5h0.9v0.9h-0.9zM40.1 112.0h0.9v0.9h-0.9zM41.1 109.7h0.9v0.9h-0.9zM47.3 123.4h0.9v0.9h-0.9zM41.1 114.4h0.9v0.9h-0.9zM41.3 118.9h0.9v0.9h-0.9zM39.0 118.4h0.9v0.9h-0.9zM35.9 112.0h0.9v0.9h-0.9zM39.1 115.0h0.9v0.9h-0.9zM41.6 115.8h0.9v0.9h-0.9zM42.2 123.4h0.9v0.9h-0.9zM43.0 115.9h0.9v0.9h-0.9zM42.4 114.7h0.9v0.9h-0.9zM40.8 118.9h0.9v0.9h-0.9zM45.8 118.2h0.9v0.9h-0.9zM41.8 116.1h0.9v0.9h-0.9zM38.5 112.3h0.9v0.9h-0.9zM42.2 122.1h0.9v0.9h-0.9zM42.2 113.0h0.9v0.9h-0.9zM41.6 122.1h0.9v0.9h-0.9zM41.9 122.7h0.9v0.9h-0.9zM37.9 119.1h0.9v0.9h-0.9zM42.0 120.1h0.9v0.9h-0.9zM43.3 123.3h0.9v0.9h-0.9zM43.9 122.1h0.9v0.9h-0.9zM40.8 115.1h0.9v0.9h-0.9zM42.0 117.6h0.9v0.9h-0.9zM38.7 122.6h0.9v0.9h-0.9zM46.8 120.7h0.9v0.9h-0.9zM43.3 120.0h0.9v0.9h-0.9zM43.6 118.7h0.9v0.9h-0.9zM39.6 118.4h0.9v0.9h-0.9zM41.8 117.8h0.9v0.9h-0.9zM44.3 118.8h0.9v0.9h-0.9zM41.0 112.7h0.9v0.9h-0.9zM37.0 126.4h0.9v0.9h-0.9zM41.2 123.0h0.9v0.9h-0.9zM43.0 118.0h0.9v0.9h-0.9zM43.3 117.9h0.9v0.9h-0.9zM46.4 115.1h0.9v0.9h-0.9zM41.4 117.1h0.9v0.9h-0.9zM43.0 125.0h0.9v0.9h-0.9zM43.2 120.9h0.9v0.9h-0.9zM41.7 117.4h0.9v0.9h-0.9zM43.8 112.8h0.9v0.9h-0.9zM41.5 113.2h0.9v0.9h-0.9zM41.6 111.5h0.9v0.9h-0.9zM36.3 123.0h0.9v0.9h-0.9zM43.0 122.8h0.9v0.9h-0.9zM44.2 111.4h0.9v0.9h-0.9zM36.0 111.6h0.9v0.9h-0.9zM40.3 126.4h0.9v0.9h-0.9zM41.2 116.3h0.9v0.9h-0.9zM43.1 119.1h0.9v0.9h-0.9zM41.5 127.8h0.9v0.9h-0.9zM39.1 111.1h0.9v0.9h-0.9zM36.4 111.0h0.9v0.9h-0.9zM39.2 114.6h0.9v0.9h-0.9zM40.9 124.8h0.9v0.9h-0.9zM44.1 115.0h0.9v0.9h-0.9zM42.4 113.8h0.9v0.9h-0.9zM41.2 116.7h0.9v0.9h-0.9zM47.5 111.4h0.9v0.9h-0.9zM39.0 119.7h0.9v0.9h-0.9zM39.4 112.4h0.9v0.9h-0.9zM42.9 112.1h0.9v0.9h-0.9zM45.7 120.6h0.9v0.9h-0.9zM40.5 116.7h0.9v0.9h-0.9zM40.2 125.1h0.9v0.9h-0.9zM42.2 118.2h0.9v0.9h-0.9zM39.6 125.5h0.9v0.9h-0.9zM41.9 113.9h0.9v0.9h-0.9zM46.1 119.0h0.9v0.9h-0.9zM40.8 122.0h0.9v0.9h-0.9zM40.5 116.8h0.9v0.9h-0.9zM44.6 111.5h0.9v0.9h-0.9zM41.4 117.0h0.9v0.9h-0.9zM42.9 112.1h0.9v0.9h-0.9zM38.9 115.8h0.9v0.9h-0.9zM39.4 118.1h0.9v0.9h-0.9zM41.6 118.2h0.9v0.9h-0.9zM42.4 111.8h0.9v0.9h-0.9zM40.9 118.4h0.9v0.9h-0.9zM45.3 118.9h0.9v0.9h-0.9zM42.0 127.6h0.9v0.9h-0.9zM40.7 124.1h0.9v0.9h-0.9zM43.7 111.3h0.9v0.9h-0.9zM41.8 121.4h0.9v0.9h-0.9zM38.7 124.6h0.9v0.9h-0.9zM40.5 119.6h0.9v0.9h-0.9zM41.3 119.4h0.9v0.9h-0.9zM39.9 125.3h0.9v0.9h-0.9zM39.7 125.7h0.9v0.9h-0.9zM41.0 112.8h0.9v0.9h-0.9zM44.1 117.9h0.9v0.9h-0.9zM41.1 111.2h0.9v0.9h-0.9zM41.1 116.6h0.9v0.9h-0.9zM39.6 111.1h0.9v0.9h-0.9zM39.3 111.9h0.9v0.9h-0.9zM44.8 121.4h0.9v0.9h-0.9zM40.5 111.8h0.9v0.9h-0.9zM41.5 119.6h0.9v0.9h-0.9zM40.2 116.4h0.9v0.9h-0.9zM44.6 115.8h0.9v0.9h-0.9zM40.7 123.4h0.9v0.9h-0.9zM41.6 116.9h0.9v0.9h-0.9zM39.2 122.4h0.9v0.9h-0.9zM42.5 115.5h0.9v0.9h-0.9zM41.5 124.1h0.9v0.9h-0.9zM41.6 116.3h0.9v0.9h-0.9zM42.2 117.6h0.9v0.9h-0.9zM44.4 115.7h0.9v0.9h-0.9zM40.7 113.5h0.9v0.9h-0.9zM42.2 110.5h0.9v0.9h-0.9zM41.5 116.0h0.9v0.9h-0.9zM41.2 114.3h0.9v0.9h-0.9zM39.4 118.2h0.9v0.9h-0.9zM35.7 111.7h0.9v0.9h-0.9zM46.2 118.4h0.9v0.9h-0.9zM45.9 126.8h0.9v0.9h-0.9zM42.2 112.3h0.9v0.9h-0.9zM43.0 112.7h0.9v0.9h-0.9zM42.0 118.5h0.9v0.9h-0.9zM46.1 116.3h0.9v0.9h-0.9zM41.4 116.0h0.9v0.9h-0.9zM48.2 116.6h0.9v0.9h-0.9zM44.2 113.2h0.9v0.9h-0.9zM39.5 120.0h0.9v0.9h-0.9zM43.4 120.1h0.9v0.9h-0.9zM44.6 115.9h0.9v0.9h-0.9zM46.0 118.9h0.9v0.9h-0.9zM41.3 119.9h0.9v0.9h-0.9zM42.2 116.5h0.9v0.9h-0.9zM43.3 113.2h0.9v0.9h-0.9zM43.1 115.6h0.9v0.9h-0.9zM35.0 122.7h0.9v0.9h-0.9zM41.6 115.8h0.9v0.9h-0.9zM40.9 109.5h0.9v0.9h-0.9zM38.4 119.6h0.9v0.9h-0.9zM41.0 122.9h0.9v0.9h-0.9zM47.0 114.7h0.9v0.9h-0.9zM37.7 123.8h0.9v0.9h-0.9zM43.5 125.6h0.9v0.9h-0.9zM42.6 118.7h0.9v0.9h-0.9zM39.7 125.6h0.9v0.9h-0.9zM42.1 124.5h0.9v0.9h-0.9zM42.0 114.5h0.9v0.9h-0.9zM43.8 122.5h0.9v0.9h-0.9zM35.4 115.2h0.9v0.9h-0.9zM43.4 122.8h0.9v0.9h-0.9zM41.9 113.5h0.9v0.9h-0.9zM42.8 115.3h0.9v0.9h-0.9zM43.0 113.3h0.9v0.9h-0.9zM43.7 121.8h0.9v0.9h-0.9zM35.2 117.8h0.9v0.9h-0.9zM37.8 122.7h0.9v0.9h-0.9zM36.6 123.4h0.9v0.9h-0.9zM41.0 117.0h0.9v0.9h-0.9zM42.2 112.9h0.9v0.9h-0.9zM42.0 113.4h0.9v0.9h-0.9zM47.9 122.2h0.9v0.9h-0.9zM42.3 119.1h0.9v0.9h-0.9zM38.1 114.8h0.9v0.9h-0.9zM39.2 125.4h0.9v0.9h-0.9zM44.8 117.9h0.9v0.9h-0.9zM40.1 111.8h0.9v0.9h-0.9zM42.1 109.4h0.9v0.9h-0.9zM42.4 117.1h0.9v0.9h-0.9zM39.6 118.3h0.9v0.9h-0.9zM39.4 115.3h0.9v0.9h-0.9zM39.7 127.1h0.9v0.9h-0.9zM38.2 118.3h0.9v0.9h-0.9zM39.4 114.3h0.9v0.9h-0.9zM44.3 116.5h0.9v0.9h-0.9zM40.3 127.2h0.9v0.9h-0.9zM37.9 116.2h0.9v0.9h-0.9zM37.8 117.6h0.9v0.9h-0.9zM39.2 124.7h0.9v0.9h-0.9zM45.6 123.2h0.9v0.9h-0.9zM39.0 118.7h0.9v0.9h-0.9zM45.1 112.8h0.9v0.9h-0.9zM41.8 112.0h0.9v0.9h-0.9zM42.2 124.5h0.9v0.9h-0.9zM41.5 128.3h0.9v0.9h-0.9zM41.1 121.3h0.9v0.9h-0.9zM46.2 112.6h0.9v0.9h-0.9zM44.5 109.9h0.9v0.9h-0.9zM40.3 115.1h0.9v0.9h-0.9zM45.9 111.5h0.9v0.9h-0.9zM45.4 110.3h0.9v0.9h-0.9zM42.2 121.6h0.9v0.9h-0.9zM42.0 128.1h0.9v0.9h-0.9zM42.2 110.4h0.9v0.9h-0.9zM41.4 122.6h0.9v0.9h-0.9zM47.2 111.3h0.9v0.9h-0.9zM44.8 119.8h0.9v0.9h-0.9zM39.8 113.3h0.9v0.9h-0.9zM43.2 114.7h0.9v0.9h-0.9zM44.3 118.5h0.9v0.9h-0.9zM41.2 126.3h0.9v0.9h-0.9zM41.7 110.8h0.9v0.9h-0.9zM40.6 114.9h0.9v0.9h-0.9zM46.4 120.9h0.9v0.9h-0.9zM40.1 114.0h0.9v0.9h-0.9zM42.0 117.5h0.9v0.9h-0.9zM47.3 114.1h0.9v0.9h-0.9zM39.7 115.5h0.9v0.9h-0.9zM40.7 122.2h0.9v0.9h-0.9zM42.1 114.7h0.9v0.9h-0.9zM41.2 113.2h0.9v0.9h-0.9zM41.4 116.9h0.9v0.9h-0.9zM46.4 112.2h0.9v0.9h-0.9zM45.4 117.5h0.9v0.9h-0.9zM39.4 126.9h0.9v0.9h-0.9zM43.0 111.3h0.9v0.9h-0.9zM40.9 115.0h0.9v0.9h-0.9zM38.9 118.1h0.9v0.9h-0.9zM41.8 124.3h0.9v0.9h-0.9zM45.2 122.8h0.9v0.9h-0.9zM39.8 124.5h0.9v0.9h-0.9zM42.2 111.9h0.9v0.9h-0.9zM43.8 118.8h0.9v0.9h-0.9zM40.7 119.9h0.9v0.9h-0.9zM40.1 117.5h0.9v0.9h-0.9zM42.7 120.6h0.9v0.9h-0.9zM40.8 119.4h0.9v0.9h-0.9zM44.0 112.5h0.9v0.9h-0.9zM44.8 113.0h0.9v0.9h-0.9zM45.2 118.4h0.9v0.9h-0.9zM42.7 110.5h0.9v0.9h-0.9zM39.9 118.5h0.9v0.9h-0.9zM42.6 116.6h0.9v0.9h-0.9zM41.1 124.3h0.9v0.9h-0.9zM40.1 120.2h0.9v0.9h-0.9zM44.3 119.5h0.9v0.9h-0.9zM42.4 111.4h0.9v0.9h-0.9zM46.4 124.6h0.9v0.9h-0.9zM39.6 113.2h0.9v0.9h-0.9zM39.3 110.2h0.9v0.9h-0.9zM41.7 112.5h0.9v0.9h-0.9zM42.1 119.7h0.9v0.9h-0.9zM40.0 111.2h0.9v0.9h-0.9zM44.3 122.0h0.9v0.9h-0.9zM41.4 112.9h0.9v0.9h-0.9zM43.1 118.7h0.9v0.9h-0.9zM44.4 118.3h0.9v0.9h-0.9zM40.3 113.5h0.9v0.9h-0.9zM42.3 109.9h0.9v0.9h-0.9zM39.8 121.8h0.9v0.9h-0.9zM44.1 120.3h0.9v0.9h-0.9zM45.6 115.9h0.9v0.9h-0.9zM40.3 118.0h0.9v0.9h-0.9zM44.3 112.5h0.9v0.9h-0.9zM47.0 123.7h0.9v0.9h-0.9zM38.6 113.2h0.9v0.9h-0.9zM43.8 119.2h0.9v0.9h-0.9zM44.9 119.6h0.9v0.9h-0.9zM41.6 114.9h0.9v0.9h-0.9zM43.1 119.9h0.9v0.9h-0.9zM40.1 115.9h0.9v0.9h-0.9zM42.1 115.3h0.9v0.9h-0.9zM39.0 120.0h0.9v0.9h-0.9zM37.9 117.4h0.9v0.9h-0.9zM39.9 117.5h0.9v0.9h-0.9zM45.6 128.7h0.9v0.9h-0.9zM43.9 116.4h0.9v0.9h-0.9zM38.9 116.2h0.9v0.9h-0.9zM42.8 109.4h0.9v0.9h-0.9zM40.4 119.2h0.9v0.9h-0.9zM42.8 115.3h0.9v0.9h-0.9zM39.2 118.8h0.9v0.9h-0.9zM39.3 127.6h0.9v0.9h-0.9zM41.4 114.8h0.9v0.9h-0.9zM45.0 112.8h0.9v0.9h-0.9zM40.5 120.7h0.9v0.9h-0.9zM38.2 119.1h0.9v0.9h-0.9zM40.1 111.2h0.9v0.9h-0.9zM41.9 116.7h0.9v0.9h-0.9zM41.8 119.6h0.9v0.9h-0.9zM39.3 122.8h0.9v0.9h-0.9zM46.5 109.8h0.9v0.9h-0.9zM40.5 117.1h0.9v0.9h-0.9zM38.2 119.0h0.9v0.9h-0.9zM41.5 116.0h0.9v0.9h-0.9zM43.4 115.2h0.9v0.9h-0.9zM40.6 120.2h0.9v0.9h-0.9zM42.3 120.4h0.9v0.9h-0.9zM45.0 112.1h0.9v0.9h-0.9zM42.8 123.6h0.9v0.9h-0.9zM42.3 117.5h0.9v0.9h-0.9zM43.2 120.2h0.9v0.9h-0.9zM42.5 115.0h0.9v0.9h-0.9zM43.0 114.6h0.9v0.9h-0.9zM42.4 116.5h0.9v0.9h-0.9zM36.5 116.6h0.9v0.9h-0.9zM42.9 119.5h0.9v0.9h-0.9zM41.8 112.6h0.9v0.9h-0.9zM42.6 122.3h0.9v0.9h-0.9zM45.4 126.4h0.9v0.9h-0.9zM38.8 120.6h0.9v0.9h-0.9zM41.6 114.7h0.9v0.9h-0.9zM43.4 120.8h0.9v0.9h-0.9zM42.4 124.8h0.9v0.9h-0.9zM46.8 115.8h0.9v0.9h-0.9zM44.3 125.1h0.9v0.9h-0.9zM41.3 115.3h0.9v0.9h-0.9zM42.5 114.8h0.9v0.9h-0.9zM43.7 122.5h0.9v0.9h-0.9zM41.1 121.4h0.9v0.9h-0.9zM41.6 127.7h0.9v0.9h-0.9zM43.7 125.3h0.9v0.9h-0.9zM44.2 114.1h0.9v0.9h-0.9zM40.8 120.2h0.9v0.9h-0.9zM39.5 123.9h0.9v0.9h-0.9zM41.6 128.3h0.9v0.9h-0.9zM39.8 112.0h0.9v0.9h-0.9zM44.9 116.5h0.9v0.9h-0.9zM38.1 125.1h0.9v0.9h-0.9zM42.6 117.7h0.9v0.9h-0.9zM40.2 119.0h0.9v0.9h-0.9zM42.6 115.2h0.9v0.9h-0.9zM41.6 120.5h0.9v0.9h-0.9zM39.7 125.6h0.9v0.9h-0.9zM41.9 114.6h0.9v0.9h-0.9zM42.7 111.4h0.9v0.9h-0.9zM43.6 124.3h0.9v0.9h-0.9zM37.6 117.0h0.9v0.9h-0.9zM42.5 113.6h0.9v0.9h-0.9zM38.5 112.1h0.9v0.9h-0.9zM38.1 120.2h0.9v0.9h-0.9zM38.5 118.6h0.9v0.9h-0.9zM40.7 124.5h0.9v0.9h-0.9zM40.7 120.0h0.9v0.9h-0.9zM42.9 114.8h0.9v0.9h-0.9zM40.2 121.2h0.9v0.9h-0.9zM41.2 111.6h0.9v0.9h-0.9zM42.3 121.5h0.9v0.9h-0.9zM41.2 123.7h0.9v0.9h-0.9zM39.3 123.7h0.9v0.9h-0.9zM39.0 116.1h0.9v0.9h-0.9zM41.8 118.8h0.9v0.9h-0.9zM45.8 122.8h0.9v0.9h-0.9zM44.6 114.7h0.9v0.9h-0.9zM44.2 121.7h0.9v0.9h-0.9zM37.4 117.4h0.9v0.9h-0.9zM40.2 123.6h0.9v0.9h-0.9zM40.3 127.0h0.9v0.9h-0.9zM44.8 119.9h0.9v0.9h-0.9zM42.4 115.7h0.9v0.9h-0.9zM40.5 117.7h0.9v0.9h-0.9zM37.9 123.0h0.9v0.9h-0.9zM47.1 124.8h0.9v0.9h-0.9zM42.0 126.4h0.9v0.9h-0.9zM42.8 124.6h0.9v0.9h-0.9zM40.4 121.7h0.9v0.9h-0.9zM43.3 116.1h0.9v0.9h-0.9zM39.5 120.3h0.9v0.9h-0.9zM44.6 121.1h0.9v0.9h-0.9zM44.4 124.0h0.9v0.9h-0.9zM44.5 120.2h0.9v0.9h-0.9zM48.2 123.0h0.9v0.9h-0.9zM44.4 115.4h0.9v0.9h-0.9zM40.6 113.1h0.9v0.9h-0.9zM39.6 115.1h0.9v0.9h-0.9zM42.7 114.7h0.9v0.9h-0.9zM40.6 112.3h0.9v0.9h-0.9zM46.8 122.9h0.9v0.9h-0.9zM43.0 112.2h0.9v0.9h-0.9zM41.8 119.9h0.9v0.9h-0.9zM42.0 120.5h0.9v0.9h-0.9zM39.5 116.1h0.9v0.9h-0.9zM44.9 119.4h0.9v0.9h-0.9zM42.4 121.5h0.9v0.9h-0.9zM38.0 118.9h0.9v0.9h-0.9zM44.2 121.4h0.9v0.9h-0.9zM41.8 124.0h0.9v0.9h-0.9zM42.0 120.1h0.9v0.9h-0.9zM42.4 116.3h0.9v0.9h-0.9zM40.7 118.8h0.9v0.9h-0.9zM45.0 112.2h0.9v0.9h-0.9zM43.9 115.4h0.9v0.9h-0.9zM41.2 115.0h0.9v0.9h-0.9zM44.2 116.8h0.9v0.9h-0.9zM37.3 116.4h0.9v0.9h-0.9zM43.4 119.6h0.9v0.9h-0.9zM36.1 125.1h0.9v0.9h-0.9zM39.0 110.9h0.9v0.9h-0.9zM39.2 119.4h0.9v0.9h-0.9zM36.5 113.7h0.9v0.9h-0.9zM36.0 118.3h0.9v0.9h-0.9zM31.7 115.0h0.9v0.9h-0.9zM39.2 118.9h0.9v0.9h-0.9zM35.4 122.3h0.9v0.9h-0.9zM37.1 114.0h0.9v0.9h-0.9zM31.3 116.7h0.9v0.9h-0.9zM46.6 112.2h0.9v0.9h-0.9zM32.7 125.8h0.9v0.9h-0.9zM33.4 113.4h0.9v0.9h-0.9zM42.3 119.5h0.9v0.9h-0.9zM42.7 120.2h0.9v0.9h-0.9zM39.9 117.5h0.9v0.9h-0.9zM39.2 110.4h0.9v0.9h-0.9zM35.6 109.5h0.9v0.9h-0.9zM36.3 122.6h0.9v0.9h-0.9zM39.8 121.5h0.9v0.9h-0.9zM38.3 119.9h0.9v0.9h-0.9zM36.3 113.2h0.9v0.9h-0.9zM35.8 112.3h0.9v0.9h-0.9zM30.8 125.4h0.9v0.9h-0.9zM28.9 123.9h0.9v0.9h-0.9zM37.1 128.1h0.9v0.9h-0.9zM37.5 117.1h0.9v0.9h-0.9zM36.9 128.3h0.9v0.9h-0.9zM42.9 114.1h0.9v0.9h-0.9zM33.3 113.1h0.9v0.9h-0.9zM40.2 110.1h0.9v0.9h-0.9zM40.2 119.8h0.9v0.9h-0.9zM39.1 121.8h0.9v0.9h-0.9zM44.9 114.5h0.9v0.9h-0.9zM39.6 124.3h0.9v0.9h-0.9zM38.3 116.4h0.9v0.9h-0.9zM37.2 122.9h0.9v0.9h-0.9zM38.2 125.3h0.9v0.9h-0.9zM33.5 117.8h0.9v0.9h-0.9zM42.1 109.8h0.9v0.9h-0.9zM41.1 116.8h0.9v0.9h-0.9zM41.7 113.6h0.9v0.9h-0.9zM40.9 116.0h0.9v0.9h-0.9zM38.0 113.5h0.9v0.9h-0.9zM42.2 118.7h0.9v0.9h-0.9zM41.9 112.7h0.9v0.9h-0.9zM36.6 123.0h0.9v0.9h-0.9zM45.4 130.0h0.9v0.9h-0.9zM41.5 124.3h0.9v0.9h-0.9zM40.9 112.1h0.9v0.9h-0.9zM32.1 117.1h0.9v0.9h-0.9zM39.3 121.8h0.9v0.9h-0.9zM45.8 109.8h0.9v0.9h-0.9zM34.1 113.9h0.9v0.9h-0.9zM40.3 115.1h0.9v0.9h-0.9zM33.2 121.0h0.9v0.9h-0.9zM36.8 112.9h0.9v0.9h-0.9zM43.1 123.6h0.9v0.9h-0.9zM35.5 118.7h0.9v0.9h-0.9zM36.1 114.6h0.9v0.9h-0.9zM35.3 116.2h0.9v0.9h-0.9zM34.8 119.8h0.9v0.9h-0.9zM40.9 116.4h0.9v0.9h-0.9zM31.8 123.3h0.9v0.9h-0.9zM35.8 128.0h0.9v0.9h-0.9zM40.9 117.6h0.9v0.9h-0.9zM44.4 111.5h0.9v0.9h-0.9zM38.3 122.2h0.9v0.9h-0.9zM38.6 117.9h0.9v0.9h-0.9zM33.6 126.0h0.9v0.9h-0.9zM35.6 124.1h0.9v0.9h-0.9zM38.1 116.0h0.9v0.9h-0.9zM37.7 120.4h0.9v0.9h-0.9zM36.3 113.8h0.9v0.9h-0.9zM36.5 113.1h0.9v0.9h-0.9zM41.0 117.1h0.9v0.9h-0.9zM40.4 113.8h0.9v0.9h-0.9zM43.2 121.3h0.9v0.9h-0.9zM39.8 116.9h0.9v0.9h-0.9zM38.5 124.3h0.9v0.9h-0.9zM41.1 114.7h0.9v0.9h-0.9zM35.8 114.0h0.9v0.9h-0.9zM41.4 125.9h0.9v0.9h-0.9zM33.5 115.7h0.9v0.9h-0.9zM38.2 111.1h0.9v0.9h-0.9zM43.7 112.5h0.9v0.9h-0.9zM39.6 116.9h0.9v0.9h-0.9zM37.1 112.5h0.9v0.9h-0.9zM33.1 122.7h0.9v0.9h-0.9zM40.7 120.9h0.9v0.9h-0.9zM35.5 112.6h0.9v0.9h-0.9zM37.3 112.3h0.9v0.9h-0.9zM36.7 110.4h0.9v0.9h-0.9zM45.5 110.3h0.9v0.9h-0.9zM41.9 110.0h0.9v0.9h-0.9zM44.0 111.9h0.9v0.9h-0.9zM42.5 121.3h0.9v0.9h-0.9zM42.5 116.4h0.9v0.9h-0.9zM45.4 113.0h0.9v0.9h-0.9zM35.1 114.1h0.9v0.9h-0.9zM31.0 110.4h0.9v0.9h-0.9zM35.7 125.2h0.9v0.9h-0.9zM43.8 112.5h0.9v0.9h-0.9zM33.5 114.6h0.9v0.9h-0.9zM44.4 112.8h0.9v0.9h-0.9zM37.4 128.3h0.9v0.9h-0.9zM37.6 113.0h0.9v0.9h-0.9zM31.1 116.0h0.9v0.9h-0.9zM34.3 130.5h0.9v0.9h-0.9zM35.6 115.0h0.9v0.9h-0.9zM34.2 116.2h0.9v0.9h-0.9zM38.0 126.7h0.9v0.9h-0.9zM33.2 112.4h0.9v0.9h-0.9zM35.5 118.4h0.9v0.9h-0.9zM37.2 114.3h0.9v0.9h-0.9zM39.8 113.6h0.9v0.9h-0.9zM32.7 115.5h0.9v0.9h-0.9zM39.1 129.4h0.9v0.9h-0.9zM38.6 111.7h0.9v0.9h-0.9zM38.9 120.7h0.9v0.9h-0.9zM38.3 130.8h0.9v0.9h-0.9zM38.0 123.1h0.9v0.9h-0.9zM39.0 110.3h0.9v0.9h-0.9zM38.9 119.5h0.9v0.9h-0.9zM29.1 122.2h0.9v0.9h-0.9zM39.9 122.0h0.9v0.9h-0.9zM40.0 118.3h0.9v0.9h-0.9zM39.0 119.7h0.9v0.9h-0.9zM35.0 117.6h0.9v0.9h-0.9zM30.7 118.4h0.9v0.9h-0.9zM34.0 112.5h0.9v0.9h-0.9zM41.4 112.5h0.9v0.9h-0.9zM37.2 111.2h0.9v0.9h-0.9zM38.1 121.4h0.9v0.9h-0.9zM43.5 122.4h0.9v0.9h-0.9zM33.0 124.1h0.9v0.9h-0.9zM38.3 118.3h0.9v0.9h-0.9zM37.8 112.7h0.9v0.9h-0.9zM37.2 127.3h0.9v0.9h-0.9zM38.7 122.1h0.9v0.9h-0.9zM37.0 130.3h0.9v0.9h-0.9zM33.0 128.2h0.9v0.9h-0.9zM32.6 117.5h0.9v0.9h-0.9zM34.6 112.4h0.9v0.9h-0.9zM31.1 114.5h0.9v0.9h-0.9zM32.2 112.2h0.9v0.9h-0.9zM31.9 127.3h0.9v0.9h-0.9zM32.0 123.0h0.9v0.9h-0.9zM29.5 129.2h0.9v0.9h-0.9zM34.8 130.7h0.9v0.9h-0.9zM28.6 126.4h0.9v0.9h-0.9zM35.6 113.9h0.9v0.9h-0.9zM34.0 114.4h0.9v0.9h-0.9zM35.1 112.8h0.9v0.9h-0.9zM35.5 130.7h0.9v0.9h-0.9zM27.1 118.0h0.9v0.9h-0.9zM28.7 125.6h0.9v0.9h-0.9zM31.7 111.7h0.9v0.9h-0.9zM29.3 128.3h0.9v0.9h-0.9zM29.4 130.6h0.9v0.9h-0.9zM30.5 123.4h0.9v0.9h-0.9zM32.4 117.8h0.9v0.9h-0.9zM28.4 116.4h0.9v0.9h-0.9zM33.2 120.7h0.9v0.9h-0.9zM32.5 110.7h0.9v0.9h-0.9zM33.2 119.3h0.9v0.9h-0.9zM35.9 125.5h0.9v0.9h-0.9zM32.9 120.0h0.9v0.9h-0.9zM30.8 121.4h0.9v0.9h-0.9zM30.8 129.5h0.9v0.9h-0.9zM33.3 114.8h0.9v0.9h-0.9zM32.9 113.2h0.9v0.9h-0.9zM33.2 125.1h0.9v0.9h-0.9zM35.1 123.8h0.9v0.9h-0.9zM32.8 122.6h0.9v0.9h-0.9zM32.3 125.8h0.9v0.9h-0.9zM28.1 113.4h0.9v0.9h-0.9zM29.9 112.4h0.9v0.9h-0.9zM32.8 109.7h0.9v0.9h-0.9zM28.9 124.7h0.9v0.9h-0.9zM29.7 113.9h0.9v0.9h-0.9zM34.4 117.3h0.9v0.9h-0.9zM35.2 117.3h0.9v0.9h-0.9zM26.8 110.4h0.9v0.9h-0.9zM31.8 121.1h0.9v0.9h-0.9zM32.5 114.1h0.9v0.9h-0.9zM29.2 119.1h0.9v0.9h-0.9zM30.8 117.3h0.9v0.9h-0.9zM32.4 127.3h0.9v0.9h-0.9zM29.2 111.3h0.9v0.9h-0.9zM34.0 129.3h0.9v0.9h-0.9zM29.1 127.4h0.9v0.9h-0.9zM30.6 113.9h0.9v0.9h-0.9zM34.5 118.4h0.9v0.9h-0.9zM30.8 115.7h0.9v0.9h-0.9zM32.5 121.4h0.9v0.9h-0.9zM28.2 122.0h0.9v0.9h-0.9zM29.6 121.9h0.9v0.9h-0.9zM31.3 121.1h0.9v0.9h-0.9zM34.6 122.5h0.9v0.9h-0.9zM31.1 127.3h0.9v0.9h-0.9z" fill="#000" fill-opacity="1"/>
<path d="M110.7 116.1h0.9v0.9h-0.9zM107.1 110.5h0.9v0.9h-0.9zM107.0 122.1h0.9v0.9h-0.9zM105.8 118.3h0.9v0.9h-0.9zM106.8 113.0h0.9v0.9h-0.9zM107.8 119.6h0.9v0.9h-0.9zM104.8 127.5h0.9v0.9h-0.9zM107.1 122.8h0.9v0.9h-0.9zM110.9 116.3h0.9v0.9h-0.9zM106.0 109.8h0.9v0.9h-0.9zM106.0 121.2h0.9v0.9h-0.9zM112.4 121.9h0.9v0.9h-0.9zM107.0 112.3h0.9v0.9h-0.9zM103.2 119.5h0.9v0.9h-0.9zM107.2 114.1h0.9v0.9h-0.9zM106.0 114.7h0.9v0.9h-0.9zM108.0 122.3h0.9v0.9h-0.9zM105.2 116.5h0.9v0.9h-0.9zM103.6 116.5h0.9v0.9h-0.9zM111.7 118.8h0.9v0.9h-0.9zM108.5 122.0h0.9v0.9h-0.9zM110.0 117.2h0.9v0.9h-0.9zM104.4 124.4h0.9v0.9h-0.9zM108.7 115.4h0.9v0.9h-0.9zM109.1 118.8h0.9v0.9h-0.9zM106.4 128.6h0.9v0.9h-0.9zM107.8 120.6h0.9v0.9h-0.9zM105.7 120.0h0.9v0.9h-0.9zM109.0 121.3h0.9v0.9h-0.9zM104.7 121.3h0.9v0.9h-0.9zM106.2 120.5h0.9v0.9h-0.9zM102.7 116.9h0.9v0.9h-0.9zM101.3 111.0h0.9v0.9h-0.9zM111.3 122.6h0.9v0.9h-0.9zM105.4 120.6h0.9v0.9h-0.9zM101.2 120.2h0.9v0.9h-0.9zM108.8 119.9h0.9v0.9h-0.9zM103.4 124.0h0.9v0.9h-0.9zM105.2 115.9h0.9v0.9h-0.9zM107.0 117.3h0.9v0.9h-0.9zM111.3 118.2h0.9v0.9h-0.9zM111.6 121.3h0.9v0.9h-0.9zM103.6 118.9h0.9v0.9h-0.9zM106.6 126.5h0.9v0.9h-0.9zM104.9 116.6h0.9v0.9h-0.9zM112.0 114.2h0.9v0.9h-0.9zM107.3 127.4h0.9v0.9h-0.9zM104.1 117.1h0.9v0.9h-0.9zM104.7 121.7h0.9v0.9h-0.9zM107.5 118.7h0.9v0.9h-0.9zM108.1 114.8h0.9v0.9h-0.9zM105.6 121.4h0.9v0.9h-0.9zM111.3 118.7h0.9v0.9h-0.9zM106.6 125.8h0.9v0.9h-0.9zM106.7 125.8h0.9v0.9h-0.9zM107.1 125.0h0.9v0.9h-0.9zM106.9 114.1h0.9v0.9h-0.9zM104.5 121.2h0.9v0.9h-0.9zM111.0 128.8h0.9v0.9h-0.9zM103.8 114.4h0.9v0.9h-0.9zM108.7 110.9h0.9v0.9h-0.9zM108.7 120.9h0.9v0.9h-0.9zM108.0 112.5h0.9v0.9h-0.9zM107.4 123.9h0.9v0.9h-0.9zM106.4 124.3h0.9v0.9h-0.9zM106.6 120.7h0.9v0.9h-0.9zM105.7 111.7h0.9v0.9h-0.9zM106.1 121.6h0.9v0.9h-0.9zM102.8 125.9h0.9v0.9h-0.9zM106.0 114.9h0.9v0.9h-0.9zM109.5 118.0h0.9v0.9h-0.9zM102.9 116.6h0.9v0.9h-0.9zM104.4 117.9h0.9v0.9h-0.9zM104.3 119.3h0.9v0.9h-0.9zM107.6 115.9h0.9v0.9h-0.9zM106.0 118.1h0.9v0.9h-0.9zM108.5 115.1h0.9v0.9h-0.9zM108.3 125.5h0.9v0.9h-0.9zM106.0 113.8h0.9v0.9h-0.9zM105.8 109.5h0.9v0.9h-0.9zM105.2 112.6h0.9v0.9h-0.9zM106.1 116.9h0.9v0.9h-0.9zM107.7 119.5h0.9v0.9h-0.9zM107.5 118.7h0.9v0.9h-0.9zM107.2 112.9h0.9v0.9h-0.9zM108.1 125.8h0.9v0.9h-0.9zM109.2 111.8h0.9v0.9h-0.9zM107.5 110.3h0.9v0.9h-0.9zM108.3 117.8h0.9v0.9h-0.9zM105.4 115.0h0.9v0.9h-0.9zM105.9 118.9h0.9v0.9h-0.9zM104.2 119.2h0.9v0.9h-0.9zM107.1 121.7h0.9v0.9h-0.9zM106.4 118.9h0.9v0.9h-0.9zM112.0 124.3h0.9v0.9h-0.9zM107.3 111.6h0.9v0.9h-0.9zM108.0 122.0h0.9v0.9h-0.9zM100.1 118.1h0.9v0.9h-0.9zM107.4 119.1h0.9v0.9h-0.9zM106.7 118.1h0.9v0.9h-0.9zM109.8 120.9h0.9v0.9h-0.9zM105.8 117.7h0.9v0.9h-0.9zM111.5 114.3h0.9v0.9h-0.9zM105.2 120.7h0.9v0.9h-0.9zM106.9 120.5h0.9v0.9h-0.9zM109.8 125.0h0.9v0.9h-0.9zM107.5 119.2h0.9v0.9h-0.9zM106.4 117.7h0.9v0.9h-0.9zM108.9 112.2h0.9v0.9h-0.9zM104.0 116.5h0.9v0.9h-0.9zM104.2 115.0h0.9v0.9h-0.9zM107.9 112.0h0.9v0.9h-0.9zM105.9 115.9h0.9v0.9h-0.9zM104.1 111.0h0.9v0.9h-0.9zM101.4 116.9h0.9v0.9h-0.9zM109.1 128.8h0.9v0.9h-0.9zM105.8 114.7h0.9v0.9h-0.9zM105.8 121.4h0.9v0.9h-0.9zM108.7 113.9h0.9v0.9h-0.9zM107.6 118.8h0.9v0.9h-0.9zM109.2 116.8h0.9v0.9h-0.9zM106.0 114.4h0.9v0.9h-0.9zM103.3 120.4h0.9v0.9h-0.9zM108.2 124.9h0.9v0.9h-0.9zM107.1 116.5h0.9v0.9h-0.9zM104.3 112.8h0.9v0.9h-0.9zM104.8 120.7h0.9v0.9h-0.9zM106.3 117.4h0.9v0.9h-0.9zM104.0 118.8h0.9v0.9h-0.9zM107.8 113.4h0.9v0.9h-0.9zM103.3 117.2h0.9v0.9h-0.9zM107.1 117.6h0.9v0.9h-0.9zM110.2 119.7h0.9v0.9h-0.9zM104.1 123.1h0.9v0.9h-0.9zM104.9 122.6h0.9v0.9h-0.9zM106.7 125.5h0.9v0.9h-0.9zM104.1 122.8h0.9v0.9h-0.9zM107.5 114.1h0.9v0.9h-0.9zM107.4 114.9h0.9v0.9h-0.9zM106.1 125.9h0.9v0.9h-0.9zM107.1 126.8h0.9v0.9h-0.9zM104.9 125.9h0.9v0.9h-0.9zM102.7 118.1h0.9v0.9h-0.9zM105.8 116.3h0.9v0.9h-0.9zM109.4 115.7h0.9v0.9h-0.9zM107.3 128.9h0.9v0.9h-0.9zM108.5 116.7h0.9v0.9h-0.9zM107.4 123.7h0.9v0.9h-0.9zM109.2 120.2h0.9v0.9h-0.9zM111.7 123.1h0.9v0.9h-0.9zM101.0 114.2h0.9v0.9h-0.9zM108.4 116.8h0.9v0.9h-0.9zM104.7 130.8h0.9v0.9h-0.9zM106.3 111.1h0.9v0.9h-0.9zM106.7 123.8h0.9v0.9h-0.9zM105.1 127.4h0.9v0.9h-0.9zM104.4 117.9h0.9v0.9h-0.9zM108.7 117.8h0.9v0.9h-0.9zM105.2 118.9h0.9v0.9h-0.9zM108.1 128.2h0.9v0.9h-0.9zM109.8 129.0h0.9v0.9h-0.9zM106.4 110.1h0.9v0.9h-0.9zM106.4 116.8h0.9v0.9h-0.9zM104.1 116.2h0.9v0.9h-0.9zM106.3 119.2h0.9v0.9h-0.9zM108.7 114.1h0.9v0.9h-0.9zM109.3 119.2h0.9v0.9h-0.9zM108.3 125.6h0.9v0.9h-0.9zM103.5 127.5h0.9v0.9h-0.9zM104.8 121.1h0.9v0.9h-0.9zM109.1 123.9h0.9v0.9h-0.9zM102.7 119.8h0.9v0.9h-0.9zM109.2 118.3h0.9v0.9h-0.9zM106.3 119.4h0.9v0.9h-0.9zM110.4 116.1h0.9v0.9h-0.9zM104.2 113.0h0.9v0.9h-0.9zM105.2 117.7h0.9v0.9h-0.9zM107.3 118.5h0.9v0.9h-0.9zM102.4 110.5h0.9v0.9h-0.9zM108.1 122.9h0.9v0.9h-0.9zM103.2 124.0h0.9v0.9h-0.9zM107.9 110.1h0.9v0.9h-0.9zM107.7 118.8h0.9v0.9h-0.9zM105.4 117.0h0.9v0.9h-0.9zM106.0 118.4h0.9v0.9h-0.9zM104.3 115.9h0.9v0.9h-0.9zM107.8 121.8h0.9v0.9h-0.9zM103.3 116.3h0.9v0.9h-0.9zM110.3 122.8h0.9v0.9h-0.9zM110.5 111.7h0.9v0.9h-0.9zM101.8 117.0h0.9v0.9h-0.9zM104.0 113.1h0.9v0.9h-0.9zM104.8 118.0h0.9v0.9h-0.9zM108.5 122.0h0.9v0.9h-0.9zM102.3 127.0h0.9v0.9h-0.9zM105.7 113.6h0.9v0.9h-0.9zM106.4 116.8h0.9v0.9h-0.9zM103.2 127.4h0.9v0.9h-0.9zM105.1 115.7h0.9v0.9h-0.9zM107.8 128.0h0.9v0.9h-0.9zM107.7 114.1h0.9v0.9h-0.9zM107.6 125.0h0.9v0.9h-0.9zM107.4 122.5h0.9v0.9h-0.9zM105.3 118.6h0.9v0.9h-0.9zM102.5 115.1h0.9v0.9h-0.9zM103.8 119.0h0.9v0.9h-0.9zM103.3 114.0h0.9v0.9h-0.9zM106.3 125.3h0.9v0.9h-0.9zM104.6 114.8h0.9v0.9h-0.9zM109.4 121.0h0.9v0.9h-0.9zM107.8 123.5h0.9v0.9h-0.9zM104.7 120.2h0.9v0.9h-0.9zM104.9 115.1h0.9v0.9h-0.9zM106.8 121.3h0.9v0.9h-0.9zM103.4 114.8h0.9v0.9h-0.9zM108.0 119.9h0.9v0.9h-0.9zM108.1 117.3h0.9v0.9h-0.9zM104.6 123.2h0.9v0.9h-0.9zM108.6 114.9h0.9v0.9h-0.9zM108.1 127.5h0.9v0.9h-0.9zM105.8 113.7h0.9v0.9h-0.9zM107.1 119.5h0.9v0.9h-0.9zM107.9 111.4h0.9v0.9h-0.9zM107.1 123.8h0.9v0.9h-0.9zM108.2 122.4h0.9v0.9h-0.9zM109.4 114.5h0.9v0.9h-0.9zM109.4 120.1h0.9v0.9h-0.9zM104.1 117.4h0.9v0.9h-0.9zM107.2 120.8h0.9v0.9h-0.9zM109.8 120.0h0.9v0.9h-0.9zM105.7 114.5h0.9v0.9h-0.9zM108.7 116.7h0.9v0.9h-0.9zM104.6 113.2h0.9v0.9h-0.9zM109.4 113.2h0.9v0.9h-0.9zM106.7 116.5h0.9v0.9h-0.9zM106.0 114.6h0.9v0.9h-0.9zM106.9 122.3h0.9v0.9h-0.9zM109.0 117.1h0.9v0.9h-0.9zM103.7 111.0h0.9v0.9h-0.9zM109.7 119.2h0.9v0.9h-0.9zM106.8 111.4h0.9v0.9h-0.9zM105.0 115.0h0.9v0.9h-0.9zM108.1 116.8h0.9v0.9h-0.9zM108.0 121.8h0.9v0.9h-0.9zM101.9 117.7h0.9v0.9h-0.9zM109.5 116.2h0.9v0.9h-0.9zM106.8 118.3h0.9v0.9h-0.9zM106.2 122.5h0.9v0.9h-0.9zM105.4 126.6h0.9v0.9h-0.9zM109.3 125.4h0.9v0.9h-0.9zM108.8 122.8h0.9v0.9h-0.9zM109.8 121.2h0.9v0.9h-0.9zM106.8 123.4h0.9v0.9h-0.9zM108.5 119.8h0.9v0.9h-0.9zM104.8 117.5h0.9v0.9h-0.9zM104.2 114.4h0.9v0.9h-0.9zM107.0 119.7h0.9v0.9h-0.9zM108.5 118.5h0.9v0.9h-0.9zM108.0 122.7h0.9v0.9h-0.9zM104.8 109.8h0.9v0.9h-0.9zM104.9 117.6h0.9v0.9h-0.9zM104.9 121.6h0.9v0.9h-0.9zM104.7 122.7h0.9v0.9h-0.9zM103.5 124.2h0.9v0.9h-0.9zM107.0 116.8h0.9v0.9h-0.9zM103.7 128.0h0.9v0.9h-0.9zM105.1 126.8h0.9v0.9h-0.9zM100.7 112.5h0.9v0.9h-0.9zM110.9 128.7h0.9v0.9h-0.9zM106.6 124.4h0.9v0.9h-0.9zM108.0 117.1h0.9v0.9h-0.9zM106.8 112.8h0.9v0.9h-0.9zM103.3 119.7h0.9v0.9h-0.9zM108.3 119.9h0.9v0.9h-0.9zM103.6 123.6h0.9v0.9h-0.9zM106.7 123.1h0.9v0.9h-0.9zM105.8 117.6h0.9v0.9h-0.9zM109.0 126.4h0.9v0.9h-0.9zM103.6 113.0h0.9v0.9h-0.9zM108.8 120.9h0.9v0.9h-0.9zM106.7 113.7h0.9v0.9h-0.9zM109.0 120.0h0.9v0.9h-0.9zM107.0 121.1h0.9v0.9h-0.9zM105.3 121.2h0.9v0.9h-0.9zM106.8 122.9h0.9v0.9h-0.9zM107.4 112.1h0.9v0.9h-0.9zM104.8 117.5h0.9v0.9h-0.9zM109.3 115.5h0.9v0.9h-0.9zM109.2 124.8h0.9v0.9h-0.9zM106.5 120.7h0.9v0.9h-0.9zM109.5 121.2h0.9v0.9h-0.9zM108.9 118.3h0.9v0.9h-0.9zM109.9 120.9h0.9v0.9h-0.9zM101.9 124.9h0.9v0.9h-0.9zM106.1 114.2h0.9v0.9h-0.9zM105.8 117.5h0.9v0.9h-0.9zM109.3 120.8h0.9v0.9h-0.9zM106.4 118.9h0.9v0.9h-0.9zM104.4 115.5h0.9v0.9h-0.9zM105.4 117.8h0.9v0.9h-0.9zM103.7 116.8h0.9v0.9h-0.9zM108.9 121.5h0.9v0.9h-0.9zM106.5 120.9h0.9v0.9h-0.9zM106.0 112.6h0.9v0.9h-0.9zM107.8 122.7h0.9v0.9h-0.9zM112.4 112.4h0.9v0.9h-0.9zM107.8 117.1h0.9v0.9h-0.9zM105.9 110.0h0.9v0.9h-0.9zM106.3 121.2h0.9v0.9h-0.9zM102.7 117.8h0.9v0.9h-0.9zM105.4 113.6h0.9v0.9h-0.9zM108.0 127.9h0.9v0.9h-0.9zM107.5 124.6h0.9v0.9h-0.9zM108.4 118.7h0.9v0.9h-0.9zM107.9 126.2h0.9v0.9h-0.9zM105.5 118.2h0.9v0.9h-0.9zM104.6 123.9h0.9v0.9h-0.9zM107.4 120.4h0.9v0.9h-0.9zM109.8 119.5h0.9v0.9h-0.9zM108.4 126.5h0.9v0.9h-0.9zM104.6 114.3h0.9v0.9h-0.9zM107.5 118.7h0.9v0.9h-0.9zM105.1 118.3h0.9v0.9h-0.9zM104.8 119.7h0.9v0.9h-0.9zM105.6 128.2h0.9v0.9h-0.9zM104.0 122.1h0.9v0.9h-0.9zM106.7 127.6h0.9v0.9h-0.9zM104.2 116.5h0.9v0.9h-0.9zM110.7 115.4h0.9v0.9h-0.9zM105.6 116.9h0.9v0.9h-0.9zM104.2 125.6h0.9v0.9h-0.9zM110.1 118.2h0.9v0.9h-0.9zM104.7 111.7h0.9v0.9h-0.9zM108.1 116.1h0.9v0.9h-0.9zM105.5 122.4h0.9v0.9h-0.9zM107.2 119.7h0.9v0.9h-0.9zM106.5 117.1h0.9v0.9h-0.9zM105.5 119.8h0.9v0.9h-0.9zM106.5 124.0h0.9v0.9h-0.9zM106.0 125.6h0.9v0.9h-0.9zM104.3 129.4h0.9v0.9h-0.9zM108.8 116.8h0.9v0.9h-0.9zM110.3 112.5h0.9v0.9h-0.9zM106.3 121.6h0.9v0.9h-0.9zM109.0 119.4h0.9v0.9h-0.9zM103.4 125.6h0.9v0.9h-0.9zM106.1 121.4h0.9v0.9h-0.9zM105.8 118.4h0.9v0.9h-0.9zM103.3 122.6h0.9v0.9h-0.9zM107.5 118.8h0.9v0.9h-0.9zM108.8 123.4h0.9v0.9h-0.9zM103.6 118.0h0.9v0.9h-0.9zM106.5 119.5h0.9v0.9h-0.9zM104.0 119.4h0.9v0.9h-0.9zM108.9 125.7h0.9v0.9h-0.9zM110.0 123.1h0.9v0.9h-0.9zM100.5 117.5h0.9v0.9h-0.9zM110.2 123.9h0.9v0.9h-0.9zM106.5 121.0h0.9v0.9h-0.9zM107.7 117.8h0.9v0.9h-0.9zM109.8 128.9h0.9v0.9h-0.9zM108.5 116.0h0.9v0.9h-0.9zM107.1 124.3h0.9v0.9h-0.9zM108.2 115.3h0.9v0.9h-0.9zM108.8 122.9h0.9v0.9h-0.9zM107.9 116.7h0.9v0.9h-0.9zM106.5 116.6h0.9v0.9h-0.9zM105.8 117.5h0.9v0.9h-0.9zM105.8 119.5h0.9v0.9h-0.9zM106.8 115.7h0.9v0.9h-0.9zM106.2 118.5h0.9v0.9h-0.9zM107.7 121.4h0.9v0.9h-0.9zM105.7 114.5h0.9v0.9h-0.9zM102.6 112.2h0.9v0.9h-0.9zM107.5 114.0h0.9v0.9h-0.9zM110.3 118.1h0.9v0.9h-0.9zM105.6 118.1h0.9v0.9h-0.9zM105.2 115.6h0.9v0.9h-0.9zM106.7 111.2h0.9v0.9h-0.9zM106.8 118.5h0.9v0.9h-0.9zM104.4 124.6h0.9v0.9h-0.9zM107.4 124.9h0.9v0.9h-0.9zM104.9 112.3h0.9v0.9h-0.9zM103.7 110.5h0.9v0.9h-0.9zM102.0 127.5h0.9v0.9h-0.9zM105.4 120.0h0.9v0.9h-0.9zM105.3 118.2h0.9v0.9h-0.9zM110.3 109.6h0.9v0.9h-0.9zM104.2 119.7h0.9v0.9h-0.9zM104.4 122.8h0.9v0.9h-0.9zM109.6 123.8h0.9v0.9h-0.9zM108.3 118.1h0.9v0.9h-0.9zM108.9 114.7h0.9v0.9h-0.9zM103.7 117.6h0.9v0.9h-0.9zM105.9 125.6h0.9v0.9h-0.9zM104.2 125.2h0.9v0.9h-0.9zM104.7 112.2h0.9v0.9h-0.9zM102.5 118.8h0.9v0.9h-0.9zM103.1 120.2h0.9v0.9h-0.9zM106.6 116.8h0.9v0.9h-0.9zM102.0 116.2h0.9v0.9h-0.9zM108.2 119.1h0.9v0.9h-0.9zM105.2 120.1h0.9v0.9h-0.9zM108.1 118.9h0.9v0.9h-0.9zM104.7 123.3h0.9v0.9h-0.9zM104.9 121.0h0.9v0.9h-0.9zM108.8 126.1h0.9v0.9h-0.9zM110.3 124.5h0.9v0.9h-0.9zM106.9 117.9h0.9v0.9h-0.9zM107.0 121.9h0.9v0.9h-0.9zM104.6 127.2h0.9v0.9h-0.9zM102.7 124.4h0.9v0.9h-0.9zM103.5 113.1h0.9v0.9h-0.9zM105.3 117.5h0.9v0.9h-0.9zM103.3 122.4h0.9v0.9h-0.9zM106.2 126.3h0.9v0.9h-0.9zM108.1 117.8h0.9v0.9h-0.9zM103.6 119.5h0.9v0.9h-0.9zM111.1 112.3h0.9v0.9h-0.9zM102.0 116.5h0.9v0.9h-0.9zM109.9 127.6h0.9v0.9h-0.9zM103.3 115.7h0.9v0.9h-0.9zM102.1 114.4h0.9v0.9h-0.9zM104.2 121.3h0.9v0.9h-0.9zM105.7 123.4h0.9v0.9h-0.9zM107.0 119.7h0.9v0.9h-0.9zM111.1 122.8h0.9v0.9h-0.9zM110.2 120.6h0.9v0.9h-0.9zM108.6 121.8h0.9v0.9h-0.9zM106.3 115.2h0.9v0.9h-0.9zM105.6 119.1h0.9v0.9h-0.9zM105.6 117.2h0.9v0.9h-0.9zM104.8 123.7h0.9v0.9h-0.9zM105.9 118.4h0.9v0.9h-0.9zM106.0 126.1h0.9v0.9h-0.9zM105.2 126.6h0.9v0.9h-0.9zM104.5 127.3h0.9v0.9h-0.9zM108.0 116.4h0.9v0.9h-0.9zM107.6 125.2h0.9v0.9h-0.9zM104.3 117.8h0.9v0.9h-0.9zM107.3 117.9h0.9v0.9h-0.9zM105.8 119.1h0.9v0.9h-0.9zM107.3 123.2h0.9v0.9h-0.9zM110.0 117.3h0.9v0.9h-0.9zM110.7 118.3h0.9v0.9h-0.9zM103.1 116.7h0.9v0.9h-0.9zM105.7 124.8h0.9v0.9h-0.9zM101.7 115.6h0.9v0.9h-0.9zM106.2 122.6h0.9v0.9h-0.9zM107.4 123.6h0.9v0.9h-0.9zM106.1 117.7h0.9v0.9h-0.9zM109.4 128.3h0.9v0.9h-0.9zM107.4 119.9h0.9v0.9h-0.9zM104.5 130.4h0.9v0.9h-0.9zM107.5 122.4h0.9v0.9h-0.9zM102.7 122.3h0.9v0.9h-0.9zM112.3 118.1h0.9v0.9h-0.9zM106.0 127.3h0.9v0.9h-0.9zM106.1 123.6h0.9v0.9h-0.9zM111.1 112.7h0.9v0.9h-0.9zM104.5 122.7h0.9v0.9h-0.9zM106.8 119.2h0.9v0.9h-0.9zM106.1 119.7h0.9v0.9h-0.9zM107.4 116.4h0.9v0.9h-0.9zM105.9 120.3h0.9v0.9h-0.9zM103.9 121.4h0.9v0.9h-0.9zM101.3 122.5h0.9v0.9h-0.9zM106.2 112.7h0.9v0.9h-0.9zM109.7 112.7h0.9v0.9h-0.9zM111.4 115.1h0.9v0.9h-0.9zM109.4 118.7h0.9v0.9h-0.9zM110.3 117.8h0.9v0.9h-0.9zM109.0 117.3h0.9v0.9h-0.9zM102.1 121.1h0.9v0.9h-0.9zM107.6 121.2h0.9v0.9h-0.9zM110.5 115.1h0.9v0.9h-0.9zM103.1 120.4h0.9v0.9h-0.9zM104.9 118.5h0.9v0.9h-0.9zM106.5 114.6h0.9v0.9h-0.9zM109.1 118.4h0.9v0.9h-0.9zM110.8 120.4h0.9v0.9h-0.9zM109.0 117.5h0.9v0.9h-0.9zM104.9 116.2h0.9v0.9h-0.9zM104.4 121.4h0.9v0.9h-0.9zM106.8 113.2h0.9v0.9h-0.9zM102.9 114.4h0.9v0.9h-0.9zM102.2 114.3h0.9v0.9h-0.9zM102.9 122.8h0.9v0.9h-0.9zM103.8 115.9h0.9v0.9h-0.9zM106.2 119.2h0.9v0.9h-0.9zM107.5 123.1h0.9v0.9h-0.9zM108.0 117.2h0.9v0.9h-0.9zM109.5 121.0h0.9v0.9h-0.9zM104.8 127.1h0.9v0.9h-0.9zM103.7 121.6h0.9v0.9h-0.9zM109.5 119.6h0.9v0.9h-0.9zM107.3 119.7h0.9v0.9h-0.9zM108.1 120.2h0.9v0.9h-0.9zM106.5 122.8h0.9v0.9h-0.9zM102.0 120.4h0.9v0.9h-0.9zM105.8 129.5h0.9v0.9h-0.9zM107.2 115.5h0.9v0.9h-0.9zM108.1 117.0h0.9v0.9h-0.9zM103.7 117.5h0.9v0.9h-0.9zM107.7 125.4h0.9v0.9h-0.9zM109.0 120.3h0.9v0.9h-0.9zM106.1 120.1h0.9v0.9h-0.9zM109.4 118.4h0.9v0.9h-0.9zM109.3 114.8h0.9v0.9h-0.9zM106.5 123.2h0.9v0.9h-0.9zM108.2 120.1h0.9v0.9h-0.9zM105.5 114.5h0.9v0.9h-0.9zM105.6 127.5h0.9v0.9h-0.9zM104.7 123.6h0.9v0.9h-0.9zM106.5 113.1h0.9v0.9h-0.9zM106.8 123.0h0.9v0.9h-0.9zM103.7 112.8h0.9v0.9h-0.9zM105.6 122.9h0.9v0.9h-0.9zM105.1 121.3h0.9v0.9h-0.9zM107.6 119.1h0.9v0.9h-0.9zM107.6 125.8h0.9v0.9h-0.9zM106.1 120.8h0.9v0.9h-0.9zM104.0 115.2h0.9v0.9h-0.9zM106.3 123.4h0.9v0.9h-0.9zM104.9 111.6h0.9v0.9h-0.9zM100.4 113.4h0.9v0.9h-0.9zM106.8 121.6h0.9v0.9h-0.9zM104.3 120.8h0.9v0.9h-0.9zM109.1 117.6h0.9v0.9h-0.9zM108.2 119.7h0.9v0.9h-0.9zM104.3 115.8h0.9v0.9h-0.9zM105.1 126.1h0.9v0.9h-0.9zM109.3 120.3h0.9v0.9h-0.9zM102.8 116.4h0.9v0.9h-0.9zM106.5 120.5h0.9v0.9h-0.9zM103.4 116.8h0.9v0.9h-0.9zM105.4 128.8h0.9v0.9h-0.9zM108.1 123.1h0.9v0.9h-0.9zM106.7 112.2h0.9v0.9h-0.9zM108.7 115.4h0.9v0.9h-0.9zM101.9 122.9h0.9v0.9h-0.9zM105.7 119.0h0.9v0.9h-0.9zM107.7 117.8h0.9v0.9h-0.9zM107.5 125.9h0.9v0.9h-0.9zM105.7 117.1h0.9v0.9h-0.9zM106.5 122.4h0.9v0.9h-0.9zM105.6 119.5h0.9v0.9h-0.9zM104.9 118.6h0.9v0.9h-0.9zM107.8 114.7h0.9v0.9h-0.9zM106.1 111.3h0.9v0.9h-0.9zM104.8 119.4h0.9v0.9h-0.9zM107.8 113.6h0.9v0.9h-0.9zM106.3 114.1h0.9v0.9h-0.9zM107.3 120.4h0.9v0.9h-0.9zM107.6 117.9h0.9v0.9h-0.9zM103.1 116.1h0.9v0.9h-0.9zM103.3 115.4h0.9v0.9h-0.9zM106.4 124.7h0.9v0.9h-0.9zM105.0 114.9h0.9v0.9h-0.9zM111.2 110.9h0.9v0.9h-0.9zM108.9 124.2h0.9v0.9h-0.9zM108.8 118.5h0.9v0.9h-0.9zM108.2 117.2h0.9v0.9h-0.9zM108.8 115.6h0.9v0.9h-0.9zM104.6 121.0h0.9v0.9h-0.9zM105.4 122.6h0.9v0.9h-0.9zM104.5 120.4h0.9v0.9h-0.9zM104.2 118.5h0.9v0.9h-0.9zM111.6 113.3h0.9v0.9h-0.9zM103.6 110.6h0.9v0.9h-0.9zM106.0 127.5h0.9v0.9h-0.9zM105.4 123.9h0.9v0.9h-0.9zM106.1 115.7h0.9v0.9h-0.9zM111.3 124.7h0.9v0.9h-0.9zM102.2 113.9h0.9v0.9h-0.9zM107.5 122.4h0.9v0.9h-0.9zM106.0 120.7h0.9v0.9h-0.9zM107.8 117.2h0.9v0.9h-0.9zM108.9 114.6h0.9v0.9h-0.9zM108.3 123.8h0.9v0.9h-0.9zM107.0 117.2h0.9v0.9h-0.9zM107.1 111.5h0.9v0.9h-0.9zM101.7 123.0h0.9v0.9h-0.9zM104.3 120.9h0.9v0.9h-0.9zM106.6 109.8h0.9v0.9h-0.9zM104.4 117.6h0.9v0.9h-0.9zM107.6 119.4h0.9v0.9h-0.9zM103.5 116.2h0.9v0.9h-0.9zM106.8 112.3h0.9v0.9h-0.9zM105.5 116.1h0.9v0.9h-0.9zM101.5 128.0h0.9v0.9h-0.9zM108.6 116.6h0.9v0.9h-0.9zM108.7 113.5h0.9v0.9h-0.9zM110.1 117.1h0.9v0.9h-0.9zM106.8 116.0h0.9v0.9h-0.9zM106.7 120.7h0.9v0.9h-0.9zM106.6 114.7h0.9v0.9h-0.9zM108.3 121.9h0.9v0.9h-0.9zM106.5 124.5h0.9v0.9h-0.9zM104.8 125.7h0.9v0.9h-0.9zM106.1 126.9h0.9v0.9h-0.9zM105.5 117.7h0.9v0.9h-0.9zM107.0 124.7h0.9v0.9h-0.9zM109.9 116.6h0.9v0.9h-0.9zM104.8 123.0h0.9v0.9h-0.9zM109.4 122.7h0.9v0.9h-0.9zM105.7 125.7h0.9v0.9h-0.9zM106.4 119.9h0.9v0.9h-0.9zM108.0 116.0h0.9v0.9h-0.9zM101.2 120.2h0.9v0.9h-0.9zM108.2 121.3h0.9v0.9h-0.9zM107.8 119.9h0.9v0.9h-0.9zM109.0 119.6h0.9v0.9h-0.9zM110.0 119.3h0.9v0.9h-0.9zM108.4 116.1h0.9v0.9h-0.9zM107.2 121.2h0.9v0.9h-0.9zM106.8 127.1h0.9v0.9h-0.9zM106.6 124.9h0.9v0.9h-0.9zM107.3 124.7h0.9v0.9h-0.9zM104.4 117.1h0.9v0.9h-0.9zM108.8 114.7h0.9v0.9h-0.9zM107.4 122.0h0.9v0.9h-0.9zM107.0 121.3h0.9v0.9h-0.9zM107.8 117.8h0.9v0.9h-0.9zM107.5 116.3h0.9v0.9h-0.9zM105.4 110.7h0.9v0.9h-0.9zM106.3 110.1h0.9v0.9h-0.9zM106.6 120.1h0.9v0.9h-0.9zM103.9 119.4h0.9v0.9h-0.9zM107.2 117.2h0.9v0.9h-0.9zM104.3 118.4h0.9v0.9h-0.9zM107.5 123.8h0.9v0.9h-0.9zM107.3 121.3h0.9v0.9h-0.9zM105.0 120.7h0.9v0.9h-0.9zM111.5 119.6h0.9v0.9h-0.9zM109.7 124.6h0.9v0.9h-0.9zM109.2 127.1h0.9v0.9h-0.9zM102.3 118.0h0.9v0.9h-0.9zM104.9 120.1h0.9v0.9h-0.9zM106.6 125.0h0.9v0.9h-0.9zM105.1 129.1h0.9v0.9h-0.9zM102.5 120.1h0.9v0.9h-0.9zM108.0 116.5h0.9v0.9h-0.9zM107.0 122.8h0.9v0.9h-0.9zM101.7 116.5h0.9v0.9h-0.9zM106.0 110.7h0.9v0.9h-0.9zM103.3 121.1h0.9v0.9h-0.9zM109.2 125.1h0.9v0.9h-0.9zM104.9 121.7h0.9v0.9h-0.9zM102.3 111.3h0.9v0.9h-0.9zM103.6 116.7h0.9v0.9h-0.9zM96.0 112.9h0.9v0.9h-0.9zM100.2 119.4h0.9v0.9h-0.9zM105.4 118.6h0.9v0.9h-0.9zM107.4 118.8h0.9v0.9h-0.9zM101.7 121.6h0.9v0.9h-0.9zM103.0 110.3h0.9v0.9h-0.9zM99.2 117.6h0.9v0.9h-0.9zM103.0 111.9h0.9v0.9h-0.9zM99.9 114.7h0.9v0.9h-0.9zM103.0 116.5h0.9v0.9h-0.9zM103.8 121.3h0.9v0.9h-0.9zM99.3 117.3h0.9v0.9h-0.9zM98.3 119.6h0.9v0.9h-0.9zM104.4 113.3h0.9v0.9h-0.9zM96.7 122.0h0.9v0.9h-0.9zM101.1 118.8h0.9v0.9h-0.9zM103.4 121.2h0.9v0.9h-0.9zM104.8 116.3h0.9v0.9h-0.9zM95.5 116.2h0.9v0.9h-0.9zM101.1 116.6h0.9v0.9h-0.9zM103.2 117.6h0.9v0.9h-0.9zM105.9 115.3h0.9v0.9h-0.9zM102.0 116.9h0.9v0.9h-0.9zM108.3 113.4h0.9v0.9h-0.9zM99.0 116.8h0.9v0.9h-0.9zM104.3 119.1h0.9v0.9h-0.9zM101.5 110.5h0.9v0.9h-0.9zM95.8 117.8h0.9v0.9h-0.9zM101.3 129.3h0.9v0.9h-0.9zM103.1 121.5h0.9v0.9h-0.9zM104.9 113.8h0.9v0.9h-0.9zM98.3 116.9h0.9v0.9h-0.9zM106.4 124.8h0.9v0.9h-0.9zM100.3 111.7h0.9v0.9h-0.9zM104.8 125.4h0.9v0.9h-0.9zM98.7 128.4h0.9v0.9h-0.9zM99.7 123.4h0.9v0.9h-0.9zM101.4 117.1h0.9v0.9h-0.9zM100.2 123.1h0.9v0.9h-0.9zM103.8 123.7h0.9v0.9h-0.9zM101.2 114.0h0.9v0.9h-0.9zM108.4 129.0h0.9v0.9h-0.9zM101.4 112.3h0.9v0.9h-0.9zM106.5 119.8h0.9v0.9h-0.9zM102.2 124.0h0.9v0.9h-0.9zM103.0 119.7h0.9v0.9h-0.9zM103.9 113.2h0.9v0.9h-0.9zM102.2 118.0h0.9v0.9h-0.9zM100.8 124.3h0.9v0.9h-0.9zM103.9 120.7h0.9v0.9h-0.9zM100.5 122.7h0.9v0.9h-0.9zM102.8 127.5h0.9v0.9h-0.9zM104.5 114.8h0.9v0.9h-0.9zM93.3 127.9h0.9v0.9h-0.9zM103.5 120.0h0.9v0.9h-0.9zM106.0 119.6h0.9v0.9h-0.9zM100.9 122.4h0.9v0.9h-0.9zM106.1 122.1h0.9v0.9h-0.9zM104.8 120.5h0.9v0.9h-0.9zM96.5 113.1h0.9v0.9h-0.9zM100.7 123.5h0.9v0.9h-0.9zM100.7 111.4h0.9v0.9h-0.9zM99.5 113.1h0.9v0.9h-0.9zM100.9 110.1h0.9v0.9h-0.9zM100.5 119.6h0.9v0.9h-0.9zM97.1 128.5h0.9v0.9h-0.9zM98.9 112.0h0.9v0.9h-0.9zM97.6 129.7h0.9v0.9h-0.9zM96.8 118.3h0.9v0.9h-0.9zM93.6 109.6h0.9v0.9h-0.9zM98.2 126.7h0.9v0.9h-0.9zM95.4 118.3h0.9v0.9h-0.9zM100.0 128.7h0.9v0.9h-0.9zM92.4 119.9h0.9v0.9h-0.9zM95.6 119.4h0.9v0.9h-0.9zM99.9 124.3h0.9v0.9h-0.9zM96.4 126.6h0.9v0.9h-0.9zM96.0 109.8h0.9v0.9h-0.9zM100.6 114.2h0.9v0.9h-0.9zM99.6 115.4h0.9v0.9h-0.9zM96.7 122.1h0.9v0.9h-0.9zM100.5 109.9h0.9v0.9h-0.9zM99.8 128.8h0.9v0.9h-0.9zM99.9 116.3h0.9v0.9h-0.9zM100.9 123.8h0.9v0.9h-0.9zM100.6 112.0h0.9v0.9h-0.9zM97.5 109.9h0.9v0.9h-0.9zM92.2 131.0h0.9v0.9h-0.9zM97.4 121.2h0.9v0.9h-0.9zM100.3 121.8h0.9v0.9h-0.9zM94.9 125.8h0.9v0.9h-0.9zM94.1 113.9h0.9v0.9h-0.9zM100.1 116.3h0.9v0.9h-0.9zM99.9 124.8h0.9v0.9h-0.9zM99.4 129.6h0.9v0.9h-0.9zM99.0 118.3h0.9v0.9h-0.9zM96.8 115.2h0.9v0.9h-0.9zM96.4 113.7h0.9v0.9h-0.9zM96.3 129.7h0.9v0.9h-0.9zM97.3 110.8h0.9v0.9h-0.9zM95.0 120.9h0.9v0.9h-0.9zM97.3 119.8h0.9v0.9h-0.9zM100.4 124.6h0.9v0.9h-0.9zM98.1 126.0h0.9v0.9h-0.9z" fill="#000" fill-opacity="1"/>
<path d="M170.6 113.6h0.9v0.9h-0.9zM173.8 122.8h0.9v0.9h-0.9zM174.0 129.0h0.9v0.9h-0.9zM169.2 122.6h0.9v0.9h-0.9zM173.3 125.5h0.9v0.9h-0.9zM167.1 116.5h0.9v0.9h-0.9zM166.2 128.6h0.9v0.9h-0.9zM167.7 125.7h0.9v0.9h-0.9zM166.2 128.2h0.9v0.9h-0.9zM168.5 122.0h0.9v0.9h-0.9zM167.1 111.5h0.9v0.9h-0.9zM170.9 121.1h0.9v0.9h-0.9zM168.5 128.3h0.9v0.9h-0.9zM171.2 121.5h0.9v0.9h-0.9zM173.7 116.1h0.9v0.9h-0.9zM169.3 111.4h0.9v0.9h-0.9zM172.2 115.8h0.9v0.9h-0.9zM171.8 120.4h0.9v0.9h-0.9zM168.0 115.9h0.9v0.9h-0.9zM166.6 126.7h0.9v0.9h-0.9zM169.2 123.7h0.9v0.9h-0.9zM175.1 109.8h0.9v0.9h-0.9zM170.8 120.6h0.9v0.9h-0.9zM170.8 127.1h0.9v0.9h-0.9zM169.4 128.4h0.9v0.9h-0.9zM167.9 109.6h0.9v0.9h-0.9zM164.4 117.4h0.9v0.9h-0.9zM169.9 128.2h0.9v0.9h-0.9zM166.0 115.2h0.9v0.9h-0.9zM172.8 112.6h0.9v0.9h-0.9zM171.2 120.4h0.9v0.9h-0.9zM168.3 113.2h0.9v0.9h-0.9zM169.3 115.6h0.9v0.9h-0.9zM171.6 123.5h0.9v0.9h-0.9zM172.5 112.0h0.9v0.9h-0.9zM171.2 128.0h0.9v0.9h-0.9zM176.2 128.8h0.9v0.9h-0.9zM168.6 129.7h0.9v0.9h-0.9zM173.9 110.7h0.9v0.9h-0.9zM169.2 129.9h0.9v0.9h-0.9zM168.7 112.1h0.9v0.9h-0.9zM165.4 111.4h0.9v0.9h-0.9zM175.3 126.0h0.9v0.9h-0.9zM169.7 116.1h0.9v0.9h-0.9zM169.1 120.8h0.9v0.9h-0.9zM175.5 117.5h0.9v0.9h-0.9zM172.6 123.2h0.9v0.9h-0.9zM166.8 130.4h0.9v0.9h-0.9zM166.3 111.9h0.9v0.9h-0.9zM172.6 119.3h0.9v0.9h-0.9zM167.2 122.8h0.9v0.9h-0.9zM169.2 119.0h0.9v0.9h-0.9zM169.9 113.9h0.9v0.9h-0.9zM170.3 113.2h0.9v0.9h-0.9zM170.0 125.3h0.9v0.9h-0.9zM167.7 130.4h0.9v0.9h-0.9zM164.1 113.7h0.9v0.9h-0.9zM165.2 127.3h0.9v0.9h-0.9zM173.5 114.3h0.9v0.9h-0.9zM167.4 115.6h0.9v0.9h-0.9zM169.1 114.7h0.9v0.9h-0.9zM171.6 124.7h0.9v0.9h-0.9zM165.6 116.7h0.9v0.9h-0.9zM170.3 121.8h0.9v0.9h-0.9zM162.5 128.7h0.9v0.9h-0.9zM166.4 119.4h0.9v0.9h-0.9zM172.1 118.7h0.9v0.9h-0.9zM170.0 119.5h0.9v0.9h-0.9zM168.1 109.4h0.9v0.9h-0.9zM170.1 114.9h0.9v0.9h-0.9zM170.8 128.0h0.9v0.9h-0.9zM168.8 121.7h0.9v0.9h-0.9zM171.9 119.6h0.9v0.9h-0.9zM170.3 120.6h0.9v0.9h-0.9zM168.5 118.3h0.9v0.9h-0.9zM169.0 122.3h0.9v0.9h-0.9zM170.9 122.2h0.9v0.9h-0.9zM173.1 129.1h0.9v0.9h-0.9zM166.8 128.2h0.9v0.9h-0.9zM167.1 125.2h0.9v0.9h-0.9zM168.7 118.9h0.9v0.9h-0.9zM166.7 121.0h0.9v0.9h-0.9zM166.0 124.8h0.9v0.9h-0.9zM167.4 117.4h0.9v0.9h-0.9zM167.7 116.7h0.9v0.9h-0.9zM166.8 118.6h0.9v0.9h-0.9zM168.4 117.3h0.9v0.9h-0.9zM173.6 127.9h0.9v0.9h-0.9zM167.3 113.4h0.9v0.9h-0.9zM166.5 122.8h0.9v0.9h-0.9zM169.1 123.3h0.9v0.9h-0.9zM169.8 116.9h0.9v0.9h-0.9zM164.8 120.3h0.9v0.9h-0.9zM164.5 123.2h0.9v0.9h-0.9zM166.4 123.1h0.9v0.9h-0.9zM173.8 112.0h0.9v0.9h-0.9zM166.2 128.1h0.9v0.9h-0.9zM169.7 123.9h0.9v0.9h-0.9zM171.0 120.8h0.9v0.9h-0.9zM169.5 110.6h0.9v0.9h-0.9zM169.8 121.9h0.9v0.9h-0.9zM171.6 130.5h0.9v0.9h-0.9zM168.7 120.5h0.9v0.9h-0.9zM172.3 114.0h0.9v0.9h-0.9zM174.9 114.6h0.9v0.9h-0.9zM175.7 124.9h0.9v0.9h-0.9zM175.8 116.9h0.9v0.9h-0.9zM174.7 128.2h0.9v0.9h-0.9zM172.1 111.2h0.9v0.9h-0.9zM166.7 130.2h0.9v0.9h-0.9zM169.1 118.6h0.9v0.9h-0.9zM169.7 121.5h0.9v0.9h-0.9zM171.1 114.3h0.9v0.9h-0.9zM168.0 128.0h0.9v0.9h-0.9zM171.2 116.3h0.9v0.9h-0.9zM165.1 129.1h0.9v0.9h-0.9zM168.0 121.4h0.9v0.9h-0.9zM171.3 114.2h0.9v0.9h-0.9zM168.7 111.4h0.9v0.9h-0.9zM172.0 126.7h0.9v0.9h-0.9zM165.9 109.3h0.9v0.9h-0.9zM169.5 112.6h0.9v0.9h-0.9zM170.8 124.0h0.9v0.9h-0.9zM174.3 112.8h0.9v0.9h-0.9zM169.0 127.9h0.9v0.9h-0.9zM170.7 112.4h0.9v0.9h-0.9zM171.3 113.5h0.9v0.9h-0.9zM171.4 129.9h0.9v0.9h-0.9zM165.6 117.2h0.9v0.9h-0.9zM172.6 110.8h0.9v0.9h-0.9zM171.3 111.1h0.9v0.9h-0.9zM167.6 112.9h0.9v0.9h-0.9zM169.2 113.1h0.9v0.9h-0.9zM167.5 124.4h0.9v0.9h-0.9zM170.0 115.9h0.9v0.9h-0.9zM169.5 116.4h0.9v0.9h-0.9zM174.8 111.1h0.9v0.9h-0.9zM169.4 117.4h0.9v0.9h-0.9zM168.7 129.7h0.9v0.9h-0.9zM168.4 122.3h0.9v0.9h-0.9zM167.9 113.5h0.9v0.9h-0.9zM170.0 127.2h0.9v0.9h-0.9zM169.4 126.6h0.9v0.9h-0.9zM173.1 113.5h0.9v0.9h-0.9zM171.4 111.2h0.9v0.9h-0.9zM170.9 127.1h0.9v0.9h-0.9zM167.5 112.3h0.9v0.9h-0.9zM169.5 120.1h0.9v0.9h-0.9zM168.7 124.2h0.9v0.9h-0.9zM168.2 111.8h0.9v0.9h-0.9zM170.7 110.9h0.9v0.9h-0.9zM167.5 120.6h0.9v0.9h-0.9zM175.8 128.5h0.9v0.9h-0.9zM165.2 124.7h0.9v0.9h-0.9zM169.2 116.3h0.9v0.9h-0.9zM166.5 119.2h0.9v0.9h-0.9zM168.6 118.7h0.9v0.9h-0.9zM174.4 127.3h0.9v0.9h-0.9zM169.2 127.5h0.9v0.9h-0.9zM171.4 115.7h0.9v0.9h-0.9zM170.5 119.8h0.9v0.9h-0.9zM168.8 125.5h0.9v0.9h-0.9zM162.9 125.8h0.9v0.9h-0.9zM172.7 115.6h0.9v0.9h-0.9zM170.7 116.2h0.9v0.9h-0.9zM172.6 127.7h0.9v0.9h-0.9zM167.4 125.7h0.9v0.9h-0.9zM166.3 124.7h0.9v0.9h-0.9zM169.1 129.5h0.9v0.9h-0.9zM165.7 112.4h0.9v0.9h-0.9zM167.0 125.6h0.9v0.9h-0.9zM168.7 111.9h0.9v0.9h-0.9zM170.8 121.6h0.9v0.9h-0.9zM168.1 128.3h0.9v0.9h-0.9zM170.8 130.2h0.9v0.9h-0.9zM173.1 119.5h0.9v0.9h-0.9zM171.2 116.3h0.9v0.9h-0.9zM171.1 129.3h0.9v0.9h-0.9zM172.9 127.1h0.9v0.9h-0.9zM168.4 119.8h0.9v0.9h-0.9zM166.0 110.5h0.9v0.9h-0.9zM171.3 130.4h0.9v0.9h-0.9zM169.0 110.6h0.9v0.9h-0.9zM168.7 129.9h0.9v0.9h-0.9zM168.0 113.5h0.9v0.9h-0.9zM165.5 113.6h0.9v0.9h-0.9zM167.8 119.0h0.9v0.9h-0.9zM170.4 117.6h0.9v0.9h-0.9zM167.4 110.5h0.9v0.9h-0.9zM167.8 117.7h0.9v0.9h-0.9zM169.4 124.9h0.9v0.9h-0.9zM171.8 123.9h0.9v0.9h-0.9zM171.3 111.8h0.9v0.9h-0.9zM175.5 124.1h0.9v0.9h-0.9zM170.1 110.6h0.9v0.9h-0.9zM170.8 127.0h0.9v0.9h-0.9zM172.9 124.4h0.9v0.9h-0.9zM170.7 129.2h0.9v0.9h-0.9zM168.3 124.4h0.9v0.9h-0.9zM171.2 118.4h0.9v0.9h-0.9zM172.4 129.2h0.9v0.9h-0.9zM168.3 109.6h0.9v0.9h-0.9zM165.9 128.0h0.9v0.9h-0.9zM169.5 119.3h0.9v0.9h-0.9zM175.4 111.5h0.9v0.9h-0.9zM169.2 123.9h0.9v0.9h-0.9zM170.5 112.8h0.9v0.9h-0.9zM173.2 127.3h0.9v0.9h-0.9zM175.1 112.3h0.9v0.9h-0.9zM173.7 129.0h0.9v0.9h-0.9zM170.9 120.6h0.9v0.9h-0.9zM171.4 121.9h0.9v0.9h-0.9zM168.5 130.4h0.9v0.9h-0.9zM170.3 121.3h0.9v0.9h-0.9zM167.4 130.4h0.9v0.9h-0.9zM167.4 124.5h0.9v0.9h-0.9zM169.9 127.9h0.9v0.9h-0.9zM175.7 121.1h0.9v0.9h-0.9zM169.1 125.1h0.9v0.9h-0.9zM172.3 124.6h0.9v0.9h-0.9zM174.4 124.4h0.9v0.9h-0.9zM170.8 111.3h0.9v0.9h-0.9zM170.1 113.9h0.9v0.9h-0.9zM170.0 125.5h0.9v0.9h-0.9zM164.9 117.1h0.9v0.9h-0.9zM170.8 129.2h0.9v0.9h-0.9zM171.3 118.6h0.9v0.9h-0.9zM169.0 114.8h0.9v0.9h-0.9zM163.8 125.0h0.9v0.9h-0.9zM167.2 116.1h0.9v0.9h-0.9zM168.2 120.9h0.9v0.9h-0.9zM172.8 120.5h0.9v0.9h-0.9zM174.2 126.5h0.9v0.9h-0.9zM171.3 125.8h0.9v0.9h-0.9zM170.7 125.2h0.9v0.9h-0.9zM164.3 126.4h0.9v0.9h-0.9zM164.8 118.3h0.9v0.9h-0.9zM167.0 114.0h0.9v0.9h-0.9zM169.9 117.3h0.9v0.9h-0.9zM167.4 125.9h0.9v0.9h-0.9zM173.7 121.8h0.9v0.9h-0.9zM163.5 109.7h0.9v0.9h-0.9zM169.1 123.0h0.9v0.9h-0.9zM163.3 127.3h0.9v0.9h-0.9zM162.1 110.0h0.9v0.9h-0.9zM171.1 118.3h0.9v0.9h-0.9zM174.3 115.5h0.9v0.9h-0.9zM169.2 123.4h0.9v0.9h-0.9zM169.0 122.3h0.9v0.9h-0.9zM169.4 116.2h0.9v0.9h-0.9zM173.8 122.7h0.9v0.9h-0.9zM169.2 113.8h0.9v0.9h-0.9zM168.4 110.4h0.9v0.9h-0.9zM176.0 128.1h0.9v0.9h-0.9zM166.3 130.4h0.9v0.9h-0.9zM166.2 125.0h0.9v0.9h-0.9zM168.0 120.6h0.9v0.9h-0.9zM172.6 129.3h0.9v0.9h-0.9zM168.8 113.5h0.9v0.9h-0.9zM164.7 120.7h0.9v0.9h-0.9zM172.0 128.8h0.9v0.9h-0.9zM172.7 122.4h0.9v0.9h-0.9zM171.3 111.9h0.9v0.9h-0.9zM171.4 120.6h0.9v0.9h-0.9zM165.4 119.2h0.9v0.9h-0.9zM175.0 112.6h0.9v0.9h-0.9zM167.0 119.6h0.9v0.9h-0.9zM168.1 110.3h0.9v0.9h-0.9zM166.8 117.7h0.9v0.9h-0.9zM169.2 117.3h0.9v0.9h-0.9zM171.1 123.1h0.9v0.9h-0.9zM165.0 120.2h0.9v0.9h-0.9zM171.6 119.9h0.9v0.9h-0.9zM169.1 112.6h0.9v0.9h-0.9zM173.3 123.4h0.9v0.9h-0.9zM169.4 122.7h0.9v0.9h-0.9zM166.7 125.5h0.9v0.9h-0.9zM169.5 121.6h0.9v0.9h-0.9zM171.1 122.5h0.9v0.9h-0.9zM174.8 127.2h0.9v0.9h-0.9zM167.8 126.7h0.9v0.9h-0.9zM169.6 121.8h0.9v0.9h-0.9zM172.0 127.6h0.9v0.9h-0.9zM165.7 115.0h0.9v0.9h-0.9zM169.9 109.6h0.9v0.9h-0.9zM171.2 111.6h0.9v0.9h-0.9zM174.6 125.9h0.9v0.9h-0.9zM174.1 111.1h0.9v0.9h-0.9zM164.3 126.2h0.9v0.9h-0.9zM166.4 124.9h0.9v0.9h-0.9zM170.1 111.3h0.9v0.9h-0.9zM164.8 110.1h0.9v0.9h-0.9zM168.6 129.3h0.9v0.9h-0.9zM172.7 120.4h0.9v0.9h-0.9zM168.5 121.0h0.9v0.9h-0.9zM169.0 127.4h0.9v0.9h-0.9zM172.4 120.3h0.9v0.9h-0.9zM171.6 113.2h0.9v0.9h-0.9zM168.5 118.4h0.9v0.9h-0.9zM164.6 112.6h0.9v0.9h-0.9zM173.6 115.3h0.9v0.9h-0.9zM168.7 113.2h0.9v0.9h-0.9zM169.5 122.2h0.9v0.9h-0.9zM170.7 123.2h0.9v0.9h-0.9zM172.4 111.6h0.9v0.9h-0.9zM173.0 129.8h0.9v0.9h-0.9zM169.5 110.7h0.9v0.9h-0.9zM167.8 110.4h0.9v0.9h-0.9zM174.3 109.6h0.9v0.9h-0.9zM170.1 128.5h0.9v0.9h-0.9zM170.0 109.5h0.9v0.9h-0.9zM170.3 117.9h0.9v0.9h-0.9zM171.5 116.1h0.9v0.9h-0.9zM174.7 111.4h0.9v0.9h-0.9zM172.2 122.7h0.9v0.9h-0.9zM172.9 112.0h0.9v0.9h-0.9zM171.9 113.4h0.9v0.9h-0.9zM169.3 118.8h0.9v0.9h-0.9zM173.3 123.3h0.9v0.9h-0.9zM169.5 111.7h0.9v0.9h-0.9zM167.9 123.4h0.9v0.9h-0.9zM165.9 117.4h0.9v0.9h-0.9zM173.0 126.7h0.9v0.9h-0.9zM171.0 120.8h0.9v0.9h-0.9zM169.9 128.8h0.9v0.9h-0.9zM167.3 117.4h0.9v0.9h-0.9zM168.7 121.9h0.9v0.9h-0.9zM170.2 130.3h0.9v0.9h-0.9zM170.6 118.9h0.9v0.9h-0.9zM170.8 109.5h0.9v0.9h-0.9zM165.5 110.1h0.9v0.9h-0.9zM176.0 109.8h0.9v0.9h-0.9zM157.8 109.5h0.9v0.9h-0.9zM168.5 111.9h0.9v0.9h-0.9zM156.3 109.7h0.9v0.9h-0.9zM161.3 110.5h0.9v0.9h-0.9zM166.3 112.6h0.9v0.9h-0.9zM157.3 111.6h0.9v0.9h-0.9zM153.0 109.4h0.9v0.9h-0.9zM150.3 110.3h0.9v0.9h-0.9zM162.8 111.5h0.9v0.9h-0.9zM165.2 110.4h0.9v0.9h-0.9zM166.1 109.7h0.9v0.9h-0.9zM161.1 110.5h0.9v0.9h-0.9zM162.9 113.6h0.9v0.9h-0.9zM170.5 109.2h0.9v0.9h-0.9zM151.5 111.4h0.9v0.9h-0.9zM155.5 110.1h0.9v0.9h-0.9zM154.4 109.9h0.9v0.9h-0.9zM175.7 111.0h0.9v0.9h-0.9zM152.0 109.7h0.9v0.9h-0.9zM160.2 110.8h0.9v0.9h-0.9zM174.6 109.7h0.9v0.9h-0.9zM167.0 111.7h0.9v0.9h-0.9zM173.0 110.5h0.9v0.9h-0.9zM162.4 110.9h0.9v0.9h-0.9zM171.9 110.1h0.9v0.9h-0.9zM151.6 110.3h0.9v0.9h-0.9zM168.8 110.4h0.9v0.9h-0.9zM162.8 111.7h0.9v0.9h-0.9zM166.2 110.4h0.9v0.9h-0.9zM151.1 110.9h0.9v0.9h-0.9zM165.8 113.8h0.9v0.9h-0.9zM159.4 112.0h0.9v0.9h-0.9zM162.8 113.1h0.9v0.9h-0.9zM161.4 113.0h0.9v0.9h-0.9zM156.2 110.9h0.9v0.9h-0.9zM168.4 112.7h0.9v0.9h-0.9zM172.1 109.8h0.9v0.9h-0.9zM160.0 111.0h0.9v0.9h-0.9zM173.8 111.2h0.9v0.9h-0.9zM153.5 110.4h0.9v0.9h-0.9zM173.6 109.6h0.9v0.9h-0.9zM174.5 109.5h0.9v0.9h-0.9zM176.7 111.4h0.9v0.9h-0.9zM160.6 109.4h0.9v0.9h-0.9zM175.3 109.6h0.9v0.9h-0.9zM172.1 110.2h0.9v0.9h-0.9zM173.0 112.4h0.9v0.9h-0.9zM168.4 109.7h0.9v0.9h-0.9zM174.0 111.4h0.9v0.9h-0.9zM163.1 111.0h0.9v0.9h-0.9zM155.2 111.8h0.9v0.9h-0.9zM156.2 110.5h0.9v0.9h-0.9zM153.1 111.9h0.9v0.9h-0.9zM168.3 114.9h0.9v0.9h-0.9zM154.4 109.8h0.9v0.9h-0.9zM158.4 109.2h0.9v0.9h-0.9zM160.3 109.6h0.9v0.9h-0.9zM167.1 110.2h0.9v0.9h-0.9zM173.0 109.4h0.9v0.9h-0.9zM155.3 115.8h0.9v0.9h-0.9zM165.2 111.7h0.9v0.9h-0.9zM166.4 110.2h0.9v0.9h-0.9zM168.3 110.3h0.9v0.9h-0.9zM174.0 110.2h0.9v0.9h-0.9zM176.3 110.4h0.9v0.9h-0.9zM157.0 111.9h0.9v0.9h-0.9zM167.9 112.5h0.9v0.9h-0.9zM150.0 110.9h0.9v0.9h-0.9zM155.6 112.9h0.9v0.9h-0.9zM160.8 109.5h0.9v0.9h-0.9zM164.9 111.4h0.9v0.9h-0.9zM166.4 109.4h0.9v0.9h-0.9zM174.7 110.5h0.9v0.9h-0.9zM169.4 111.0h0.9v0.9h-0.9zM158.3 111.4h0.9v0.9h-0.9zM151.4 110.8h0.9v0.9h-0.9zM158.2 109.8h0.9v0.9h-0.9zM173.2 109.3h0.9v0.9h-0.9zM154.6 110.5h0.9v0.9h-0.9zM159.7 109.4h0.9v0.9h-0.9zM172.2 110.3h0.9v0.9h-0.9zM154.3 109.5h0.9v0.9h-0.9zM167.8 110.7h0.9v0.9h-0.9zM153.2 109.6h0.9v0.9h-0.9zM150.5 113.1h0.9v0.9h-0.9zM155.3 109.3h0.9v0.9h-0.9zM168.4 112.6h0.9v0.9h-0.9zM156.7 110.9h0.9v0.9h-0.9zM163.4 110.2h0.9v0.9h-0.9zM170.1 109.9h0.9v0.9h-0.9zM151.3 109.8h0.9v0.9h-0.9zM155.1 109.6h0.9v0.9h-0.9zM158.3 113.2h0.9v0.9h-0.9zM151.3 110.6h0.9v0.9h-0.9zM174.5 110.1h0.9v0.9h-0.9zM175.3 110.2h0.9v0.9h-0.9zM171.4 109.9h0.9v0.9h-0.9zM172.9 112.6h0.9v0.9h-0.9zM150.3 111.5h0.9v0.9h-0.9zM169.1 111.4h0.9v0.9h-0.9zM171.6 114.6h0.9v0.9h-0.9zM162.5 111.2h0.9v0.9h-0.9zM167.0 109.9h0.9v0.9h-0.9zM150.2 111.8h0.9v0.9h-0.9zM169.3 109.4h0.9v0.9h-0.9zM175.2 110.7h0.9v0.9h-0.9zM167.5 111.5h0.9v0.9h-0.9zM154.0 111.6h0.9v0.9h-0.9zM170.7 109.3h0.9v0.9h-0.9zM161.5 111.8h0.9v0.9h-0.9zM158.7 109.8h0.9v0.9h-0.9zM154.6 110.9h0.9v0.9h-0.9zM153.0 111.5h0.9v0.9h-0.9zM175.6 110.6h0.9v0.9h-0.9zM159.5 112.4h0.9v0.9h-0.9zM175.8 109.4h0.9v0.9h-0.9zM169.0 109.3h0.9v0.9h-0.9zM160.4 109.6h0.9v0.9h-0.9zM162.1 110.4h0.9v0.9h-0.9zM168.2 111.9h0.9v0.9h-0.9zM155.4 109.9h0.9v0.9h-0.9zM168.0 110.8h0.9v0.9h-0.9zM154.5 109.8h0.9v0.9h-0.9zM161.8 109.5h0.9v0.9h-0.9zM160.9 111.3h0.9v0.9h-0.9zM158.1 110.5h0.9v0.9h-0.9zM151.8 109.2h0.9v0.9h-0.9zM166.4 112.5h0.9v0.9h-0.9zM177.1 111.9h0.9v0.9h-0.9zM156.4 109.3h0.9v0.9h-0.9zM156.4 109.5h0.9v0.9h-0.9zM154.4 111.0h0.9v0.9h-0.9zM172.3 109.3h0.9v0.9h-0.9zM171.2 111.6h0.9v0.9h-0.9zM167.5 112.5h0.9v0.9h-0.9zM157.3 110.0h0.9v0.9h-0.9zM153.7 113.2h0.9v0.9h-0.9zM157.0 109.4h0.9v0.9h-0.9zM176.0 110.4h0.9v0.9h-0.9zM175.2 112.6h0.9v0.9h-0.9zM163.0 111.5h0.9v0.9h-0.9zM151.5 112.3h0.9v0.9h-0.9zM153.2 109.3h0.9v0.9h-0.9zM153.7 110.3h0.9v0.9h-0.9zM158.1 109.5h0.9v0.9h-0.9zM173.5 109.8h0.9v0.9h-0.9zM173.4 109.3h0.9v0.9h-0.9zM150.4 111.6h0.9v0.9h-0.9zM150.8 109.6h0.9v0.9h-0.9zM174.5 111.7h0.9v0.9h-0.9zM176.4 109.5h0.9v0.9h-0.9zM165.9 110.1h0.9v0.9h-0.9zM150.8 110.1h0.9v0.9h-0.9zM169.4 110.2h0.9v0.9h-0.9zM150.9 109.5h0.9v0.9h-0.9zM165.8 110.4h0.9v0.9h-0.9zM173.9 109.9h0.9v0.9h-0.9zM165.6 110.9h0.9v0.9h-0.9zM169.8 111.5h0.9v0.9h-0.9zM165.6 111.3h0.9v0.9h-0.9zM167.9 111.4h0.9v0.9h-0.9zM151.5 109.9h0.9v0.9h-0.9zM161.8 109.7h0.9v0.9h-0.9zM164.1 110.8h0.9v0.9h-0.9zM151.5 111.5h0.9v0.9h-0.9zM156.9 111.2h0.9v0.9h-0.9zM159.0 109.6h0.9v0.9h-0.9zM172.3 109.4h0.9v0.9h-0.9zM154.6 109.4h0.9v0.9h-0.9zM170.6 111.1h0.9v0.9h-0.9zM161.5 109.8h0.9v0.9h-0.9zM165.1 109.8h0.9v0.9h-0.9zM172.6 109.7h0.9v0.9h-0.9zM166.7 110.5h0.9v0.9h-0.9zM168.8 110.7h0.9v0.9h-0.9zM168.4 113.8h0.9v0.9h-0.9zM160.3 109.7h0.9v0.9h-0.9zM172.3 110.7h0.9v0.9h-0.9zM174.8 110.5h0.9v0.9h-0.9zM164.2 110.1h0.9v0.9h-0.9zM170.2 112.1h0.9v0.9h-0.9zM159.5 109.6h0.9v0.9h-0.9zM168.5 111.5h0.9v0.9h-0.9zM161.1 109.3h0.9v0.9h-0.9zM160.1 110.4h0.9v0.9h-0.9zM161.4 109.4h0.9v0.9h-0.9zM155.4 109.3h0.9v0.9h-0.9zM167.7 110.4h0.9v0.9h-0.9zM150.5 113.3h0.9v0.9h-0.9zM162.2 109.9h0.9v0.9h-0.9zM159.7 110.8h0.9v0.9h-0.9zM164.2 112.1h0.9v0.9h-0.9zM152.2 109.4h0.9v0.9h-0.9zM156.3 109.3h0.9v0.9h-0.9zM157.8 110.1h0.9v0.9h-0.9zM165.3 110.1h0.9v0.9h-0.9zM158.5 110.1h0.9v0.9h-0.9zM159.4 111.9h0.9v0.9h-0.9zM160.4 112.7h0.9v0.9h-0.9zM158.0 109.5h0.9v0.9h-0.9zM154.1 109.8h0.9v0.9h-0.9zM159.0 111.4h0.9v0.9h-0.9zM164.5 110.2h0.9v0.9h-0.9zM159.0 110.0h0.9v0.9h-0.9zM151.6 112.4h0.9v0.9h-0.9zM161.4 111.7h0.9v0.9h-0.9zM158.1 109.4h0.9v0.9h-0.9zM162.1 109.9h0.9v0.9h-0.9zM160.4 109.8h0.9v0.9h-0.9zM174.8 110.6h0.9v0.9h-0.9zM155.8 110.6h0.9v0.9h-0.9zM171.6 110.8h0.9v0.9h-0.9zM173.4 110.5h0.9v0.9h-0.9zM160.3 109.8h0.9v0.9h-0.9zM156.7 109.7h0.9v0.9h-0.9zM156.6 109.3h0.9v0.9h-0.9zM176.2 110.3h0.9v0.9h-0.9zM158.8 112.8h0.9v0.9h-0.9zM166.0 109.7h0.9v0.9h-0.9zM155.3 110.8h0.9v0.9h-0.9zM166.2 111.2h0.9v0.9h-0.9zM171.8 110.5h0.9v0.9h-0.9zM169.6 111.5h0.9v0.9h-0.9zM163.0 109.5h0.9v0.9h-0.9zM154.2 110.7h0.9v0.9h-0.9zM156.1 110.0h0.9v0.9h-0.9zM150.5 111.8h0.9v0.9h-0.9zM155.2 109.7h0.9v0.9h-0.9zM164.5 111.5h0.9v0.9h-0.9zM165.7 125.7h0.9v0.9h-0.9zM165.4 116.8h0.9v0.9h-0.9zM163.8 126.0h0.9v0.9h-0.9zM165.4 118.1h0.9v0.9h-0.9zM165.1 125.4h0.9v0.9h-0.9zM160.1 126.1h0.9v0.9h-0.9zM157.6 111.9h0.9v0.9h-0.9zM162.7 116.5h0.9v0.9h-0.9zM156.9 124.9h0.9v0.9h-0.9zM164.2 124.6h0.9v0.9h-0.9zM157.1 122.6h0.9v0.9h-0.9zM162.7 114.7h0.9v0.9h-0.9zM163.2 125.1h0.9v0.9h-0.9zM159.0 115.1h0.9v0.9h-0.9zM159.5 110.3h0.9v0.9h-0.9zM162.4 112.9h0.9v0.9h-0.9zM158.7 113.2h0.9v0.9h-0.9zM159.8 113.6h0.9v0.9h-0.9zM155.6 129.9h0.9v0.9h-0.9zM156.6 110.9h0.9v0.9h-0.9zM163.6 119.1h0.9v0.9h-0.9zM164.0 126.6h0.9v0.9h-0.9zM161.1 111.6h0.9v0.9h-0.9zM164.3 123.6h0.9v0.9h-0.9zM155.7 124.4h0.9v0.9h-0.9zM157.3 111.8h0.9v0.9h-0.9zM160.7 119.0h0.9v0.9h-0.9zM165.2 116.1h0.9v0.9h-0.9zM162.1 128.7h0.9v0.9h-0.9zM152.8 113.3h0.9v0.9h-0.9zM151.4 124.7h0.9v0.9h-0.9zM153.6 119.9h0.9v0.9h-0.9zM163.2 118.0h0.9v0.9h-0.9zM165.7 113.6h0.9v0.9h-0.9zM165.1 121.7h0.9v0.9h-0.9zM160.7 118.1h0.9v0.9h-0.9zM155.9 125.4h0.9v0.9h-0.9zM165.9 116.3h0.9v0.9h-0.9zM154.2 120.0h0.9v0.9h-0.9zM160.8 118.5h0.9v0.9h-0.9zM156.5 120.7h0.9v0.9h-0.9zM165.7 118.9h0.9v0.9h-0.9zM163.5 116.2h0.9v0.9h-0.9zM165.0 119.9h0.9v0.9h-0.9zM160.7 116.4h0.9v0.9h-0.9zM165.4 113.4h0.9v0.9h-0.9zM164.7 115.0h0.9v0.9h-0.9zM161.2 124.6h0.9v0.9h-0.9zM163.2 121.5h0.9v0.9h-0.9zM155.4 116.6h0.9v0.9h-0.9zM163.0 126.1h0.9v0.9h-0.9zM159.2 114.5h0.9v0.9h-0.9zM158.3 119.4h0.9v0.9h-0.9zM160.7 113.0h0.9v0.9h-0.9zM164.8 118.7h0.9v0.9h-0.9zM165.4 128.5h0.9v0.9h-0.9zM158.1 111.9h0.9v0.9h-0.9zM157.4 123.1h0.9v0.9h-0.9zM161.3 118.7h0.9v0.9h-0.9zM163.9 110.9h0.9v0.9h-0.9zM154.3 118.1h0.9v0.9h-0.9zM163.5 123.0h0.9v0.9h-0.9zM158.2 112.3h0.9v0.9h-0.9zM162.2 130.8h0.9v0.9h-0.9zM155.8 130.5h0.9v0.9h-0.9zM161.1 130.3h0.9v0.9h-0.9zM158.7 129.8h0.9v0.9h-0.9zM154.6 114.8h0.9v0.9h-0.9zM165.2 111.7h0.9v0.9h-0.9zM161.5 127.4h0.9v0.9h-0.9zM165.9 115.7h0.9v0.9h-0.9zM159.0 128.0h0.9v0.9h-0.9zM153.0 126.4h0.9v0.9h-0.9zM164.0 116.4h0.9v0.9h-0.9zM161.0 115.2h0.9v0.9h-0.9zM164.3 130.2h0.9v0.9h-0.9zM155.1 130.0h0.9v0.9h-0.9zM159.2 113.3h0.9v0.9h-0.9zM165.1 128.2h0.9v0.9h-0.9zM155.5 122.9h0.9v0.9h-0.9zM153.4 128.2h0.9v0.9h-0.9zM160.1 118.5h0.9v0.9h-0.9zM163.9 125.7h0.9v0.9h-0.9zM162.7 114.7h0.9v0.9h-0.9zM157.0 125.5h0.9v0.9h-0.9zM155.8 125.0h0.9v0.9h-0.9zM158.0 113.9h0.9v0.9h-0.9zM156.7 111.9h0.9v0.9h-0.9zM164.4 127.8h0.9v0.9h-0.9zM156.4 113.6h0.9v0.9h-0.9zM156.4 126.1h0.9v0.9h-0.9zM157.0 111.7h0.9v0.9h-0.9zM155.1 114.9h0.9v0.9h-0.9zM153.0 110.7h0.9v0.9h-0.9zM164.5 120.2h0.9v0.9h-0.9zM162.0 114.9h0.9v0.9h-0.9zM157.0 119.1h0.9v0.9h-0.9zM165.6 130.5h0.9v0.9h-0.9zM161.0 114.3h0.9v0.9h-0.9zM158.4 114.9h0.9v0.9h-0.9zM158.7 114.1h0.9v0.9h-0.9zM161.1 119.3h0.9v0.9h-0.9zM160.5 114.0h0.9v0.9h-0.9zM160.5 122.7h0.9v0.9h-0.9zM163.9 120.3h0.9v0.9h-0.9zM159.4 111.0h0.9v0.9h-0.9zM162.5 130.3h0.9v0.9h-0.9zM165.4 112.3h0.9v0.9h-0.9zM157.8 126.7h0.9v0.9h-0.9zM162.2 118.4h0.9v0.9h-0.9zM164.7 111.6h0.9v0.9h-0.9zM157.4 121.2h0.9v0.9h-0.9zM165.1 116.4h0.9v0.9h-0.9zM154.9 116.7h0.9v0.9h-0.9zM159.6 119.8h0.9v0.9h-0.9zM160.0 128.1h0.9v0.9h-0.9zM157.9 124.6h0.9v0.9h-0.9zM159.5 120.5h0.9v0.9h-0.9zM151.8 119.4h0.9v0.9h-0.9zM165.3 116.9h0.9v0.9h-0.9zM153.6 115.6h0.9v0.9h-0.9zM153.8 114.6h0.9v0.9h-0.9zM157.5 127.9h0.9v0.9h-0.9zM164.1 118.6h0.9v0.9h-0.9zM165.3 119.8h0.9v0.9h-0.9zM165.0 125.4h0.9v0.9h-0.9zM161.9 111.2h0.9v0.9h-0.9zM161.0 112.8h0.9v0.9h-0.9zM157.3 115.3h0.9v0.9h-0.9zM152.4 119.6h0.9v0.9h-0.9zM162.7 118.8h0.9v0.9h-0.9zM161.4 119.0h0.9v0.9h-0.9zM162.2 110.5h0.9v0.9h-0.9zM164.8 117.2h0.9v0.9h-0.9zM161.2 113.9h0.9v0.9h-0.9zM159.9 119.0h0.9v0.9h-0.9zM161.1 127.2h0.9v0.9h-0.9zM164.2 119.5h0.9v0.9h-0.9zM164.2 120.2h0.9v0.9h-0.9zM161.5 122.1h0.9v0.9h-0.9zM162.5 124.2h0.9v0.9h-0.9zM164.8 120.4h0.9v0.9h-0.9zM155.4 117.2h0.9v0.9h-0.9zM162.8 110.6h0.9v0.9h-0.9zM156.5 130.8h0.9v0.9h-0.9zM162.8 120.6h0.9v0.9h-0.9zM163.5 129.4h0.9v0.9h-0.9zM159.6 125.8h0.9v0.9h-0.9zM156.5 125.1h0.9v0.9h-0.9zM158.7 123.7h0.9v0.9h-0.9zM157.3 113.5h0.9v0.9h-0.9zM155.8 125.3h0.9v0.9h-0.9zM165.9 118.1h0.9v0.9h-0.9zM159.3 125.5h0.9v0.9h-0.9zM162.7 128.4h0.9v0.9h-0.9zM164.9 110.7h0.9v0.9h-0.9zM164.4 118.1h0.9v0.9h-0.9zM157.1 126.0h0.9v0.9h-0.9zM158.2 114.8h0.9v0.9h-0.9zM161.0 113.1h0.9v0.9h-0.9zM165.6 123.5h0.9v0.9h-0.9zM163.8 125.9h0.9v0.9h-0.9zM165.4 121.2h0.9v0.9h-0.9zM158.8 127.5h0.9v0.9h-0.9zM165.0 126.4h0.9v0.9h-0.9zM159.5 113.8h0.9v0.9h-0.9zM155.1 115.2h0.9v0.9h-0.9zM159.0 125.3h0.9v0.9h-0.9zM159.6 125.1h0.9v0.9h-0.9zM164.9 129.9h0.9v0.9h-0.9zM156.8 112.7h0.9v0.9h-0.9zM163.1 129.6h0.9v0.9h-0.9zM155.2 129.4h0.9v0.9h-0.9zM153.6 128.1h0.9v0.9h-0.9zM163.8 114.7h0.9v0.9h-0.9zM158.9 128.1h0.9v0.9h-0.9zM161.3 127.9h0.9v0.9h-0.9zM163.2 120.4h0.9v0.9h-0.9zM166.0 120.0h0.9v0.9h-0.9zM154.7 110.8h0.9v0.9h-0.9zM155.9 122.5h0.9v0.9h-0.9zM164.5 126.3h0.9v0.9h-0.9zM165.8 111.1h0.9v0.9h-0.9zM163.7 113.7h0.9v0.9h-0.9zM163.3 115.3h0.9v0.9h-0.9zM161.9 117.2h0.9v0.9h-0.9zM165.0 116.9h0.9v0.9h-0.9zM157.3 112.2h0.9v0.9h-0.9zM165.6 115.4h0.9v0.9h-0.9zM159.2 110.4h0.9v0.9h-0.9zM163.3 121.5h0.9v0.9h-0.9zM162.7 125.3h0.9v0.9h-0.9zM159.2 127.3h0.9v0.9h-0.9zM165.3 125.5h0.9v0.9h-0.9zM164.9 119.1h0.9v0.9h-0.9zM164.1 121.0h0.9v0.9h-0.9zM160.0 113.7h0.9v0.9h-0.9zM157.0 111.4h0.9v0.9h-0.9zM159.1 122.7h0.9v0.9h-0.9z" fill="#000" fill-opacity="1"/>
<rect x="21.5" y="22.9" width="60.90" height="49.80" fill="none" stroke="#111" stroke-width="1"/>
<path d="M38.0 22.9V72.7M21.5 49.3H82.4" stroke="#111" stroke-width="1" fill="none"/>
<rect x="88" y="22.9" width="56.80" height="49.80" fill="none" stroke="#111" stroke-width="1"/>
<path d="M103.4 22.9V72.7M88 49.8H144.8" stroke="#111" stroke-width="1" fill="none"/>
<rect x="149.2" y="22.9" width="61.20" height="49.80" fill="none" stroke="#111" stroke-width="1"/>
<path d="M166 22.9V72.7M149.2 49.6H210.4" stroke="#111" stroke-width="1" fill="none"/>
<rect x="21.5" y="82.5" width="60.90" height="49.60" fill="none" stroke="#111" stroke-width="1"/>
<path d="M38.0 82.5V132.1M21.5 108.5H82.4" stroke="#111" stroke-width="1" fill="none"/>
<rect x="88" y="82.5" width="56.80" height="49.60" fill="none" stroke="#111" stroke-width="1"/>
<path d="M102.6 82.5V132.1M88 108.8H144.8" stroke="#111" stroke-width="1" fill="none"/>
<rect x="149.2" y="82.5" width="61.20" height="49.60" fill="none" stroke="#111" stroke-width="1"/>
<path d="M166.2 82.5V132.1M149.2 108.5H210.4" stroke="#111" stroke-width="1" fill="none"/>
<text x="71.30" y="34.20" font-size="8" text-anchor="middle" font-weight="normal" fill="#000" >81.1</text>
<text x="71.60" y="43.60" font-size="8" text-anchor="middle" font-weight="normal" fill="#000" >(32.1)</text>
<text x="132.60" y="34.20" font-size="8" text-anchor="middle" font-weight="normal" fill="#000" >86.8</text>
<text x="132.90" y="43.60" font-size="8" text-anchor="middle" font-weight="normal" fill="#000" >(31.2)</text>
<text x="199.60" y="34.20" font-size="8" text-anchor="middle" font-weight="normal" fill="#000" >49.3</text>
<text x="199.90" y="43.60" font-size="8" text-anchor="middle" font-weight="normal" fill="#000" >(27.3)</text>
<text x="71.30" y="118.30" font-size="8" text-anchor="middle" font-weight="normal" fill="#000" >76.1</text>
<text x="71.60" y="127.70" font-size="8" text-anchor="middle" font-weight="normal" fill="#000" >(26.6)</text>
<text x="132.60" y="118.30" font-size="8" text-anchor="middle" font-weight="normal" fill="#000" >84.9</text>
<text x="132.90" y="127.70" font-size="8" text-anchor="middle" font-weight="normal" fill="#000" >(25.9)</text>
<text x="199.40" y="118.30" font-size="8" text-anchor="middle" font-weight="normal" fill="#000" >54.6</text>
<text x="199.70" y="127.70" font-size="8" text-anchor="middle" font-weight="normal" fill="#000" >(28.5)</text>
<text transform="translate(13,103) rotate(-90)" font-size="9.3" text-anchor="middle">CD44 PE</text>
<text x="64.00" y="150.40" font-size="9.3" text-anchor="middle" font-weight="normal" fill="#000" >CD127 FITC</text>
<path d="M5 133.6V150.5H22.2 M1.6 139.4L5 133.2L8.5 139.4 M16.3 147.2L22.6 150.5L16.3 153.8" stroke="#111" stroke-width="0.9" fill="none" stroke-linecap="round" stroke-linejoin="round"/>
<text x="235.30" y="12.80" font-size="15.5" text-anchor="start" font-weight="bold" fill="#000" >B</text>
<text x="308" y="8" font-size="8.1" text-anchor="start" fill="#000">CD44<tspan font-size="5.5" dy="-2.7" dx="0.3">high</tspan></text>
<text x="431.7" y="8" font-size="8.1" text-anchor="start" fill="#000">CD44<tspan font-size="5.5" dy="-2.7" dx="0.3">int/low</tspan></text>
<path d="M256.6 33.0V166.8H382.4" stroke="#111" stroke-width="1" fill="none"/>
<path d="M384.4 33.0V166.8H510" stroke="#222" stroke-width="0.9" fill="none"/>
<path d="M254.6 166.80H256.6" stroke="#111" stroke-width="0.8"/>
<path d="M384.4 166.80h1.6M382.4 166.80h-1.4" stroke="#333" stroke-width="0.6"/>
<text x="253.80" y="169.70" font-size="8" text-anchor="end" font-weight="normal" fill="#000" >0</text>
<path d="M254.6 140.04H256.6" stroke="#111" stroke-width="0.8"/>
<path d="M384.4 140.04h1.6M382.4 140.04h-1.4" stroke="#333" stroke-width="0.6"/>
<text x="253.80" y="142.94" font-size="8" text-anchor="end" font-weight="normal" fill="#000" >20</text>
<path d="M254.6 113.28H256.6" stroke="#111" stroke-width="0.8"/>
<path d="M384.4 113.28h1.6M382.4 113.28h-1.4" stroke="#333" stroke-width="0.6"/>
<text x="253.80" y="116.18" font-size="8" text-anchor="end" font-weight="normal" fill="#000" >40</text>
<path d="M254.6 86.52H256.6" stroke="#111" stroke-width="0.8"/>
<path d="M384.4 86.52h1.6M382.4 86.52h-1.4" stroke="#333" stroke-width="0.6"/>
<text x="253.80" y="89.42" font-size="8" text-anchor="end" font-weight="normal" fill="#000" >60</text>
<path d="M254.6 59.76H256.6" stroke="#111" stroke-width="0.8"/>
<path d="M384.4 59.76h1.6M382.4 59.76h-1.4" stroke="#333" stroke-width="0.6"/>
<text x="253.80" y="62.66" font-size="8" text-anchor="end" font-weight="normal" fill="#000" >80</text>
<path d="M254.6 33.00H256.6" stroke="#111" stroke-width="0.8"/>
<path d="M384.4 33.00h1.6M382.4 33.00h-1.4" stroke="#333" stroke-width="0.6"/>
<text x="253.80" y="35.90" font-size="8" text-anchor="end" font-weight="normal" fill="#000" >100</text>
<text transform="translate(241.2,91.5) rotate(-90)" font-size="8" text-anchor="middle">% CD127<tspan font-size="5" dy="-2.5">+</tspan><tspan dy="2.5"> cells</tspan></text>
<defs><pattern id="st" width="1.9" height="4" patternUnits="userSpaceOnUse"><rect width="1.9" height="4" fill="#fff"/><rect x="0" width="0.8" height="4" fill="#111"/></pattern></defs>
<circle cx="274.7" cy="45.5" r="3.2" fill="#fff" stroke="#222" stroke-width="0.7"/>
<circle cx="281.2" cy="46.5" r="3.2" fill="#fff" stroke="#222" stroke-width="0.7"/>
<circle cx="269.4" cy="50.8" r="3.2" fill="#fff" stroke="#222" stroke-width="0.7"/>
<circle cx="277.3" cy="58.4" r="3.2" fill="#fff" stroke="#222" stroke-width="0.7"/>
<circle cx="280.5" cy="57.7" r="3.2" fill="#fff" stroke="#222" stroke-width="0.7"/>
<circle cx="261.5" cy="59.3" r="3.2" fill="#fff" stroke="#222" stroke-width="0.7"/>
<circle cx="269.2" cy="59.3" r="3.2" fill="#fff" stroke="#222" stroke-width="0.7"/>
<circle cx="260.8" cy="63.5" r="3.2" fill="#fff" stroke="#222" stroke-width="0.7"/>
<circle cx="273.3" cy="62.5" r="3.2" fill="#fff" stroke="#222" stroke-width="0.7"/>
<circle cx="268.5" cy="64.2" r="3.2" fill="#fff" stroke="#222" stroke-width="0.7"/>
<circle cx="274" cy="93.2" r="3.2" fill="#fff" stroke="#222" stroke-width="0.7"/>
<rect x="283.5" y="58.5" width="16.2" height="3.3" fill="#fff" stroke="#333" stroke-width="0.7"/>
<circle cx="301.5" cy="51.5" r="2.95" fill="#fff" stroke="#000" stroke-width="0.95"/>
<path d="M300.50 48.80v5.4M302.50 48.80v5.4" stroke="#000" stroke-width="0.8"/>
<circle cx="307.5" cy="49.5" r="2.95" fill="#fff" stroke="#000" stroke-width="0.95"/>
<path d="M306.50 46.80v5.4M308.50 46.80v5.4" stroke="#000" stroke-width="0.8"/>
<circle cx="313.5" cy="49.5" r="2.95" fill="#fff" stroke="#000" stroke-width="0.95"/>
<path d="M312.50 46.80v5.4M314.50 46.80v5.4" stroke="#000" stroke-width="0.8"/>
<circle cx="319.5" cy="46.5" r="2.95" fill="#fff" stroke="#000" stroke-width="0.95"/>
<path d="M318.50 43.80v5.4M320.50 43.80v5.4" stroke="#000" stroke-width="0.8"/>
<circle cx="319.5" cy="52.9" r="2.95" fill="#fff" stroke="#000" stroke-width="0.95"/>
<path d="M318.50 50.20v5.4M320.50 50.20v5.4" stroke="#000" stroke-width="0.8"/>
<circle cx="324.5" cy="52.3" r="2.95" fill="#fff" stroke="#000" stroke-width="0.95"/>
<path d="M323.50 49.60v5.4M325.50 49.60v5.4" stroke="#000" stroke-width="0.8"/>
<rect x="328.8" y="49.2" width="16.8" height="3.3" fill="#fff" stroke="#000" stroke-width="0.85"/>
<path d="M331.2 49.2v3.3M333.6 49.2v3.3M336.0 49.2v3.3M338.4 49.2v3.3M340.8 49.2v3.3M343.2 49.2v3.3" stroke="#000" stroke-width="0.85"/>
<circle cx="361.8" cy="84.5" r="3.2" fill="#000"/>
<circle cx="355.1" cy="91.8" r="3.2" fill="#000"/>
<circle cx="361.8" cy="93.5" r="3.2" fill="#000"/>
<circle cx="367.6" cy="97.6" r="3.2" fill="#000"/>
<circle cx="360.5" cy="100.4" r="3.2" fill="#000"/>
<circle cx="355.1" cy="105.3" r="3.2" fill="#000"/>
<circle cx="361.8" cy="108.5" r="3.2" fill="#000"/>
<circle cx="360.1" cy="115.7" r="3.2" fill="#000"/>
<circle cx="353.7" cy="118.6" r="3.2" fill="#000"/>
<circle cx="363.7" cy="122" r="3.2" fill="#000"/>
<circle cx="360.1" cy="128.2" r="3.2" fill="#000"/>
<rect x="365.7" y="104.3" width="16.3" height="3.3" fill="#000"/>
<circle cx="409.7" cy="49.3" r="3.2" fill="#fff" stroke="#222" stroke-width="0.7"/>
<circle cx="398.1" cy="52.2" r="3.2" fill="#fff" stroke="#222" stroke-width="0.7"/>
<circle cx="390" cy="54.1" r="3.2" fill="#fff" stroke="#222" stroke-width="0.7"/>
<circle cx="402.6" cy="56.6" r="3.2" fill="#fff" stroke="#222" stroke-width="0.7"/>
<circle cx="395.2" cy="58.3" r="3.2" fill="#fff" stroke="#222" stroke-width="0.7"/>
<circle cx="409.1" cy="59.3" r="3.2" fill="#fff" stroke="#222" stroke-width="0.7"/>
<circle cx="388.5" cy="61.2" r="3.2" fill="#fff" stroke="#222" stroke-width="0.7"/>
<circle cx="396.6" cy="64.7" r="3.2" fill="#fff" stroke="#222" stroke-width="0.7"/>
<circle cx="403.5" cy="65.3" r="3.2" fill="#fff" stroke="#222" stroke-width="0.7"/>
<circle cx="410.6" cy="65.1" r="3.2" fill="#fff" stroke="#222" stroke-width="0.7"/>
<circle cx="398.5" cy="79.1" r="3.2" fill="#fff" stroke="#222" stroke-width="0.7"/>
<rect x="413.4" y="59.1" width="17" height="3.3" fill="#fff" stroke="#111" stroke-width="0.8"/>
<circle cx="441.5" cy="52.5" r="2.95" fill="#fff" stroke="#000" stroke-width="0.95"/>
<path d="M440.50 49.80v5.4M442.50 49.80v5.4" stroke="#000" stroke-width="0.8"/>
<circle cx="447.5" cy="48.9" r="2.95" fill="#fff" stroke="#000" stroke-width="0.95"/>
<path d="M446.50 46.20v5.4M448.50 46.20v5.4" stroke="#000" stroke-width="0.8"/>
<circle cx="454.5" cy="51.6" r="2.95" fill="#fff" stroke="#000" stroke-width="0.95"/>
<path d="M453.50 48.90v5.4M455.50 48.90v5.4" stroke="#000" stroke-width="0.8"/>
<circle cx="443.5" cy="68.9" r="2.95" fill="#fff" stroke="#000" stroke-width="0.95"/>
<path d="M442.50 66.20v5.4M444.50 66.20v5.4" stroke="#000" stroke-width="0.8"/>
<circle cx="449.5" cy="68.9" r="2.95" fill="#fff" stroke="#000" stroke-width="0.95"/>
<path d="M448.50 66.20v5.4M450.50 66.20v5.4" stroke="#000" stroke-width="0.8"/>
<circle cx="447.5" cy="83" r="2.95" fill="#fff" stroke="#000" stroke-width="0.95"/>
<path d="M446.50 80.30v5.4M448.50 80.30v5.4" stroke="#000" stroke-width="0.8"/>
<rect x="448" y="60.9" width="16.4" height="3.3" fill="#fff" stroke="#000" stroke-width="0.85"/>
<path d="M450.3 60.9v3.3M452.7 60.9v3.3M455.0 60.9v3.3M457.4 60.9v3.3M459.7 60.9v3.3M462.1 60.9v3.3" stroke="#000" stroke-width="0.85"/>
<circle cx="488.6" cy="58.5" r="3.2" fill="#000"/>
<circle cx="483.1" cy="62" r="3.2" fill="#000"/>
<circle cx="494.1" cy="63.4" r="3.2" fill="#000"/>
<circle cx="488.6" cy="68.9" r="3.2" fill="#000"/>
<circle cx="483.1" cy="73.9" r="3.2" fill="#000"/>
<circle cx="493.5" cy="73.6" r="3.2" fill="#000"/>
<circle cx="488.6" cy="83.5" r="3.2" fill="#000"/>
<circle cx="483.9" cy="91.8" r="3.2" fill="#000"/>
<circle cx="491.3" cy="93.2" r="3.2" fill="#000"/>
<circle cx="488.6" cy="109.4" r="3.2" fill="#000"/>
<circle cx="488.6" cy="128.2" r="3.2" fill="#000"/>
<rect x="494.1" y="80.8" width="16.5" height="3.3" fill="#000"/>
<rect x="438.5" y="16.2" width="80.6" height="24" fill="#fff" stroke="#333" stroke-width="0.8"/>
<text y="27.5" font-size="7" text-anchor="start"><tspan x="444.7">CD44</tspan><tspan x="462.8" y="25" font-size="4.5">high</tspan><tspan x="474.2" y="27.5" font-size="6.5">vs</tspan><tspan x="484" fill="#777">CD44</tspan><tspan x="501.7" y="25" font-size="4.7" fill="#777">int/low</tspan></text>
<text x="476.8" y="34.9" font-size="6.9" text-anchor="middle"><tspan font-style="italic">P</tspan>≤.01 for BM</text>
<text x="275.4" y="114.5" font-size="6.9" text-anchor="middle"><tspan font-style="italic">P</tspan><tspan dx="0.5">≤.05 vs</tspan></text>
<text x="275.40" y="121.80" font-size="6.8" text-anchor="middle" font-weight="normal" fill="#000" >PLN</text>
<text x="362.9" y="149.5" font-size="6.9" text-anchor="middle"><tspan font-style="italic">P</tspan><tspan dx="0.5">≤.05 vs</tspan></text>
<text x="362.90" y="156.80" font-size="6.8" text-anchor="middle" font-weight="normal" fill="#000" >Spleen, PLN</text>
<text x="488.8" y="148.3" font-size="6.9" text-anchor="middle"><tspan font-style="italic">P</tspan><tspan dx="0.5">≤.05 vs</tspan></text>
<text x="488.80" y="156.00" font-size="6.8" text-anchor="middle" font-weight="normal" fill="#000" >Spleen, PLN</text>
<text x="279.20" y="178.00" font-size="8.2" text-anchor="middle" font-weight="normal" fill="#000" >Spleen</text>
<text x="323.80" y="178.00" font-size="8.2" text-anchor="middle" font-weight="normal" fill="#000" >PLN</text>
<text x="361.70" y="178.00" font-size="8.2" text-anchor="middle" font-weight="normal" fill="#000" >BM</text>
<text x="408.40" y="178.00" font-size="8.2" text-anchor="middle" font-weight="normal" fill="#000" >Spleen</text>
<text x="448.00" y="178.00" font-size="8.2" text-anchor="middle" font-weight="normal" fill="#000" >PLN</text>
<text x="491.40" y="178.00" font-size="8.2" text-anchor="middle" font-weight="normal" fill="#000" >BM</text>
<text x="1.60" y="194.70" font-size="15.3" text-anchor="start" font-weight="bold" fill="#000" >C</text>
<text x="125.5" y="207.1" font-size="8.1" text-anchor="start" fill="#000">CD44<tspan font-size="5.5" dy="-2.7" dx="0.3">high</tspan></text>
<text x="353.6" y="207.1" font-size="8.1" text-anchor="start" fill="#000">CD44<tspan font-size="5.5" dy="-2.7" dx="0.3">int/low</tspan></text>
<path d="M25 207.0V340.0H251" stroke="#111" stroke-width="1" fill="none"/>
<path d="M258 207.0V340.0H485.5" stroke="#222" stroke-width="0.9" fill="none"/>
<path d="M23 340.00H25" stroke="#111" stroke-width="0.8"/>
<path d="M258 340.00h1.6" stroke="#333" stroke-width="0.6"/>
<text x="22.40" y="341.00" font-size="8.3" text-anchor="end" font-weight="normal" fill="#000" >0</text>
<path d="M23 313.40H25" stroke="#111" stroke-width="0.8"/>
<path d="M258 313.40h1.6" stroke="#333" stroke-width="0.6"/>
<text x="22.40" y="317.80" font-size="8.3" text-anchor="end" font-weight="normal" fill="#000" >20</text>
<path d="M23 286.80H25" stroke="#111" stroke-width="0.8"/>
<path d="M258 286.80h1.6" stroke="#333" stroke-width="0.6"/>
<text x="22.40" y="290.20" font-size="8.3" text-anchor="end" font-weight="normal" fill="#000" >40</text>
<path d="M23 260.20H25" stroke="#111" stroke-width="0.8"/>
<path d="M258 260.20h1.6" stroke="#333" stroke-width="0.6"/>
<text x="22.40" y="263.80" font-size="8.3" text-anchor="end" font-weight="normal" fill="#000" >60</text>
<path d="M23 233.60H25" stroke="#111" stroke-width="0.8"/>
<path d="M258 233.60h1.6" stroke="#333" stroke-width="0.6"/>
<text x="22.40" y="236.60" font-size="8.3" text-anchor="end" font-weight="normal" fill="#000" >80</text>
<path d="M23 207.00H25" stroke="#111" stroke-width="0.8"/>
<path d="M258 207.00h1.6" stroke="#333" stroke-width="0.6"/>
<text x="22.40" y="209.60" font-size="8.3" text-anchor="end" font-weight="normal" fill="#000" >100</text>
<text transform="translate(9.2,264.4) rotate(-90)" font-size="8.3" text-anchor="middle">% CD127<tspan font-size="5" dy="-2.5">+</tspan><tspan dy="2.5"> cells</tspan></text>
<rect x="43.80" y="262.46" width="11.70" height="77.54" fill="#000"/>
<rect x="32.90" y="262.86" width="10.90" height="77.14" fill="#fff" stroke="#111" stroke-width="0.8"/>
<rect x="82.00" y="253.68" width="11.80" height="86.32" fill="#000"/>
<rect x="71.20" y="261.13" width="10.80" height="78.87" fill="#fff" stroke="#111" stroke-width="0.8"/>
<rect x="119.50" y="301.96" width="11.50" height="38.04" fill="#000"/>
<rect x="108.40" y="324.44" width="11.10" height="15.56" fill="#fff" stroke="#111" stroke-width="0.8"/>
<rect x="157.50" y="245.04" width="12.00" height="94.96" fill="#000"/>
<rect x="146.70" y="281.21" width="10.80" height="58.79" fill="#fff" stroke="#111" stroke-width="0.8"/>
<rect x="195.50" y="274.56" width="12.00" height="65.44" fill="#000"/>
<rect x="184.70" y="305.42" width="10.80" height="34.58" fill="#fff" stroke="#111" stroke-width="0.8"/>
<rect x="233.00" y="297.71" width="11.50" height="42.29" fill="#000"/>
<rect x="222.40" y="324.84" width="10.60" height="15.16" fill="#fff" stroke="#111" stroke-width="0.8"/>
<rect x="281.30" y="249.96" width="11.70" height="90.04" fill="#000"/>
<rect x="270.40" y="214.85" width="10.90" height="125.15" fill="#fff" stroke="#111" stroke-width="0.8"/>
<rect x="318.80" y="257.94" width="11.70" height="82.06" fill="#000"/>
<rect x="308.40" y="226.02" width="10.40" height="113.98" fill="#fff" stroke="#111" stroke-width="0.8"/>
<rect x="356.80" y="291.45" width="11.20" height="48.55" fill="#000"/>
<rect x="346.20" y="263.66" width="10.60" height="76.34" fill="#fff" stroke="#111" stroke-width="0.8"/>
<rect x="394.50" y="258.20" width="11.80" height="81.80" fill="#000"/>
<rect x="384.20" y="210.06" width="10.30" height="129.94" fill="#fff" stroke="#111" stroke-width="0.8"/>
<rect x="432.50" y="314.46" width="11.80" height="25.54" fill="#000"/>
<rect x="421.70" y="329.09" width="10.80" height="10.91" fill="#fff" stroke="#111" stroke-width="0.8"/>
<rect x="470.00" y="324.44" width="12.00" height="15.56" fill="#000"/>
<rect x="459.70" y="338.01" width="10.30" height="1.99" fill="#fff" stroke="#111" stroke-width="0.8"/>
<path d="M71.2 345.3V350.6Q71.2 351.8 72.4 351.8H130.8Q132 351.8 132 350.6V345.3" stroke="#444" stroke-width="0.7" fill="none"/>
<path d="M153.8 345.3V350.6Q153.8 351.8 155.0 351.8H243.10000000000002Q244.3 351.8 244.3 350.6V345.3" stroke="#444" stroke-width="0.7" fill="none"/>
<path d="M308 345.3V350.6Q308 351.8 309.2 351.8H366.8Q368 351.8 368 350.6V345.3" stroke="#444" stroke-width="0.7" fill="none"/>
<path d="M387.5 345.3V350.6Q387.5 351.8 388.7 351.8H478.8Q480 351.8 480 350.6V345.3" stroke="#444" stroke-width="0.7" fill="none"/>
<text x="81.30" y="350.00" font-size="8" text-anchor="middle" font-weight="normal" fill="#000" >10</text>
<text x="116.80" y="350.00" font-size="8" text-anchor="middle" font-weight="normal" fill="#000" >50</text>
<text x="165.50" y="350.00" font-size="8" text-anchor="middle" font-weight="normal" fill="#000" >0.1</text>
<text x="198.80" y="350.00" font-size="8" text-anchor="middle" font-weight="normal" fill="#000" >1</text>
<text x="230.00" y="350.00" font-size="8" text-anchor="middle" font-weight="normal" fill="#000" >10</text>
<text x="320.50" y="350.00" font-size="8" text-anchor="middle" font-weight="normal" fill="#000" >10</text>
<text x="356.00" y="350.00" font-size="8" text-anchor="middle" font-weight="normal" fill="#000" >50</text>
<text x="398.80" y="350.00" font-size="8" text-anchor="middle" font-weight="normal" fill="#000" >0.1</text>
<text x="433.30" y="350.00" font-size="8" text-anchor="middle" font-weight="normal" fill="#000" >1</text>
<text x="470.50" y="350.00" font-size="8" text-anchor="middle" font-weight="normal" fill="#000" >10</text>
<text x="47.50" y="360.80" font-size="8.4" text-anchor="middle" font-weight="normal" fill="#000" >medium</text>
<text x="98.80" y="360.80" font-size="8.4" text-anchor="middle" font-weight="normal" fill="#000" >IL-15</text>
<text x="200.00" y="360.80" font-size="8.4" text-anchor="middle" font-weight="normal" fill="#000" >IL-7</text>
<text x="282.00" y="360.80" font-size="8.4" text-anchor="middle" font-weight="normal" fill="#000" >medium</text>
<text x="338.80" y="360.80" font-size="8.4" text-anchor="middle" font-weight="normal" fill="#000" >IL-15</text>
<text x="431.30" y="360.80" font-size="8.4" text-anchor="middle" font-weight="normal" fill="#000" >IL-7</text>
<text x="503.00" y="351.20" font-size="8" text-anchor="middle" font-weight="normal" fill="#000" >(ng/mL)</text>
<rect x="478.3" y="241.6" width="38" height="26.2" fill="#fff" stroke="#bbb" stroke-width="0.8"/>
<rect x="482.6" y="248.2" width="4.8" height="4.8" fill="#fff" stroke="#000" stroke-width="1"/>
<rect x="482.1" y="258.2" width="5.6" height="5.4" fill="#000"/>
<text x="490.30" y="253.20" font-size="7" text-anchor="start" font-weight="normal" fill="#000" >Spleen</text>
<text x="490.30" y="263.60" font-size="7" text-anchor="start" font-weight="normal" fill="#000" >BM</text></svg></body></html>
